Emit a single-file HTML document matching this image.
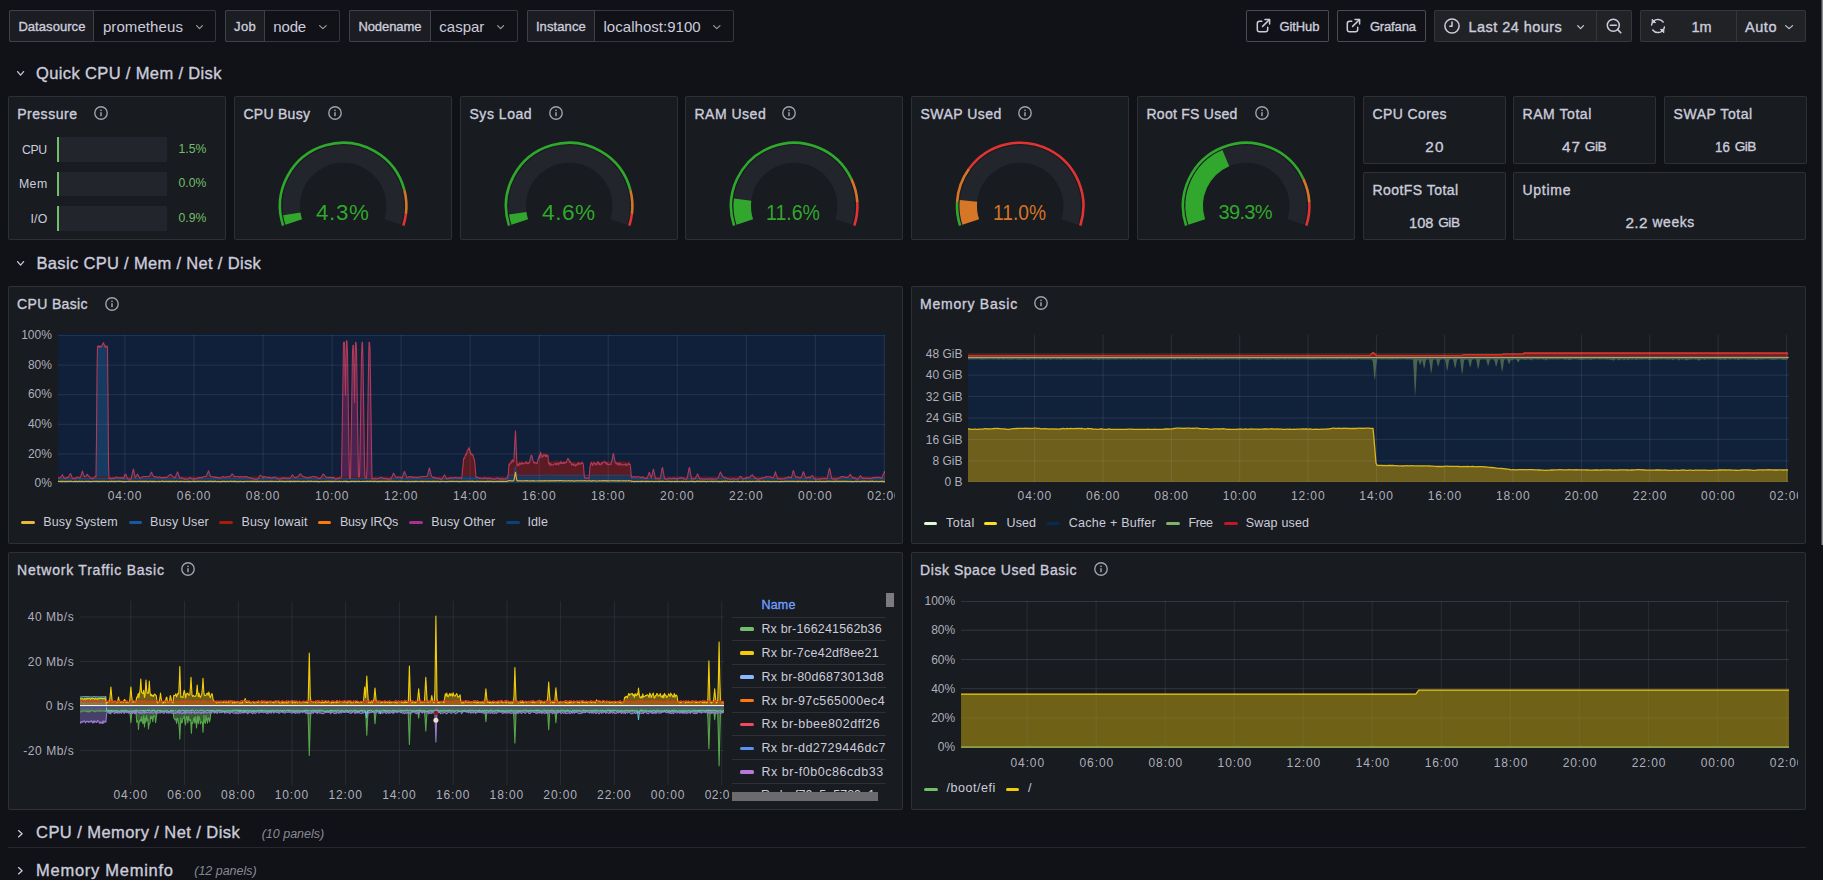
<!DOCTYPE html>
<html><head><meta charset="utf-8"><title>Node Exporter Full - Grafana</title>
<style>
html,body{margin:0;padding:0;}
body{width:1823px;height:880px;overflow:hidden;background:#111217;position:relative;font-family:"Liberation Sans",sans-serif;}
.t{position:absolute;white-space:pre;font-family:"Liberation Sans",sans-serif;}
.b{position:absolute;box-sizing:content-box;}
.s{position:absolute;overflow:hidden;}
</style></head><body>
<div class="b" style="left:9.00px;top:10.00px;width:205.00px;height:30.00px;background:#111217;border:1px solid rgba(204,204,220,0.2);border-radius:2px"></div>
<div class="b" style="left:9.00px;top:10.00px;width:83.00px;height:30.00px;background:#1b1d22;border:1px solid rgba(204,204,220,0.2);border-radius:2px;border-top-right-radius:0;border-bottom-right-radius:0"></div>
<span class="t" style="left:18.40px;top:19.95px;font-size:13.00px;line-height:13.00px;color:#ccccdc;letter-spacing:0.058px;-webkit-text-stroke:0.35px #ccccdc">Datasource</span>
<span class="t" style="left:102.90px;top:18.95px;font-size:15.00px;line-height:15.00px;color:#ccccdc;letter-spacing:0.087px">prometheus</span>
<svg class="s" style="left:193.60px;top:23.00px;" width="11.00" height="8.00" viewBox="0 0 11.00 8.00"><path d="M2.6 2.6 L5.50 5.60 L8.40 2.6" fill="none" stroke="#9a9ba3" stroke-width="1.2" stroke-linecap="round" stroke-linejoin="round"/></svg>
<div class="b" style="left:225.00px;top:10.00px;width:113.00px;height:30.00px;background:#111217;border:1px solid rgba(204,204,220,0.2);border-radius:2px"></div>
<div class="b" style="left:225.00px;top:10.00px;width:38.00px;height:30.00px;background:#1b1d22;border:1px solid rgba(204,204,220,0.2);border-radius:2px;border-top-right-radius:0;border-bottom-right-radius:0"></div>
<span class="t" style="left:234.10px;top:19.95px;font-size:13.00px;line-height:13.00px;color:#ccccdc;letter-spacing:0.372px;-webkit-text-stroke:0.35px #ccccdc">Job</span>
<span class="t" style="left:273.30px;top:18.95px;font-size:15.00px;line-height:15.00px;color:#ccccdc;letter-spacing:-0.158px">node</span>
<svg class="s" style="left:317.20px;top:23.00px;" width="11.80" height="8.00" viewBox="0 0 11.80 8.00"><path d="M2.6 2.6 L5.90 5.60 L9.20 2.6" fill="none" stroke="#9a9ba3" stroke-width="1.2" stroke-linecap="round" stroke-linejoin="round"/></svg>
<div class="b" style="left:349.00px;top:10.00px;width:167.00px;height:30.00px;background:#111217;border:1px solid rgba(204,204,220,0.2);border-radius:2px"></div>
<div class="b" style="left:349.00px;top:10.00px;width:80.00px;height:30.00px;background:#1b1d22;border:1px solid rgba(204,204,220,0.2);border-radius:2px;border-top-right-radius:0;border-bottom-right-radius:0"></div>
<span class="t" style="left:358.40px;top:19.95px;font-size:13.00px;line-height:13.00px;color:#ccccdc;letter-spacing:-0.085px;-webkit-text-stroke:0.35px #ccccdc">Nodename</span>
<span class="t" style="left:439.30px;top:18.95px;font-size:15.00px;line-height:15.00px;color:#ccccdc;letter-spacing:-0.003px">caspar</span>
<svg class="s" style="left:495.40px;top:23.00px;" width="11.20" height="8.00" viewBox="0 0 11.20 8.00"><path d="M2.6 2.6 L5.60 5.60 L8.60 2.6" fill="none" stroke="#9a9ba3" stroke-width="1.2" stroke-linecap="round" stroke-linejoin="round"/></svg>
<div class="b" style="left:527.00px;top:10.00px;width:205.00px;height:30.00px;background:#111217;border:1px solid rgba(204,204,220,0.2);border-radius:2px"></div>
<div class="b" style="left:527.00px;top:10.00px;width:66.00px;height:30.00px;background:#1b1d22;border:1px solid rgba(204,204,220,0.2);border-radius:2px;border-top-right-radius:0;border-bottom-right-radius:0"></div>
<span class="t" style="left:535.90px;top:19.95px;font-size:13.00px;line-height:13.00px;color:#ccccdc;letter-spacing:0.109px;-webkit-text-stroke:0.35px #ccccdc">Instance</span>
<span class="t" style="left:603.50px;top:18.95px;font-size:15.00px;line-height:15.00px;color:#ccccdc;letter-spacing:0.036px">localhost:9100</span>
<svg class="s" style="left:711.00px;top:23.00px;" width="11.60" height="8.00" viewBox="0 0 11.60 8.00"><path d="M2.6 2.6 L5.80 5.60 L9.00 2.6" fill="none" stroke="#9a9ba3" stroke-width="1.2" stroke-linecap="round" stroke-linejoin="round"/></svg>
<div class="b" style="left:1246.00px;top:10.00px;width:81.00px;height:30.00px;background:#111217;border:1px solid rgba(204,204,220,0.3);border-radius:2px"></div>
<svg class="s" style="left:1254.50px;top:16.80px;" width="17.00" height="17.00" viewBox="0 0 17.00 17.00"><path d="M6.8 4.3 H4.6 Q2.3 4.3 2.3 6.6 V12.4 Q2.3 14.7 4.6 14.7 H10.4 Q12.7 14.7 12.7 12.4 V10.2" fill="none" stroke="#ccccdc" stroke-width="1.5" stroke-linecap="round"/><path d="M7.6 9.4 L14.3 2.7" fill="none" stroke="#ccccdc" stroke-width="1.5" stroke-linecap="round"/><path d="M10.0 2.4 H14.6 V7.0" fill="none" stroke="#ccccdc" stroke-width="1.5" stroke-linecap="round" stroke-linejoin="round"/></svg>
<span class="t" style="left:1279.40px;top:19.95px;font-size:13.00px;line-height:13.00px;color:#ccccdc;letter-spacing:-0.071px;-webkit-text-stroke:0.35px #ccccdc">GitHub</span>
<div class="b" style="left:1337.00px;top:10.00px;width:87.00px;height:30.00px;background:#111217;border:1px solid rgba(204,204,220,0.3);border-radius:2px"></div>
<svg class="s" style="left:1345.00px;top:16.80px;" width="17.00" height="17.00" viewBox="0 0 17.00 17.00"><path d="M6.8 4.3 H4.6 Q2.3 4.3 2.3 6.6 V12.4 Q2.3 14.7 4.6 14.7 H10.4 Q12.7 14.7 12.7 12.4 V10.2" fill="none" stroke="#ccccdc" stroke-width="1.5" stroke-linecap="round"/><path d="M7.6 9.4 L14.3 2.7" fill="none" stroke="#ccccdc" stroke-width="1.5" stroke-linecap="round"/><path d="M10.0 2.4 H14.6 V7.0" fill="none" stroke="#ccccdc" stroke-width="1.5" stroke-linecap="round" stroke-linejoin="round"/></svg>
<span class="t" style="left:1369.90px;top:19.95px;font-size:13.00px;line-height:13.00px;color:#ccccdc;letter-spacing:-0.147px;-webkit-text-stroke:0.35px #ccccdc">Grafana</span>
<div class="b" style="left:1434.00px;top:10.00px;width:196.00px;height:30.00px;background:#202226;border:1px solid rgba(204,204,220,0.12);border-radius:2px"></div>
<div class="b" style="left:1596.00px;top:11.00px;width:1.00px;height:30.00px;background:rgba(204,204,220,0.12)"></div>
<svg class="s" style="left:1443.00px;top:17.00px;" width="18.00" height="18.00" viewBox="0 0 18.00 18.00"><circle cx="9" cy="9" r="7.1" fill="none" stroke="#ccccdc" stroke-width="1.5"/><path d="M9 5.0 V9.2 H6.8" fill="none" stroke="#ccccdc" stroke-width="1.5" stroke-linecap="round" stroke-linejoin="round"/></svg>
<span class="t" style="left:1468.50px;top:19.68px;font-size:14.50px;line-height:14.50px;color:#ccccdc;letter-spacing:0.452px;-webkit-text-stroke:0.35px #ccccdc">Last 24 hours</span>
<svg class="s" style="left:1574.50px;top:22.50px;" width="11.10" height="8.00" viewBox="0 0 11.10 8.00"><path d="M2.6 2.6 L5.55 5.60 L8.50 2.6" fill="none" stroke="#ccccdc" stroke-width="1.2" stroke-linecap="round" stroke-linejoin="round"/></svg>
<svg class="s" style="left:1604.00px;top:16.00px;" width="22.00" height="22.00" viewBox="0 0 22.00 22.00"><circle cx="9.3" cy="9.2" r="6.0" fill="none" stroke="#ccccdc" stroke-width="1.5"/><path d="M6.3 9.2 H12.3" stroke="#ccccdc" stroke-width="1.5" stroke-linecap="round"/><path d="M13.7 13.6 L16.8 16.8" stroke="#ccccdc" stroke-width="1.6" stroke-linecap="round"/></svg>
<div class="b" style="left:1640.00px;top:10.00px;width:164.00px;height:30.00px;background:#202226;border:1px solid rgba(204,204,220,0.12);border-radius:2px"></div>
<div class="b" style="left:1736.00px;top:11.00px;width:1.00px;height:30.00px;background:rgba(204,204,220,0.12)"></div>
<svg class="s" style="left:1648.00px;top:16.00px;" width="20.00" height="20.00" viewBox="0 0 20.00 20.00"><path d="M3.6 9.0 A6.5 6.5 0 0 1 15.2 6.0" fill="none" stroke="#ccccdc" stroke-width="1.5" stroke-linecap="round"/><path d="M16.4 11.0 A6.5 6.5 0 0 1 4.8 14.0" fill="none" stroke="#ccccdc" stroke-width="1.5" stroke-linecap="round"/><path d="M4.2 3.2 V6.6 H7.6 Z" fill="#ccccdc" stroke="#ccccdc" stroke-width="1" stroke-linejoin="round"/><path d="M15.8 16.8 V13.4 H12.4 Z" fill="#ccccdc" stroke="#ccccdc" stroke-width="1" stroke-linejoin="round"/></svg>
<span class="t" style="left:1691.43px;top:19.68px;font-size:14.50px;line-height:14.50px;color:#ccccdc;-webkit-text-stroke:0.35px #ccccdc">1m</span>
<span class="t" style="left:1745.00px;top:19.68px;font-size:14.50px;line-height:14.50px;color:#ccccdc;letter-spacing:0.558px;-webkit-text-stroke:0.35px #ccccdc">Auto</span>
<svg class="s" style="left:1782.60px;top:22.50px;" width="12.20" height="8.00" viewBox="0 0 12.20 8.00"><path d="M2.6 2.6 L6.10 5.60 L9.60 2.6" fill="none" stroke="#ccccdc" stroke-width="1.2" stroke-linecap="round" stroke-linejoin="round"/></svg>
<div class="b" style="left:1821.00px;top:0.00px;width:1.00px;height:545.00px;background:#4a4b50"></div>
<div class="b" style="left:1822.00px;top:0.00px;width:1.00px;height:545.00px;background:#8a8b90"></div>
<svg class="s" style="left:14.60px;top:68.70px;" width="11.20" height="8.50" viewBox="0 0 11.20 8.50"><path d="M2.6 2.6 L5.60 6.10 L8.60 2.6" fill="none" stroke="#ccccdc" stroke-width="1.3" stroke-linecap="round" stroke-linejoin="round"/></svg>
<span class="t" style="left:36.10px;top:64.97px;font-size:16.50px;line-height:16.50px;color:#ccccdc;letter-spacing:0.358px;-webkit-text-stroke:0.35px #ccccdc">Quick CPU / Mem / Disk</span>
<svg class="s" style="left:14.60px;top:259.30px;" width="11.20" height="8.50" viewBox="0 0 11.20 8.50"><path d="M2.6 2.6 L5.60 6.10 L8.60 2.6" fill="none" stroke="#ccccdc" stroke-width="1.3" stroke-linecap="round" stroke-linejoin="round"/></svg>
<span class="t" style="left:36.50px;top:255.17px;font-size:16.50px;line-height:16.50px;color:#ccccdc;letter-spacing:0.326px;-webkit-text-stroke:0.35px #ccccdc">Basic CPU / Mem / Net / Disk</span>
<svg class="s" style="left:15.70px;top:827.80px;" width="8.50" height="11.50" viewBox="0 0 8.50 11.50"><path d="M2.5 2.6 L6.10 5.75 L2.5 8.90" fill="none" stroke="#ccccdc" stroke-width="1.3" stroke-linecap="round" stroke-linejoin="round"/></svg>
<span class="t" style="left:36.10px;top:824.38px;font-size:16.50px;line-height:16.50px;color:#ccccdc;letter-spacing:0.422px;-webkit-text-stroke:0.35px #ccccdc">CPU / Memory / Net / Disk</span>
<span class="t" style="left:261.70px;top:827.77px;font-size:12.50px;line-height:12.50px;color:rgba(204,204,220,0.65);letter-spacing:-0.004px;font-style:italic">(10 panels)</span>
<div class="b" style="left:8.00px;top:847.00px;width:1798.00px;height:1.00px;background:rgba(204,204,220,0.12)"></div>
<svg class="s" style="left:15.70px;top:865.30px;" width="8.50" height="11.50" viewBox="0 0 8.50 11.50"><path d="M2.5 2.6 L6.10 5.75 L2.5 8.90" fill="none" stroke="#ccccdc" stroke-width="1.3" stroke-linecap="round" stroke-linejoin="round"/></svg>
<span class="t" style="left:36.10px;top:861.68px;font-size:16.50px;line-height:16.50px;color:#ccccdc;letter-spacing:0.720px;-webkit-text-stroke:0.35px #ccccdc">Memory Meminfo</span>
<span class="t" style="left:194.30px;top:865.08px;font-size:12.50px;line-height:12.50px;color:rgba(204,204,220,0.65);letter-spacing:-0.024px;font-style:italic">(12 panels)</span>
<div class="b" style="left:8.00px;top:96.00px;width:216.00px;height:142.00px;background:#181b1f;border:1px solid rgba(204,204,220,0.12);border-radius:2px"></div>
<span class="t" style="left:17.20px;top:106.90px;font-size:14.00px;line-height:14.00px;color:#ccccdc;letter-spacing:0.539px;-webkit-text-stroke:0.35px #ccccdc">Pressure</span>
<svg class="s" style="left:92.90px;top:105.00px;" width="16.00" height="16.00" viewBox="0 0 16.00 16.00"><circle cx="8" cy="8" r="6.20" fill="none" stroke="#a0a1aa" stroke-width="1.4"/><rect x="7.25" y="7.2" width="1.5" height="4" fill="#a0a1aa"/><circle cx="8" cy="5.3" r="0.85" fill="#a0a1aa"/></svg>
<span class="t" style="left:21.90px;top:143.64px;font-size:12.30px;line-height:12.30px;color:#ccccdc;letter-spacing:-0.333px">CPU</span>
<div class="b" style="left:57.00px;top:137.20px;width:109.70px;height:24.60px;background:#22252b"></div>
<div class="b" style="left:57.00px;top:137.20px;width:2.00px;height:24.60px;background:#73bf69"></div>
<span class="t" style="left:178.60px;top:143.23px;font-size:12.20px;line-height:12.20px;color:#73bf69">1.5%</span>
<span class="t" style="left:18.90px;top:177.54px;font-size:12.30px;line-height:12.30px;color:#ccccdc;letter-spacing:0.485px">Mem</span>
<div class="b" style="left:57.00px;top:172.10px;width:109.70px;height:23.70px;background:#22252b"></div>
<div class="b" style="left:57.00px;top:172.10px;width:2.00px;height:23.70px;background:#73bf69"></div>
<span class="t" style="left:178.60px;top:177.13px;font-size:12.20px;line-height:12.20px;color:#73bf69">0.0%</span>
<span class="t" style="left:30.50px;top:212.74px;font-size:12.30px;line-height:12.30px;color:#ccccdc;letter-spacing:0.152px">I/O</span>
<div class="b" style="left:57.00px;top:205.80px;width:109.70px;height:24.80px;background:#22252b"></div>
<div class="b" style="left:57.00px;top:205.80px;width:2.00px;height:24.80px;background:#73bf69"></div>
<span class="t" style="left:178.60px;top:212.33px;font-size:12.20px;line-height:12.20px;color:#73bf69">0.9%</span>
<div class="b" style="left:234.00px;top:96.00px;width:216.00px;height:142.00px;background:#181b1f;border:1px solid rgba(204,204,220,0.12);border-radius:2px"></div>
<span class="t" style="left:243.50px;top:106.90px;font-size:14.00px;line-height:14.00px;color:#ccccdc;letter-spacing:0.262px;-webkit-text-stroke:0.35px #ccccdc">CPU Busy</span>
<svg class="s" style="left:326.80px;top:105.00px;" width="16.00" height="16.00" viewBox="0 0 16.00 16.00"><circle cx="8" cy="8" r="6.20" fill="none" stroke="#a0a1aa" stroke-width="1.4"/><rect x="7.25" y="7.2" width="1.5" height="4" fill="#a0a1aa"/><circle cx="8" cy="5.3" r="0.85" fill="#a0a1aa"/></svg>
<svg class="s" style="left:234.00px;top:96.00px;overflow:visible" width="218.00" height="144.00" viewBox="0 0 218.00 144.00"><path d="M59.75 126.07 A52.00 52.00 0 1 1 158.65 126.07" fill="none" stroke="#22252b" stroke-width="17.5"/><path d="M59.75 126.07 A52.00 52.00 0 0 1 57.80 117.88" fill="none" stroke="rgba(50,172,45,0.97)" stroke-width="17.5"/><path d="M49.09 129.53 A63.20 63.20 0 1 1 170.41 94.28" fill="none" stroke="rgba(50,172,45,0.97)" stroke-width="2.6"/><path d="M170.41 94.28 A63.20 63.20 0 0 1 171.90 117.92" fill="none" stroke="rgba(237,129,40,0.89)" stroke-width="2.6"/><path d="M171.90 117.92 A63.20 63.20 0 0 1 169.31 129.53" fill="none" stroke="rgba(245,54,54,0.9)" stroke-width="2.6"/></svg>
<span class="t" style="left:316.00px;top:202.01px;font-size:22.35px;line-height:22.35px;color:rgba(50,172,45,0.97);letter-spacing:0.658px">4.3%</span>
<div class="b" style="left:460.00px;top:96.00px;width:216.00px;height:142.00px;background:#181b1f;border:1px solid rgba(204,204,220,0.12);border-radius:2px"></div>
<span class="t" style="left:469.50px;top:106.90px;font-size:14.00px;line-height:14.00px;color:#ccccdc;letter-spacing:0.533px;-webkit-text-stroke:0.35px #ccccdc">Sys Load</span>
<svg class="s" style="left:548.00px;top:105.00px;" width="16.00" height="16.00" viewBox="0 0 16.00 16.00"><circle cx="8" cy="8" r="6.20" fill="none" stroke="#a0a1aa" stroke-width="1.4"/><rect x="7.25" y="7.2" width="1.5" height="4" fill="#a0a1aa"/><circle cx="8" cy="5.3" r="0.85" fill="#a0a1aa"/></svg>
<svg class="s" style="left:460.00px;top:96.00px;overflow:visible" width="218.00" height="144.00" viewBox="0 0 218.00 144.00"><path d="M59.75 126.07 A52.00 52.00 0 1 1 158.65 126.07" fill="none" stroke="#22252b" stroke-width="17.5"/><path d="M59.75 126.07 A52.00 52.00 0 0 1 57.71 117.29" fill="none" stroke="rgba(50,172,45,0.97)" stroke-width="17.5"/><path d="M49.09 129.53 A63.20 63.20 0 1 1 170.41 94.28" fill="none" stroke="rgba(50,172,45,0.97)" stroke-width="2.6"/><path d="M170.41 94.28 A63.20 63.20 0 0 1 171.90 117.92" fill="none" stroke="rgba(237,129,40,0.89)" stroke-width="2.6"/><path d="M171.90 117.92 A63.20 63.20 0 0 1 169.31 129.53" fill="none" stroke="rgba(245,54,54,0.9)" stroke-width="2.6"/></svg>
<span class="t" style="left:542.10px;top:201.77px;font-size:22.63px;line-height:22.63px;color:rgba(50,172,45,0.97);letter-spacing:0.479px">4.6%</span>
<div class="b" style="left:685.00px;top:96.00px;width:216.00px;height:142.00px;background:#181b1f;border:1px solid rgba(204,204,220,0.12);border-radius:2px"></div>
<span class="t" style="left:694.50px;top:106.90px;font-size:14.00px;line-height:14.00px;color:#ccccdc;letter-spacing:0.501px;-webkit-text-stroke:0.35px #ccccdc">RAM Used</span>
<svg class="s" style="left:780.90px;top:105.00px;" width="16.00" height="16.00" viewBox="0 0 16.00 16.00"><circle cx="8" cy="8" r="6.20" fill="none" stroke="#a0a1aa" stroke-width="1.4"/><rect x="7.25" y="7.2" width="1.5" height="4" fill="#a0a1aa"/><circle cx="8" cy="5.3" r="0.85" fill="#a0a1aa"/></svg>
<svg class="s" style="left:685.00px;top:96.00px;overflow:visible" width="218.00" height="144.00" viewBox="0 0 218.00 144.00"><path d="M59.75 126.07 A52.00 52.00 0 1 1 158.65 126.07" fill="none" stroke="#22252b" stroke-width="17.5"/><path d="M59.75 126.07 A52.00 52.00 0 0 1 57.59 103.61" fill="none" stroke="rgba(50,172,45,0.97)" stroke-width="17.5"/><path d="M49.09 129.53 A63.20 63.20 0 0 1 166.39 83.09" fill="none" stroke="rgba(50,172,45,0.97)" stroke-width="2.6"/><path d="M166.39 83.09 A63.20 63.20 0 0 1 172.28 106.03" fill="none" stroke="rgba(237,129,40,0.89)" stroke-width="2.6"/><path d="M172.28 106.03 A63.20 63.20 0 0 1 169.31 129.53" fill="none" stroke="rgba(245,54,54,0.9)" stroke-width="2.6"/></svg>
<span class="t" style="left:766.20px;top:201.86px;font-size:21.93px;line-height:21.93px;color:rgba(50,172,45,0.97);transform:scaleX(0.8920);transform-origin:0 0">11.6%</span>
<div class="b" style="left:911.00px;top:96.00px;width:216.00px;height:142.00px;background:#181b1f;border:1px solid rgba(204,204,220,0.12);border-radius:2px"></div>
<span class="t" style="left:920.50px;top:106.90px;font-size:14.00px;line-height:14.00px;color:#ccccdc;letter-spacing:0.459px;-webkit-text-stroke:0.35px #ccccdc">SWAP Used</span>
<svg class="s" style="left:1016.90px;top:105.00px;" width="16.00" height="16.00" viewBox="0 0 16.00 16.00"><circle cx="8" cy="8" r="6.20" fill="none" stroke="#a0a1aa" stroke-width="1.4"/><rect x="7.25" y="7.2" width="1.5" height="4" fill="#a0a1aa"/><circle cx="8" cy="5.3" r="0.85" fill="#a0a1aa"/></svg>
<svg class="s" style="left:911.00px;top:96.00px;overflow:visible" width="218.00" height="144.00" viewBox="0 0 218.00 144.00"><path d="M59.75 126.07 A52.00 52.00 0 1 1 158.65 126.07" fill="none" stroke="#22252b" stroke-width="17.5"/><path d="M59.75 126.07 A52.00 52.00 0 0 1 57.46 104.78" fill="none" stroke="rgba(237,129,40,0.89)" stroke-width="17.5"/><path d="M49.09 129.53 A63.20 63.20 0 0 1 46.12 106.03" fill="none" stroke="rgba(50,172,45,0.97)" stroke-width="2.6"/><path d="M46.12 106.03 A63.20 63.20 0 0 1 58.07 72.85" fill="none" stroke="rgba(237,129,40,0.89)" stroke-width="2.6"/><path d="M58.07 72.85 A63.20 63.20 0 0 1 169.31 129.53" fill="none" stroke="rgba(245,54,54,0.9)" stroke-width="2.6"/></svg>
<span class="t" style="left:992.90px;top:201.86px;font-size:21.93px;line-height:21.93px;color:rgba(237,129,40,0.89);transform:scaleX(0.8754);transform-origin:0 0">11.0%</span>
<div class="b" style="left:1137.00px;top:96.00px;width:216.00px;height:142.00px;background:#181b1f;border:1px solid rgba(204,204,220,0.12);border-radius:2px"></div>
<span class="t" style="left:1146.50px;top:106.90px;font-size:14.00px;line-height:14.00px;color:#ccccdc;letter-spacing:0.262px;-webkit-text-stroke:0.35px #ccccdc">Root FS Used</span>
<svg class="s" style="left:1254.10px;top:105.00px;" width="16.00" height="16.00" viewBox="0 0 16.00 16.00"><circle cx="8" cy="8" r="6.20" fill="none" stroke="#a0a1aa" stroke-width="1.4"/><rect x="7.25" y="7.2" width="1.5" height="4" fill="#a0a1aa"/><circle cx="8" cy="5.3" r="0.85" fill="#a0a1aa"/></svg>
<svg class="s" style="left:1137.00px;top:96.00px;overflow:visible" width="218.00" height="144.00" viewBox="0 0 218.00 144.00"><path d="M59.75 126.07 A52.00 52.00 0 1 1 158.65 126.07" fill="none" stroke="#22252b" stroke-width="17.5"/><path d="M59.75 126.07 A52.00 52.00 0 0 1 88.79 62.17" fill="none" stroke="rgba(50,172,45,0.97)" stroke-width="17.5"/><path d="M49.09 129.53 A63.20 63.20 0 0 1 166.39 83.09" fill="none" stroke="rgba(50,172,45,0.97)" stroke-width="2.6"/><path d="M166.39 83.09 A63.20 63.20 0 0 1 172.28 106.03" fill="none" stroke="rgba(237,129,40,0.89)" stroke-width="2.6"/><path d="M172.28 106.03 A63.20 63.20 0 0 1 169.31 129.53" fill="none" stroke="rgba(245,54,54,0.9)" stroke-width="2.6"/></svg>
<span class="t" style="left:1218.40px;top:201.61px;font-size:20.11px;line-height:20.11px;color:rgba(50,172,45,0.97);letter-spacing:-0.679px">39.3%</span>
<div class="b" style="left:1363.00px;top:96.00px;width:141.00px;height:66.00px;background:#181b1f;border:1px solid rgba(204,204,220,0.12);border-radius:2px"></div>
<span class="t" style="left:1372.50px;top:107.30px;font-size:14.00px;line-height:14.00px;color:#ccccdc;letter-spacing:0.400px;-webkit-text-stroke:0.35px #ccccdc">CPU Cores</span>
<span class="t" style="left:1425.20px;top:139.00px;font-size:15.30px;line-height:15.30px;color:#ccccdc;letter-spacing:1.186px;-webkit-text-stroke:0.35px #ccccdc">20</span>
<div class="b" style="left:1513.00px;top:96.00px;width:141.00px;height:66.00px;background:#181b1f;border:1px solid rgba(204,204,220,0.12);border-radius:2px"></div>
<span class="t" style="left:1522.50px;top:107.30px;font-size:14.00px;line-height:14.00px;color:#ccccdc;letter-spacing:0.560px;-webkit-text-stroke:0.35px #ccccdc">RAM Total</span>
<span class="t" style="left:1561.90px;top:139.00px;font-size:15.30px;line-height:15.30px;color:#ccccdc;letter-spacing:1.186px;-webkit-text-stroke:0.35px #ccccdc">47</span>
<span class="t" style="left:1584.75px;top:140.35px;font-size:13.70px;line-height:13.70px;color:#ccccdc;letter-spacing:-0.494px;-webkit-text-stroke:0.35px #ccccdc">GiB</span>
<div class="b" style="left:1664.00px;top:96.00px;width:141.00px;height:66.00px;background:#181b1f;border:1px solid rgba(204,204,220,0.12);border-radius:2px"></div>
<span class="t" style="left:1673.50px;top:107.30px;font-size:14.00px;line-height:14.00px;color:#ccccdc;letter-spacing:0.548px;-webkit-text-stroke:0.35px #ccccdc">SWAP Total</span>
<span class="t" style="left:1714.80px;top:139.00px;font-size:15.30px;line-height:15.30px;color:#ccccdc;transform:scaleX(0.8699);transform-origin:0 0;-webkit-text-stroke:0.35px #ccccdc">16</span>
<span class="t" style="left:1734.80px;top:140.35px;font-size:13.70px;line-height:13.70px;color:#ccccdc;letter-spacing:-0.569px;-webkit-text-stroke:0.35px #ccccdc">GiB</span>
<div class="b" style="left:1363.00px;top:172.00px;width:141.00px;height:66.00px;background:#181b1f;border:1px solid rgba(204,204,220,0.12);border-radius:2px"></div>
<span class="t" style="left:1372.50px;top:183.40px;font-size:14.00px;line-height:14.00px;color:#ccccdc;letter-spacing:0.448px;-webkit-text-stroke:0.35px #ccccdc">RootFS Total</span>
<span class="t" style="left:1408.80px;top:215.00px;font-size:15.30px;line-height:15.30px;color:#ccccdc;transform:scaleX(0.9561);transform-origin:0 0;-webkit-text-stroke:0.35px #ccccdc">108</span>
<span class="t" style="left:1438.20px;top:216.35px;font-size:13.70px;line-height:13.70px;color:#ccccdc;letter-spacing:-0.469px;-webkit-text-stroke:0.35px #ccccdc">GiB</span>
<div class="b" style="left:1513.00px;top:172.00px;width:291.00px;height:66.00px;background:#181b1f;border:1px solid rgba(204,204,220,0.12);border-radius:2px"></div>
<span class="t" style="left:1522.50px;top:183.40px;font-size:14.00px;line-height:14.00px;color:#ccccdc;letter-spacing:0.730px;-webkit-text-stroke:0.35px #ccccdc">Uptime</span>
<span class="t" style="left:1625.40px;top:215.00px;font-size:15.30px;line-height:15.30px;color:#ccccdc;letter-spacing:0.466px;-webkit-text-stroke:0.35px #ccccdc">2.2</span>
<span class="t" style="left:1652.53px;top:216.19px;font-size:13.90px;line-height:13.90px;color:#ccccdc;letter-spacing:0.570px;-webkit-text-stroke:0.35px #ccccdc">weeks</span>
<div class="b" style="left:8.00px;top:286.00px;width:893.00px;height:256.00px;background:#181b1f;border:1px solid rgba(204,204,220,0.12);border-radius:2px"></div>
<span class="t" style="left:17.00px;top:297.10px;font-size:14.00px;line-height:14.00px;color:#ccccdc;letter-spacing:0.364px;-webkit-text-stroke:0.35px #ccccdc">CPU Basic</span>
<svg class="s" style="left:103.80px;top:295.50px;" width="16.00" height="16.00" viewBox="0 0 16.00 16.00"><circle cx="8" cy="8" r="6.20" fill="none" stroke="#a0a1aa" stroke-width="1.4"/><rect x="7.25" y="7.2" width="1.5" height="4" fill="#a0a1aa"/><circle cx="8" cy="5.3" r="0.85" fill="#a0a1aa"/></svg>
<svg class="s" style="left:57.60px;top:335.00px;" width="827.80" height="148.00" viewBox="0 0 827.80 148.00"><rect x="0" y="0" width="827.8" height="148.0" fill="#10203a"/><path d="M0 143.3l.5-.1 .5-.5 .5 .1 .5 0 .5-.5 .5-.3 .5-.7 .5-.8 .5-.8 .5 1.2 .5 .9 .5 1.1 .5 .3 .5-.1 .5 .6 .5-.6 .5-.5 .5-.2 .5-.2 .5 .4 .5-.2 .5-1.4 .5-.8 .5-1 .5-.7 .5 1.3 .5 1.4 .5 1.3 .5 1 .5 .2 .5-.1 .5 0 .5-.2 .5 0 .5 .3 .5-.6 .5-.6 .5-.4 .5-.2 .5 .2 .5 .3 .5 .2 .5 .6 .5-.4 .5-.7 .5-1.7 .5-1.2 .5-1.9 .5-1.2 .5 1.9 .5 1.7 .5 .9 .5 1.3 .5-.3 .5-.2 .5-.2 .5-.8 .5-1 .5-.2 .5 1.2 .5 .9 .5 .1 .5 .4 .5 .5 .5 .3 .5 .5 .5 .5 .5-.3 .5 .4 .5-.1 .5-.3 .5-.4 .5-.9 .5-.3 .5-.5 .5 .8 .5-38.3 .5-65.1 .5-27.3 .5-.5 .5 1.1 .5-.9 .5 1.4 .5-1.6 .5 .9 .5 .5 .5-1.1 .5 .1 .5-1.8 .5-1 .5-.7 .5 1.8 .5 .3 .5 2.7 .5-1.5 .5 .3 .5 .8 .5-1 .5 .7 .5 52.1 .5 65.2 .5 14.5 .5 0 .5-.1 .5-.4 .5 .4 .5 .4 .5-.5 .5-.4 .5 .3 .5 .4 .5-.3 .5-.5 .5 .3 .5-.5 .5-.4 .5-.2 .5 .1 .5 .5 .5 .5 .5-.5 .5 .3 .5-.2 .5 .3 .5-.4 .5-.1 .5 .2 .5 .4 .5-.3 .5 .5 .5-.2 .5-1.1 .5-1.5 .5-1.1 .5-.3 .5 .5 .5 1.3 .5 1.6 .5 1.3 .5 .3 .5 0 .5 0 .5 0 .5-.1 .5 .1 .5 0 .5-1.7 .5-2.6 .5-2.2 .5-2.3 .5-1.3 .5 2.5 .5 2.5 .5 2.6 .5 1 .5-.9 .5-1.5 .5-.5 .5-.8 .5 1.1 .5 .7 .5 1.2 .5 .5 .5 .7 .5-.1 .5-.3 .5-.4 .5-.3 .5-.3 .5-.3 .5 0 .5 .2 .5-.2 .5 0 .5 0 .5 .1 .5-.1 .5 0 .5 0 .5 0 .5 .1 .5-.1 .5-.6 .5-.5 .5-1.2 .5-1.3 .5-.7 .5 1.1 .5 1.1 .5 .9 .5 1 .5 .3 .5-.1 .5 .5 .5-.3 .5 .5 .5-.1 .5 0 .5 .4 .5-.3 .5 0 .5-.1 .5-.5 .5 .3 .5 .6 .5 .2 .5-.2 .5 .3 .5 .4 .5-.4 .5-.2 .5 0 .5-.4 .5 .2 .5-.2 .5 .3 .5 .1 .5-.3 .5-.5 .5-.3 .5-.3 .5-.7 .5-.5 .5-.2 .5-.4 .5 .2 .5 .4 .5 .7 .5 .7 .5 .4 .5 .3 .5 .1 .5 .3 .5 .3 .5-.7 .5-1.5 .5-1.3 .5-1.2 .5-1.2 .5 .8 .5 1.4 .5 1.9 .5 1.9 .5-.2 .5 .5 .5-.2 .5-.1 .5 .2 .5-.3 .5 .5 .5 .5 .5 0 .5 .4 .5-.4 .5 .3 .5 .1 .5 0 .5-.2 .5 .1 .5-.2 .5-.2 .5-.3 .5-.6 .5-.2 .5 .4 .5 0 .5 .4 .5 .5 .5 .1 .5-.3 .5 .4 .5 .1 .5 0 .5-.3 .5 0 .5-.1 .5-.3 .5 .1 .5-.4 .5-.4 .5 .4 .5-.5 .5-.2 .5 .4 .5 .1 .5-.2 .5-.5 .5 .2 .5-.1 .5-.5 .5-.3 .5-.1 .5 0 .5 0 .5 .3 .5-.2 .5-.9 .5-1.4 .5-1.3 .5-1 .5-1.2 .5 1.4 .5 1.3 .5 1.4 .5 1.3 .5 .5 .5-.2 .5 0 .5 .2 .5 .5 .5 0 .5 0 .5-.3 .5 0 .5 .5 .5-.3 .5 .5 .5-.4 .5 .4 .5 .2 .5-.3 .5 .4 .5 .4 .5 0 .5-.3 .5-.4 .5-.2 .5-.5 .5 0 .5-.4 .5 .5 .5 .3 .5 0 .5 .2 .5-.2 .5-.2 .5 0 .5-.4 .5-.1 .5 .2 .5 .1 .5-.4 .5 0 .5 .3 .5-.7 .5-.7 .5-.7 .5-.6 .5-.1 .5 .6 .5 .7 .5 .6 .5 1.2 .5-.4 .5 0 .5 .1 .5-.3 .5 0 .5 0 .5 0 .5 .5 .5 0 .5 .1 .5-.6 .5 0 .5 .3 .5 0 .5 .4 .5 .1 .5-.4 .5-.4 .5 0 .5 .2 .5 .4 .5-.1 .5-.5 .5 .4 .5-.3 .5 .6 .5 .3 .5 .3 .5-.2 .5 .2 .5 .2 .5-.1 .5 .4 .5-.2 .5 .4 .5 0 .5 .3 .5 .3 .5 0 .5 .1 .5 0 .5 0 .5-.1 .5 .1 .5 0 .5-.2 .5-.2 .5-.4 .5-1.1 .5-.8 .5-1.1 .5-.1 .5 .4 .5 .3 .5 .2 .5 .9 .5 .4 .5-.5 .5 .3 .5-.6 .5-.2 .5 .4 .5 .3 .5-.2 .5 .2 .5 .5 .5-.4 .5 .1 .5-.3 .5 .4 .5 .1 .5-.2 .5 .6 .5 .3 .5-.2 .5-.5 .5-.5 .5 .4 .5 0 .5-.3 .5 0 .5-.2 .5 .4 .5 .5 .5 .4 .5 .6 .5-.1 .5 0 .5-.1 .5 .5 .5 0 .5 0 .5-.5 .5-.5 .5-.5 .5 .4 .5 .6 .5-.6 .5 .1 .5-.3 .5 .2 .5 0 .5 0 .5 .1 .5-.2 .5 .6 .5-.2 .5-.4 .5 .4 .5 0 .5-.3 .5-.5 .5-.6 .5-.6 .5-1.1 .5-.4 .5 .6 .5 .6 .5 .8 .5 .6 .5 0 .5 .1 .5-.1 .5 0 .5-.6 .5-.3 .5 .3 .5-.8 .5-.7 .5-.7 .5-.6 .5-.3 .5 .5 .5 .7 .5 .7 .5 .7 .5 .1 .5 .1 .5-.1 .5 .5 .5 .2 .5 0 .5 .6 .5 .2 .5-.2 .5-.1 .5 .3 .5-.5 .5-.2 .5 .1 .5-.1 .5-.1 .5-.1 .5 .2 .5-.6 .5-.2 .5 0 .5 0 .5 0 .5 .6 .5-.2 .5-.3 .5 .3 .5 .1 .5 .6 .5 .3 .5 .2 .5 .5 .5 .2 .5-.4 .5-.1 .5 0 .5-.6 .5-.4 .5-1.3 .5-.8 .5-1.1 .5 .1 .5 .6 .5 .3 .5 1.3 .5 .1 .5 .6 .5 0 .5 .4 .5 0 .5-.1 .5 .5 .5-.5 .5 0 .5 0 .5-.1 .5 .2 .5 .2 .5-.2 .5 0 .5 .2 .5-.2 .5 .2 .5 .6 .5 .3 .5 .5 .5 .1 .5-.3 .5 .1 .5-.5 .5-.3 .5 .5 .5-.5 .5-.6 .5 .5 .5-.4 .5 .1 .5-1.5 .5-33.5 .5-33.4 .5-33.5 .5-33.5 .5 0 .5 0 .5 33.5 .5 19.1 .5-33.8 .5-20.3 .5 0 .5 13.6 .5 33.8 .5 33.8 .5 33.8 .5 22.2 .5 .1 .5-.2 .5-27.8 .5-32.7 .5-32.8 .5-32.8 .5-6.5 .5 0 .5 26.2 .5 31.1 .5-33.5 .5-26.8 .5 0 .5 6.7 .5 33.5 .5 33.4 .5 33.5 .5 27.4 .5-.2 .5-.1 .5-20.4 .5-33.5 .5-33.4 .5-33.5 .5-13.4 .5 0 .5 20.1 .5 33.5 .5 33.4 .5 33.5 .5 14.9 .5 .1 .5-.1 .5 .4 .5-8.6 .5-33.5 .5-33.4 .5-33.5 .5-26.8 .5 0 .5 6.7 .5 33.5 .5 33.4 .5 33.5 .5 29.4 .5-.4 .5 .5 .5 .2 .5-.4 .5-.2 .5-.3 .5 .4 .5 .1 .5 .2 .5-.3 .5 .1 .5-.2 .5-.5 .5 .2 .5-.1 .5-.3 .5-.5 .5 .1 .5 .2 .5 .4 .5-.4 .5 .5 .5 .5 .5-.1 .5 0 .5-.2 .5 .3 .5-.4 .5 .5 .5 .4 .5-.2 .5 .2 .5 0 .5-.3 .5-.2 .5 .2 .5 .3 .5 0 .5-1.1 .5-1.2 .5-1.2 .5-1.6 .5-.9 .5 .8 .5 .8 .5 .9 .5 1.4 .5-.1 .5 .3 .5 .2 .5 .1 .5-.5 .5-.5 .5 .3 .5 .2 .5 .1 .5 .2 .5 .1 .5 .2 .5 .3 .5-.9 .5-1.7 .5-1.4 .5-1.7 .5-.9 .5 1.7 .5 1.1 .5 .9 .5 1.6 .5 .8 .5 0 .5-.1 .5 0 .5-.6 .5-.2 .5-.1 .5 .5 .5-.1 .5-.3 .5 .5 .5 .5 .5-.3 .5-.5 .5 .5 .5-.1 .5 .4 .5-.3 .5-.2 .5 .3 .5 .4 .5-.4 .5 0 .5-.3 .5 .1 .5 .2 .5-.5 .5-.2 .5 0 .5-.1 .5-.1 .5 0 .5 0 .5 .1 .5-.1 .5 0 .5 0 .5 0 .5 0 .5 0 .5 0 .5-1.2 .5-2 .5-2.1 .5-2 .5-1.1 .5 2.1 .5 2.5 .5 1.7 .5 1.7 .5 .5 .5 .4 .5 .4 .5 .1 .5 .2 .5-.5 .5 .5 .5 .2 .5 .5 .5-.2 .5-.3 .5 .3 .5 .6 .5 0 .5-.1 .5-.5 .5 .6 .5 .4 .5 0 .5 0 .5 0 .5-.9 .5-1.1 .5-.7 .5-1 .5-.6 .5 1 .5 .7 .5 1.3 .5 .9 .5-.2 .5 .1 .5 .2 .5-.4 .5-.5 .5 .2 .5-.1 .5-.5 .5 0 .5 .3 .5 .6 .5-.6 .5-.3 .5 .1 .5 0 .5 0 .5 .2 .5-.5 .5-.2 .5 .3 .5 .6 .5 0 .5 .1 .5-.3 .5-.3 .5-.1 .5 .4 .5 .4 .5 .2 .5 .3 .5-2.7 .5-6.2 .5-4.2 .5-6.2 .5-1.5 .5 .3 .5-1.7 .5-1.8 .5 .3 .5-.9 .5-2.6 .5-1.5 .5-.3 .5-.2 .5-1.7 .5 1.7 .5 2.5 .5 .5 .5 1.1 .5 1 .5-.1 .5 0 .5 .8 .5 2.6 .5 .4 .5 2.1 .5 4.8 .5 6.3 .5 5.6 .5 0 .5 .4 .5-.4 .5 .2 .5 .3 .5 .5 .5 .2 .5 0 .5-.2 .5 .1 .5-.2 .5 .5 .5 .1 .5 .1 .5-.6 .5-.4 .5-.2 .5 .6 .5 .2 .5-.3 .5 .3 .5-.1 .5 .1 .5 .6 .5-.6 .5-.4 .5 .4 .5-.2 .5 .3 .5 .1 .5 0 .5 .2 .5 .2 .5 .2 .5-.2 .5 .2 .5 0 .5-.3 .5 .2 .5-.5 .5-.1 .5-.3 .5 .2 .5-.4 .5 .5 .5 .4 .5 .3 .5-.3 .5-.2 .5 .4 .5 .1 .5-.4 .5-.2 .5 .5 .5 .1 .5 0 .5 0 .5 0 .5 0 .5-.5 .5 0 .5 0 .5-.1 .5-1.6 .5-5.5 .5-7.5 .5 1.1 .5-1.1 .5-.7 .5-.4 .5 .1 .5-2.8 .5-.3 .5 1.9 .5 0 .5-2.8 .5-10.7 .5-9.8 .5-7.7 .5 11.3 .5 12.6 .5 11.3 .5-1.9 .5 .2 .5 .8 .5 .5 .5-2.6 .5 .4 .5 .7 .5 .6 .5-2.2 .5 1.3 .5-.4 .5 .4 .5 .1 .5-.5 .5 .3 .5-.9 .5 0 .5-1.1 .5 1.5 .5 .3 .5 .2 .5-1.2 .5 1.3 .5-.7 .5-.5 .5-2.8 .5-1.2 .5-3.1 .5-.2 .5 .9 .5 2 .5 2.6 .5 .7 .5 1.8 .5-.7 .5-.1 .5 .2 .5 1 .5-.9 .5 .8 .5-1.8 .5-2.8 .5-.2 .5-2.5 .5-1 .5 2.6 .5-5.8 .5 2.4 .5 .1 .5 2.6 .5-.1 .5-.3 .5-1.8 .5-.3 .5 .9 .5-.1 .5 1 .5-2 .5 2 .5-1 .5 .6 .5-.6 .5 7.6 .5 1.3 .5-1.4 .5-.2 .5 2.9 .5-1.7 .5 .7 .5 .2 .5 0 .5 .2 .5-.4 .5 0 .5-.7 .5-.6 .5-.1 .5 1.6 .5-1.1 .5 .4 .5-.4 .5-1.1 .5 2.2 .5-1 .5-.5 .5-1 .5 .9 .5-1.9 .5 2.1 .5-.5 .5 .5 .5-.6 .5-1 .5 1.9 .5-.3 .5-1.1 .5 .6 .5-.6 .5 .2 .5-2.5 .5-.8 .5-1.1 .5 1.4 .5 0 .5 2.7 .5-.8 .5 .8 .5 .4 .5 2.4 .5-.3 .5-.8 .5 0 .5 1.4 .5-1.5 .5 1.4 .5-.2 .5 1.1 .5-1.6 .5 .6 .5-.1 .5-1.6 .5 .7 .5-1.6 .5 1.7 .5-.7 .5 .8 .5-.9 .5-.1 .5-.6 .5 .7 .5-1.1 .5 1.4 .5 2.3 .5 7.2 .5 4.5 .5 .2 .5 .5 .5-.4 .5-.4 .5 .1 .5 .2 .5-.1 .5 .5 .5 .6 .5-6.3 .5-5.3 .5-2.9 .5-1.1 .5-.9 .5 1.5 .5 1.4 .5-.1 .5-2.3 .5-.2 .5 .4 .5 1.1 .5-.8 .5 1.3 .5 .2 .5-1 .5-2.3 .5 1.2 .5-.7 .5 2.5 .5-1.4 .5 1.4 .5 0 .5 .1 .5-1.9 .5 1.1 .5-.9 .5-.7 .5-.2 .5-.4 .5 .6 .5 .2 .5-.5 .5 1.6 .5 .5 .5-1.4 .5 1.6 .5 .1 .5 .2 .5-.3 .5-.1 .5 0 .5-.3 .5 .7 .5-3.7 .5 .1 .5-3.4 .5-2.9 .5-1.2 .5 3.1 .5 2.5 .5 2.1 .5 1.9 .5 .1 .5 .7 .5-1.4 .5 1.2 .5 1.1 .5-.8 .5-1.2 .5 2.2 .5-1 .5-.8 .5 1.3 .5-.3 .5 .9 .5 .1 .5-.4 .5-.5 .5 .2 .5 .1 .5 0 .5-1 .5 2 .5-.6 .5-.4 .5 .3 .5-1.4 .5 .8 .5-1 .5 1 .5 0 .5 2.5 .5 6.5 .5 3.9 .5-.2 .5 0 .5-.6 .5 .4 .5-.3 .5 .4 .5-.2 .5 .4 .5 0 .5-.3 .5-.3 .5-.1 .5 .3 .5 0 .5 .3 .5-.1 .5 0 .5 .6 .5-.1 .5-.3 .5-.1 .5-.4 .5 .4 .5 .4 .5 .6 .5 0 .5 0 .5 .1 .5 .3 .5-.4 .5 .6 .5-1.3 .5-1.5 .5-1.4 .5-1.7 .5-.5 .5 1.8 .5 1.6 .5 1.8 .5 0 .5-2.3 .5-2.3 .5-2.2 .5-1.5 .5 2.4 .5 2 .5 2.7 .5 2.4 .5 .5 .5-.3 .5-.4 .5-.3 .5 .5 .5 .1 .5 .2 .5 .2 .5-.6 .5-1.1 .5-2.7 .5-3 .5-3.2 .5-1.2 .5 2.7 .5 2.4 .5 3.3 .5 2.8 .5 .1 .5 .4 .5 .1 .5 0 .5 0 .5 0 .5 0 .5-.6 .5-.3 .5-.3 .5 .3 .5 .3 .5-.1 .5 .3 .5 .1 .5-.5 .5 .1 .5 .2 .5-.6 .5-.1 .5 .6 .5 .1 .5-.2 .5 .5 .5 .2 .5-.3 .5-.4 .5-.1 .5-.5 .5 .1 .5 .1 .5-.4 .5 .1 .5-.3 .5 .3 .5 .2 .5 .4 .5-.1 .5 .4 .5 .4 .5 .1 .5 0 .5 0 .5 0 .5-.6 .5-1.9 .5-3.1 .5-2.3 .5-2.6 .5-1.1 .5 2.5 .5 2.8 .5 3 .5 2.7 .5 .6 .5 0 .5 0 .5-.5 .5-.3 .5 .3 .5 .1 .5-.3 .5-1.5 .5-.8 .5-1.3 .5-.9 .5 .5 .5 1.6 .5 1.2 .5 1.2 .5 .6 .5-.4 .5 .2 .5-.3 .5 0 .5 .5 .5 .1 .5 0 .5 0 .5 0 .5-.2 .5 .2 .5 0 .5 0 .5-.1 .5 .1 .5-.3 .5 .3 .5-.3 .5-.2 .5 .4 .5 .1 .5 0 .5-.3 .5 .1 .5 .1 .5-.4 .5 .3 .5 .2 .5 0 .5 0 .5 0 .5 0 .5-.2 .5-.1 .5-.3 .5-.6 .5-.6 .5-1.5 .5-1.9 .5-1 .5-1 .5 1.1 .5 .8 .5 1 .5 1.6 .5 .1 .5 .5 .5 .1 .5 .1 .5 .6 .5 .1 .5 .2 .5 0 .5 .3 .5 .4 .5 .1 .5 0 .5 .2 .5-.2 .5 .2 .5 0 .5 0 .5 0 .5 0 .5-.1 .5-.3 .5 0 .5-.3 .5 .6 .5 .1 .5 0 .5 0 .5 0 .5 0 .5 0 .5-.1 .5-.4 .5-.6 .5-.7 .5-.7 .5-.4 .5 .2 .5 .6 .5 1 .5 .5 .5 .5 .5 0 .5-.1 .5-.6 .5 .2 .5-.1 .5-.5 .5-.3 .5-.2 .5-.1 .5 .1 .5 .1 .5 .2 .5-.4 .5-.4 .5-.3 .5-1.1 .5-.2 .5-.2 .5-.4 .5 .9 .5 .8 .5 .1 .5 1.1 .5 .5 .5 .3 .5-.2 .5 .3 .5 .6 .5-.1 .5 .1 .5 0 .5 0 .5-.2 .5-.1 .5-.1 .5-.1 .5-.4 .5-.5 .5 .1 .5 .2 .5-.4 .5 .2 .5-.3 .5-.2 .5-.2 .5-.6 .5-.1 .5 .4 .5-.2 .5 .1 .5-.1 .5 .1 .5 .3 .5-.3 .5 0 .5 .3 .5 .3 .5 .2 .5 .4 .5-.1 .5-.5 .5-1.2 .5-1.4 .5-1.7 .5-1.3 .5 2 .5 1.7 .5 1.3 .5 1.7 .5 .7 .5-.5 .5-.4 .5 .5 .5 .3 .5 0 .5-.4 .5 .2 .5-.3 .5 .3 .5-.2 .5 .2 .5 .2 .5-.4 .5-.4 .5-.3 .5-.1 .5 .1 .5-.3 .5-.1 .5-.4 .5-.4 .5 .5 .5 .1 .5-.2 .5 .3 .5 .4 .5-.4 .5-1.8 .5-2.2 .5-2.3 .5-.5 .5 1.4 .5 1.8 .5 1.5 .5 1.8 .5-.1 .5-.6 .5 .5 .5-.2 .5 .4 .5 .6 .5 .2 .5-.3 .5-.5 .5 .4 .5 .2 .5-.4 .5-1.8 .5-1.6 .5-1.6 .5-.7 .5 1.3 .5 1.3 .5 1.9 .5 1.8 .5 .2 .5-.3 .5-.6 .5 .2 .5-.3 .5 0 .5-.4 .5 .4 .5 .4 .5 .1 .5-1.2 .5-.4 .5-.6 .5 0 .5 .9 .5 1.2 .5 .6 .5 .8 .5 0 .5 .2 .5 0 .5 0 .5 0 .5 0 .5 0 .5 0 .5-.5 .5 .2 .5 .3 .5 0 .5 0 .5-.6 .5 .3 .5-.4 .5 0 .5 .1 .5-.4 .5 .2 .5 .5 .5-.1 .5-.2 .5-.1 .5 .3 .5-1.8 .5-2.4 .5-2.6 .5-2 .5-1.6 .5 1.8 .5 2.4 .5 2.5 .5 2.5 .5 .8 .5 .5 .5 .2 .5-.3 .5 .2 .5 0 .5 .2 .5 0 .5-.6 .5 .6 .5-.1 .5-.3 .5-.4 .5-.3 .5 .1 .5-.3 .5-.4 .5-.3 .5-.6 .5 .5 .5-.6 .5 .2 .5-.2 .5 .3 .5-.3 .5 .6 .5-.1 .5 .3 .5 .1 .5 .2 .5-.2 .5-.4 .5 .2 .5-.6 .5-.5 .5-.4 .5-1.2 .5-.1 .5 1.1 .5 .9 .5 .4 .5 1 .5-.2 .5 0 .5-.2 .5 .3 .5 .5 .5 .4 .5 .2 .5 .1 .5 .3 .5-.1 .5 .1 .5-.5 .5-.7 .5-1.2 .5-.3 .5-.9 .5 .9 .5 .4 .5 1.1 .5 .1 .5 .3 .5-.6 .5 .3 .5 .1 .5-.2 .5 .4 .5 .3 .5-.3 .5-.5 .5 .2 .5 .4 .5 .2 .5-.6 .5 .4 .5-.2 .5 .2 .5-.2 .5 .4 .5-.2 .5-.4 .5-.5 .5-.1 .5 0 .5-.1 .5 .5 .5-.4 .5-.3 .5 .1 .5-.2 .5 .1 .5 .1 .5 .3 .5-.1 .5-.1 .5 0 .5 .6 .5-.2 .5 .1 .5-.1 .5-.9 .5-1.9 .5-.9 .5-1.3 .5-1.4 .5 1 .5 1.6V148 H0 Z" fill="#163a60"/><path d="M280.5 143.6l.5 0 .5 0 .5 0 .5 0 .5 0 .5-2.3 .5-33.5 .5-33.4 .5-33.5 .5-33.5 .5 0 .5 0 .5 33.5 .5 19.1 .5-33.8 .5-20.3 .5 0 .5 13.6 .5 33.8 .5 33.8 .5 33.8 .5 22.7 .5 0 .5 0 .5-28.4 .5-32.7 .5-32.8 .5-32.8 .5-6.5 .5 0 .5 26.2 .5 31.1 .5-33.5 .5-26.8 .5 0 .5 6.7 .5 33.5 .5 33.4 .5 33.5 .5 29.1 .5 0 .5 0 .5-22.4 .5-33.5 .5-33.4 .5-33.5 .5-13.4 .5 0 .5 20.1 .5 33.5 .5 33.4 .5 33.5 .5 15.7 .5 0 .5 0 .5 0 .5-9 .5-33.5 .5-33.4 .5-33.5 .5-26.8 .5 0 .5 6.7 .5 33.5 .5 33.4 .5 33.5 .5 29.1 .5 0 .5 0 .5 0 .5 0 .5 0 .5 0V144 H280.5 Z" fill="#4b2350"/><path d="M0 143.3l.5 0 .5 .3 .5 0 .5-.3 .5 .1 .5 0 .5 .3 .5-.3 .5 .3 .5-.3 .5 .1 .5-.2 .5 .1 .5 .3 .5-.4 .5 .1 .5 .1 .5 .2 .5-.3 .5 .1 .5-.1 .5-.1 .5 0 .5 .4 .5-.3 .5 .1 .5-.1 .5 .1 .5 0 .5 0 .5 .2 .5-.1 .5-.2 .5 .3 .5 0 .5-.4 .5 .1 .5 .1 .5 .2 .5 0 .5-.1 .5-.3 .5 .2 .5-.2 .5 .3 .5-.1 .5 0 .5-.2 .5 .4 .5-.4 .5 .2 .5 .2 .5-.2 .5 0 .5-.1 .5-.1 .5 .2 .5-.1 .5 .1 .5-.1 .5 .3 .5-.3 .5 .2 .5-.2 .5 .2 .5 0 .5 0 .5 0 .5-.2 .5 .1 .5 0 .5 0 .5-.2 .5 .2 .5-.1 .5 .1 .5-.2 .5 .3 .5-.2 .5 .2 .5 0 .5-.2 .5 .1 .5 .1 .5 .1 .5-.4 .5 .2 .5-.1 .5 .1 .5-.1 .5 .1 .5-.2 .5 0 .5 .2 .5 0 .5 .1 .5-.2 .5 .3 .5-.1 .5-.3 .5 .4 .5-.3 .5 .1 .5 0 .5 .1 .5 0 .5-.3 .5 .1 .5 0 .5 .3 .5-.3 .5 .2 .5 0 .5-.1 .5-.1 .5 .3 .5-.3 .5 0 .5-.1 .5 0 .5 .1 .5 .1 .5-.2 .5 .1 .5 .2 .5-.3 .5 .1 .5 .2 .5 0 .5 .1 .5-.2 .5 .1 .5 0 .5 0 .5 0 .5-.1 .5 .1 .5 0 .5 0 .5-.1 .5-.2 .5 .3 .5-.3 .5 0 .5 .1 .5 .1 .5-.1 .5 .1 .5-.1 .5-.1 .5 .1 .5 .2 .5 .1 .5-.4 .5 .2 .5-.1 .5 .2 .5-.1 .5 0 .5-.1 .5-.1 .5 .2 .5 0 .5 .1 .5 0 .5-.3 .5 .4 .5-.4 .5 .1 .5 .3 .5-.4 .5 .4 .5-.2 .5 .2 .5-.4 .5 .3 .5-.3 .5 .4 .5-.3 .5 .3 .5 0 .5-.2 .5-.2 .5 .1 .5-.1 .5 .1 .5 .1 .5 .2 .5-.2 .5 .1 .5-.1 .5 .1 .5-.1 .5 .1 .5-.2 .5 .1 .5 0 .5 .2 .5-.2 .5 0 .5-.2 .5 .2 .5 .1 .5 0 .5 0 .5-.2 .5-.1 .5 0 .5 0 .5 0 .5 0 .5 0 .5 .4 .5-.2 .5-.1 .5 0 .5 0 .5 0 .5-.1 .5 .4 .5-.2 .5-.2 .5 .4 .5 0 .5-.4 .5 0 .5 .4 .5 0 .5-.4 .5 .1 .5 .1 .5 0 .5-.1 .5-.1 .5 .4 .5 0 .5-.3 .5-.1 .5 0 .5 .2 .5 .1 .5 0 .5 .1 .5-.3 .5 .2 .5-.2 .5 .1 .5 .1 .5-.2 .5 .1 .5 .1 .5-.3 .5 .3 .5 0 .5 0 .5-.1 .5-.1 .5 .2 .5 0 .5-.2 .5 .2 .5-.1 .5 .1 .5-.3 .5 .3 .5 0 .5 0 .5 0 .5-.2 .5 0 .5 0 .5 .1 .5 .2 .5-.3 .5 .2 .5 0 .5-.1 .5-.2 .5 .2 .5 0 .5-.2 .5 0 .5 .2 .5 .1 .5-.2 .5 0 .5 .2 .5-.2 .5 .1 .5 .1 .5-.2 .5 0 .5 .1 .5-.2 .5 .4 .5-.2 .5 0 .5 .2 .5-.4 .5 .3 .5 0 .5-.3 .5 0 .5 0 .5 .3 .5-.3 .5 .3 .5-.2 .5-.1 .5 .3 .5 0 .5-.2 .5-.1 .5 .1 .5-.1 .5 .2 .5 0 .5 .2 .5-.1 .5-.3 .5 .4 .5-.1 .5 0 .5 .1 .5-.1 .5 0 .5 .1 .5-.2 .5 0 .5 0 .5-.1 .5 .1 .5-.2 .5 .4 .5-.1 .5 .1 .5-.1 .5-.2 .5-.1 .5 .2 .5 .1 .5 0 .5-.1 .5 .1 .5-.2 .5-.1 .5 .2 .5-.1 .5-.1 .5 .2 .5 .1 .5-.3 .5 0 .5 .4 .5-.3 .5 .1 .5 .2 .5-.1 .5 0 .5-.2 .5 .2 .5 .1 .5-.1 .5-.2 .5 .1 .5-.1 .5 .1 .5 .1 .5 .1 .5-.1 .5 .1 .5-.1 .5-.2 .5 .1 .5 0 .5-.1 .5 .2 .5-.1 .5-.2 .5 .2 .5 0 .5 0 .5 0 .5 .1 .5-.3 .5 .3 .5-.3 .5 0 .5 0 .5 .3 .5-.1 .5-.2 .5 .3 .5 0 .5-.2 .5 .2 .5-.2 .5 .2 .5-.3 .5 .3 .5 .1 .5-.3 .5 .2 .5-.1 .5 0 .5-.2 .5 .2 .5 0 .5 .2 .5-.2 .5 .1 .5-.1 .5-.1 .5 .1 .5 .2 .5-.2 .5 0 .5-.1 .5-.1 .5 .3 .5-.1 .5 .2 .5-.3 .5 .2 .5-.3 .5 .1 .5 .2 .5-.3 .5 .2 .5 0 .5 0 .5-.2 .5 .2 .5 0 .5 .1 .5-.3 .5 .2 .5 .1 .5 0 .5 0 .5-.3 .5 .1 .5-.1 .5 0 .5 .1 .5 0 .5 0 .5-.1 .5 .1 .5 .2 .5-.3 .5 .3 .5 0 .5-.3 .5 .4 .5-.2 .5 .1 .5-.2 .5 0 .5-.1 .5 0 .5 .1 .5 .3 .5-.3 .5 .3 .5-.4 .5 0 .5 .3 .5 0 .5-.2 .5 0 .5-.1 .5 .1 .5 .3 .5-.3 .5 .3 .5-.4 .5 .1 .5 0 .5-.1 .5 .2 .5-.2 .5 .1 .5 .1 .5 0 .5 .1 .5 .1 .5-.1 .5-.2 .5 .2 .5-.2 .5 0 .5 0 .5 .1 .5 .1 .5 0 .5 0 .5-.2 .5 0 .5-.1 .5 .3 .5-.3 .5 0 .5 .3 .5-.3 .5 .1 .5-.1 .5 .1 .5 .2 .5 0 .5-.1 .5 0 .5 .2 .5-.4 .5 .2 .5 0 .5-.1 .5 .2 .5 0 .5-.1 .5 .1 .5 0 .5 .1 .5 0 .5-.1 .5-.1 .5-.2 .5 .1 .5 .1 .5 0 .5 .1 .5-.1 .5-.2 .5 .4 .5-.2 .5-.1 .5 0 .5 .1 .5-.1 .5-.1 .5 0 .5 .3 .5-.1 .5-.2 .5 .2 .5 .1 .5-.2 .5 .3 .5-.1 .5-.1 .5 .1 .5-.2 .5 0 .5 .2 .5-.2 .5 0 .5 0 .5 .1 .5 0 .5 .2 .5-.2 .5-.2 .5 0 .5 .4 .5 0 .5-.1 .5-.2 .5 .1 .5 .2 .5-.2 .5 0 .5-.1 .5 .1 .5-.1 .5 0 .5 0 .5 .3 .5-.3 .5 .3 .5 0 .5-.2 .5 .2 .5 0 .5-.2 .5 0 .5 .2 .5-.4 .5 0 .5 .2 .5-.1 .5 .2 .5-.3 .5 .4 .5-.1 .5 0 .5-.3 .5 .2 .5 0 .5 0 .5-.2 .5 .3 .5-.2 .5 0 .5 .1 .5 0 .5 0 .5 0 .5 .1 .5-.2 .5 .1 .5 .1 .5-.2 .5 .1 .5 0 .5-.2 .5 .2 .5 0 .5-.2 .5 0 .5 .1 .5 .1 .5-.1 .5 0 .5 .2 .5-.2 .5-.1 .5 .1 .5 0 .5 .1 .5-.1 .5 .2 .5-.2 .5 .1 .5-.2 .5 .3 .5-.2 .5 .3 .5-.2 .5-.1 .5 .2 .5-.2 .5 .2 .5-.1 .5-.2 .5 .3 .5-.3 .5 .4 .5-.3 .5-.1 .5 0 .5 .2 .5-.1 .5 0 .5 0 .5 0 .5 .1 .5 .1 .5-.2 .5 .1 .5 0 .5-.2 .5 .3 .5-.2 .5 .2 .5-.2 .5-.1 .5 .3 .5-.1 .5 0 .5 0 .5 .1 .5-.2 .5-.1 .5 .1 .5 .2 .5-.2 .5 .1 .5 .1 .5-.2 .5 .1 .5 0 .5-.2 .5 .2 .5-.2 .5 .3 .5-.2 .5 .3 .5-.1 .5-.2 .5 0 .5-.1 .5 .2 .5 .1 .5-.1 .5 0 .5 .2 .5-.2 .5-.1 .5 .2 .5 0 .5-.3 .5 0 .5 .3 .5 0 .5 .1 .5 0 .5-.3 .5 0 .5 .2 .5-.1 .5-.1 .5 .3 .5-.4 .5 0 .5 .3 .5-.2 .5 0 .5 .2 .5-.3 .5 .3 .5-.1 .5 .1 .5-.1 .5-.2 .5 .2 .5-.1 .5-.1 .5 .3 .5 0 .5-.2 .5 .2 .5-.3 .5 .3 .5-.1 .5 0 .5-.2 .5 0 .5 .1 .5 .2 .5 0 .5-.2 .5 .2 .5-.3 .5 0 .5 .3 .5-.1 .5 .1 .5-.2 .5 .3 .5-.3 .5 .3 .5-.4 .5 .2 .5-.1 .5 .3 .5 0 .5-.1 .5-.3 .5 .1 .5-.1 .5 .4 .5 0 .5 0 .5-.3 .5 .2 .5 0 .5-.2 .5 0 .5 .2 .5-.1 .5 .1 .5-.1 .5 0 .5 0 .5 .1 .5 0 .5 0 .5 .1 .5-.1 .5-.2 .5 .2 .5 .1 .5-.4 .5 .2 .5 0 .5 .1 .5-.3 .5 .1 .5 0 .5 0 .5 0 .5 .1 .5 0 .5 0 .5 0 .5 0 .5 0 .5 0 .5-.1 .5-.1 .5 .3 .5 .1 .5-.1 .5 .1 .5-.3 .5 0 .5 .2 .5-4.9 .5-6.5 .5-4 .5-5.5 .5-1.8 .5 .2 .5-1.9 .5-1.5 .5-.4 .5-.6 .5-2.2 .5-1.1 .5-.8 .5-.1 .5-1.5 .5 .9 .5 2.6 .5 .5 .5 1.7 .5 .9 .5 .4 .5-.3 .5 1.4 .5 2.2 .5 1.3 .5 1.6 .5 5 .5 5.8 .5 8.7 .5-.2 .5-.2 .5 .2 .5-.1 .5 0 .5 0 .5 .2 .5-.1 .5-.2 .5 .1 .5 .2 .5-.1 .5 0 .5 .1 .5-.1 .5-.1 .5 .3 .5-.1 .5-.2 .5 .2 .5 .1 .5-.3 .5 .2 .5-.3 .5 .2 .5 .2 .5-.3 .5 .2 .5-.3 .5 .1 .5 0 .5 .3 .5 0 .5-.3 .5 .2 .5 0 .5 .1 .5-.1 .5-.1 .5-.2 .5 .3 .5 0 .5-.3 .5 .3 .5-.2 .5 0 .5-.1 .5 .4 .5-.2 .5 0 .5-.2 .5 .3 .5-.2 .5 .2 .5-.1 .5-.2 .5 .3 .5 0 .5-.3 .5 .1 .5 .3 .5-.1 .5-3.3 .5-1.2 .5-5.4 .5-7.5 .5 .7 .5-1 .5-.6 .5 .5 .5 1.2 .5-1.1 .5 .8 .5 .9 .5-.8 .5-.6 .5-3.6 .5-2 .5-3.1 .5 3 .5 4.4 .5 2.6 .5-1.7 .5 .4 .5 1.2 .5-.1 .5-2.2 .5 .8 .5 .8 .5 .5 .5-2.1 .5 .6 .5 .2 .5 .6 .5 .5 .5-.3 .5 .6 .5-1.5 .5 .7 .5-1.1 .5 1 .5-.1 .5 .2 .5-1.5 .5 1.9 .5-1 .5 1.3 .5-.9 .5 .4 .5-1.3 .5 1.7 .5-1.5 .5 .1 .5 .7 .5-1.4 .5 1.8 .5-1 .5 .3 .5 .5 .5 1.1 .5-1 .5 .1 .5-.2 .5-1.3 .5 1.6 .5-1 .5 .1 .5 1 .5-7.8 .5 .7 .5-2 .5 1.9 .5-.7 .5 .4 .5-1.4 .5 .1 .5 .3 .5 .3 .5 1.2 .5-2.2 .5 2 .5-.4 .5-.1 .5-1.1 .5 7.7 .5 .7 .5-1.5 .5 .2 .5 2.4 .5-1.6 .5 .2 .5 .3 .5-.3 .5 .3 .5-.6 .5 .1 .5-1.2 .5 0 .5 .3 .5 1.2 .5-1.1 .5 .5 .5 0 .5-.9 .5 2.4 .5-1.1 .5 .3 .5-.8 .5 1.1 .5-1.9 .5 2.1 .5-.5 .5 .9 .5-.8 .5-1 .5 2 .5-.5 .5-1 .5-.2 .5-.1 .5 1.3 .5-1.7 .5 .4 .5-.2 .5 1.6 .5-1 .5 1.5 .5-2.3 .5-.4 .5 .4 .5 2 .5-.6 .5-.6 .5 .1 .5 1.3 .5-1.8 .5 1.3 .5-.7 .5 1 .5-1.5 .5 1.3 .5 .4 .5-1.4 .5 .8 .5-1.4 .5 1.3 .5-.5 .5 .9 .5-.2 .5-.6 .5-.3 .5 .3 .5-1.2 .5 2.1 .5 1.6 .5 7.1 .5 4 .5-.1 .5 .4 .5-.2 .5 .2 .5 0 .5-.1 .5 .1 .5-.3 .5 .1 .5-5.9 .5-5.7 .5-2.4 .5-.7 .5-.2 .5 1.3 .5 .9 .5-.3 .5-1.8 .5 .1 .5 .3 .5 1.6 .5-1.2 .5 1.6 .5-.3 .5-.4 .5-1.9 .5 .9 .5-.7 .5 2.3 .5-1.2 .5 .8 .5-.3 .5 .5 .5-2.4 .5 1.6 .5-.5 .5-.3 .5-.6 .5-.3 .5 1.1 .5 0 .5-.8 .5 1.2 .5 .3 .5-1.1 .5 1.5 .5-.5 .5-.1 .5-.3 .5 .4 .5-.2 .5 .1 .5 1.1 .5-2.3 .5 2 .5-1.4 .5 .1 .5 .6 .5 .4 .5 .3 .5-.9 .5 .4 .5-.7 .5 .8 .5-1.3 .5 .7 .5 1.3 .5-1.4 .5-1 .5 2.4 .5-1.4 .5-1.3 .5 1.8 .5-.6 .5 .5 .5 .1 .5-.9 .5 .2 .5 .8 .5-.5 .5-.3 .5-.3 .5 1.9 .5-.5 .5-.2 .5 .1 .5-1.4 .5 .6 .5-1.1 .5 1.6 .5 0 .5 2.8 .5 6.4 .5 7.4 .5 .3 .5-.4 .5 .3 .5 0 .5-.2 .5 .3 .5 0 .5-.3 .5 .1 .5-.2 .5 .1 .5 .2 .5 .1 .5-.3 .5 .1 .5 .1 .5-.3 .5 .3 .5-.2 .5 .3 .5-.4 .5 0 .5 .1 .5 .2 .5-.2 .5-.1 .5 .1 .5 .3 .5-.2 .5 .1 .5-.1 .5-.2 .5 0 .5 .3 .5-.1 .5 .1 .5 0 .5-.2 .5 0 .5 .2 .5-.1 .5-.1 .5 0 .5 .1 .5 .2 .5 0 .5-.1 .5-.3 .5 .2 .5-.1 .5 .1 .5 0 .5 .1 .5-.3 .5 .1 .5 .3 .5-.3 .5 0 .5 0 .5 0 .5 0 .5-.1 .5 0 .5 .2 .5-.1 .5 .1 .5 0 .5 0 .5-.1 .5 .2 .5 0 .5-.3 .5 .1 .5 0 .5-.1 .5 .2 .5-.1 .5 .2 .5 0 .5 .1 .5-.3 .5-.1 .5 .3 .5-.1 .5 .2 .5-.1 .5-.2 .5-.1 .5 .4 .5-.1 .5-.2 .5 .2 .5-.3 .5 .3 .5-.1 .5 .1 .5 0 .5-.1 .5 .1 .5-.2 .5 .3 .5-.3 .5 0 .5 .2 .5 0 .5 .1 .5 0 .5-.3 .5 0 .5 .3 .5-.2 .5-.1 .5 .2 .5 .1 .5-.2 .5 .1 .5-.3 .5 .2 .5-.2 .5 0 .5 .2 .5 .2 .5-.4 .5 .4 .5-.2 .5 .2 .5 0 .5-.2 .5 .1 .5-.3 .5 .2 .5-.2 .5 0 .5 .1 .5 0 .5 .1 .5-.1 .5 0 .5 .2 .5-.1 .5 0 .5 0 .5-.1 .5 0 .5 .1 .5-.1 .5-.1 .5 .4 .5-.1 .5 .1 .5-.1 .5-.3 .5 .3 .5-.1 .5 0 .5 0 .5 .1 .5-.2 .5 .2 .5-.3 .5 .1 .5 .3 .5-.2 .5 .2 .5-.4 .5 .4 .5-.1 .5-.2 .5 0 .5 0 .5 .1 .5 0 .5 .1 .5-.1 .5 .1 .5-.2 .5 .3 .5-.1 .5 0 .5-.1 .5-.1 .5 .3 .5-.4 .5 0 .5 .2 .5 .1 .5-.3 .5 0 .5 .3 .5-.2 .5-.1 .5 0 .5 .3 .5 .1 .5-.1 .5 0 .5-.3 .5 0 .5 .2 .5 .2 .5-.1 .5 0 .5-.2 .5 0 .5 0 .5 .1 .5 0 .5 0 .5 0 .5 0 .5-.1 .5 0 .5 .2 .5-.1 .5 .1 .5 .1 .5-.2 .5 0 .5 .2 .5 0 .5-.2 .5-.2 .5 0 .5 .4 .5-.1 .5-.1 .5 .1 .5 0 .5-.2 .5-.1 .5 .2 .5 .1 .5 .1 .5 0 .5-.3 .5 .2 .5-.2 .5 0 .5 .3 .5-.1 .5 0 .5-.2 .5 0 .5 .2 .5-.1 .5 .1 .5-.1 .5-.1 .5 .2 .5-.3 .5 0 .5 .1 .5-.1 .5 0 .5 .3 .5-.3 .5 .3 .5-.2 .5 .3 .5-.1 .5-.1 .5-.2 .5 .1 .5 .2 .5-.3 .5 0 .5 .2 .5 .2 .5-.1 .5 0 .5-.1 .5-.2 .5 .1 .5-.1 .5 .4 .5-.1 .5-.2 .5 .2 .5 0 .5 .1 .5 0 .5-.2 .5 0 .5 0 .5 0 .5 .1 .5 .1 .5-.3 .5 .2 .5-.1 .5 0 .5 .1 .5 .1 .5-.1 .5 0 .5 .1 .5 0 .5-.2 .5 .2 .5-.4 .5 .2 .5 0 .5 0 .5 .2 .5 0 .5-.3 .5 .1 .5 0 .5 .1 .5-.2 .5 .1 .5-.1 .5-.1 .5 0 .5 .1 .5 0 .5 .1 .5 0 .5 0 .5 0 .5-.2 .5 0 .5 .4 .5-.3 .5 0 .5 0 .5-.1 .5 .4 .5-.2 .5 0 .5-.2 .5 .3 .5-.1 .5 .1 .5-.2 .5 .1 .5-.1 .5 .2 .5-.3 .5 .4 .5-.1 .5-.2 .5-.1 .5 .1 .5 .2 .5 .1 .5-.3 .5 0 .5 .3 .5-.4 .5 .2 .5 .2 .5-.2 .5 .1 .5 .1 .5-.4 .5 0 .5 .4 .5-.2 .5 .1 .5-.2 .5 .3 .5-.1 .5-.1 .5 0 .5 0 .5-.1 .5-.1 .5 0 .5 0 .5 0 .5 .3 .5 0 .5-.1 .5-.1 .5 0 .5 .2 .5-.3 .5 .3 .5 .1 .5 0 .5-.1 .5-.2 .5-.1 .5 .4 .5-.1 .5 0 .5-.2 .5-.1 .5 .3 .5 .1 .5-.4 .5 0 .5 .1 .5 .1 .5-.1 .5 0 .5 .1 .5 .1 .5-.1 .5-.1 .5 .2 .5-.2 .5 .2 .5-.3 .5 .3 .5 0 .5-.3 .5 0 .5 0 .5 0 .5 0 .5 0 .5 .2 .5 .2 .5-.3 .5-.1 .5 0 .5 .4 .5 0 .5-.3 .5 .1 .5-.2 .5 0 .5 .2 .5-.1 .5 0 .5 0 .5 .1 .5-.1 .5 .3 .5-.4 .5 .1 .5 0 .5 .1 .5 .1 .5-.1 .5-.1 .5 .1 .5 .2 .5 0 .5-.2 .5 .1 .5 0 .5 0 .5-.1 .5-.1 .5-.1 .5 .1 .5 .3 .5-.4 .5 .1 .5 0 .5 0 .5 .2 .5 0 .5 .1 .5-.3 .5 .3 .5-.3 .5-.1 .5 .1 .5 0 .5-.1 .5 0 .5 0 .5 0 .5 .2 .5 .2 .5-.3 .5 0 .5-.1 .5 .1 .5 .1 .5 .2 .5-.4 .5 .1 .5-.1 .5 .1 .5-.1 .5 .1 .5-.1 .5 .2 .5-.2 .5 .2 .5 .2 .5-.1 .5 0 .5-.3 .5 .2 .5 .1 .5-.2 .5 .3 .5-.1 .5-.1 .5 .2 .5-.3 .5 .1 .5-.1 .5 .2 .5-.3 .5 .3 .5-.1 .5 .1 .5 .1 .5-.1 .5-.3 .5 .3V141.5 H0 Z" fill="#5a1b22"/><path d="M0 143.3l.5 0 .5 .3 .5 0 .5-.3 .5 .1 .5 0 .5 .3 .5-.3 .5 .3 .5-.3 .5 .1 .5-.2 .5 .1 .5 .3 .5-.4 .5 .1 .5 .1 .5 .2 .5-.3 .5 .1 .5-.1 .5-.1 .5 0 .5 .4 .5-.3 .5 .1 .5-.1 .5 .1 .5 0 .5 0 .5 .2 .5-.1 .5-.2 .5 .3 .5 0 .5-.4 .5 .1 .5 .1 .5 .2 .5 0 .5-.1 .5-.3 .5 .2 .5-.2 .5 .3 .5-.1 .5 0 .5-.2 .5 .4 .5-.4 .5 .2 .5 .2 .5-.2 .5 0 .5-.1 .5-.1 .5 .2 .5-.1 .5 .1 .5-.1 .5 .3 .5-.3 .5 .2 .5-.2 .5 .2 .5 0 .5 0 .5 0 .5-.2 .5 .1 .5 0 .5 0 .5-.2 .5 .2 .5-.1 .5 .1 .5-.2 .5 .3 .5-.2 .5 .2 .5 0 .5-.2 .5 .1 .5 .1 .5 .1 .5-.4 .5 .2 .5-.1 .5 .1 .5-.1 .5 .1 .5-.2 .5 0 .5 .2 .5 0 .5 .1 .5-.2 .5 .3 .5-.1 .5-.3 .5 .4 .5-.3 .5 .1 .5 0 .5 .1 .5 0 .5-.3 .5 .1 .5 0 .5 .3 .5-.3 .5 .2 .5 0 .5-.1 .5-.1 .5 .3 .5-.3 .5 0 .5-.1 .5 0 .5 .1 .5 .1 .5-.2 .5 .1 .5 .2 .5-.3 .5 .1 .5 .2 .5 0 .5 .1 .5-.2 .5 .1 .5 0 .5 0 .5 0 .5-.1 .5 .1 .5 0 .5 0 .5-.1 .5-.2 .5 .3 .5-.3 .5 0 .5 .1 .5 .1 .5-.1 .5 .1 .5-.1 .5-.1 .5 .1 .5 .2 .5 .1 .5-.4 .5 .2 .5-.1 .5 .2 .5-.1 .5 0 .5-.1 .5-.1 .5 .2 .5 0 .5 .1 .5 0 .5-.3 .5 .4 .5-.4 .5 .1 .5 .3 .5-.4 .5 .4 .5-.2 .5 .2 .5-.4 .5 .3 .5-.3 .5 .4 .5-.3 .5 .3 .5 0 .5-.2 .5-.2 .5 .1 .5-.1 .5 .1 .5 .1 .5 .2 .5-.2 .5 .1 .5-.1 .5 .1 .5-.1 .5 .1 .5-.2 .5 .1 .5 0 .5 .2 .5-.2 .5 0 .5-.2 .5 .2 .5 .1 .5 0 .5 0 .5-.2 .5-.1 .5 0 .5 0 .5 0 .5 0 .5 0 .5 .4 .5-.2 .5-.1 .5 0 .5 0 .5 0 .5-.1 .5 .4 .5-.2 .5-.2 .5 .4 .5 0 .5-.4 .5 0 .5 .4 .5 0 .5-.4 .5 .1 .5 .1 .5 0 .5-.1 .5-.1 .5 .4 .5 0 .5-.3 .5-.1 .5 0 .5 .2 .5 .1 .5 0 .5 .1 .5-.3 .5 .2 .5-.2 .5 .1 .5 .1 .5-.2 .5 .1 .5 .1 .5-.3 .5 .3 .5 0 .5 0 .5-.1 .5-.1 .5 .2 .5 0 .5-.2 .5 .2 .5-.1 .5 .1 .5-.3 .5 .3 .5 0 .5 0 .5 0 .5-.2 .5 0 .5 0 .5 .1 .5 .2 .5-.3 .5 .2 .5 0 .5-.1 .5-.2 .5 .2 .5 0 .5-.2 .5 0 .5 .2 .5 .1 .5-.2 .5 0 .5 .2 .5-.2 .5 .1 .5 .1 .5-.2 .5 0 .5 .1 .5-.2 .5 .4 .5-.2 .5 0 .5 .2 .5-.4 .5 .3 .5 0 .5-.3 .5 0 .5 0 .5 .3 .5-.3 .5 .3 .5-.2 .5-.1 .5 .3 .5 0 .5-.2 .5-.1 .5 .1 .5-.1 .5 .2 .5 0 .5 .2 .5-.1 .5-.3 .5 .4 .5-.1 .5 0 .5 .1 .5-.1 .5 0 .5 .1 .5-.2 .5 0 .5 0 .5-.1 .5 .1 .5-.2 .5 .4 .5-.1 .5 .1 .5-.1 .5-.2 .5-.1 .5 .2 .5 .1 .5 0 .5-.1 .5 .1 .5-.2 .5-.1 .5 .2 .5-.1 .5-.1 .5 .2 .5 .1 .5-.3 .5 0 .5 .4 .5-.3 .5 .1 .5 .2 .5-.1 .5 0 .5-.2 .5 .2 .5 .1 .5-.1 .5-.2 .5 .1 .5-.1 .5 .1 .5 .1 .5 .1 .5-.1 .5 .1 .5-.1 .5-.2 .5 .1 .5 0 .5-.1 .5 .2 .5-.1 .5-.2 .5 .2 .5 0 .5 0 .5 0 .5 .1 .5-.3 .5 .3 .5-.3 .5 0 .5 0 .5 .3 .5-.1 .5-.2 .5 .3 .5 0 .5-.2 .5 .2 .5-.2 .5 .2 .5-.3 .5 .3 .5 .1 .5-.3 .5 .2 .5-.1 .5 0 .5-.2 .5 .2 .5 0 .5 .2 .5-.2 .5 .1 .5-.1 .5-.1 .5 .1 .5 .2 .5-.2 .5 0 .5-.1 .5-.1 .5 .3 .5-.1 .5 .2 .5-.3 .5 .2 .5-.3 .5 .1 .5 .2 .5-.3 .5 .2 .5 0 .5 0 .5-.2 .5 .2 .5 0 .5 .1 .5-.3 .5 .2 .5 .1 .5 0 .5 0 .5-.3 .5 .1 .5-.1 .5 0 .5 .1 .5 0 .5 0 .5-.1 .5 .1 .5 .2 .5-.3 .5 .3 .5 0 .5-.3 .5 .4 .5-.2 .5 .1 .5-.2 .5 0 .5-.1 .5 0 .5 .1 .5 .3 .5-.3 .5 .3 .5-.4 .5 0 .5 .3 .5 0 .5-.2 .5 0 .5-.1 .5 .1 .5 .3 .5-.3 .5 .3 .5-.4 .5 .1 .5 0 .5-.1 .5 .2 .5-.2 .5 .1 .5 .1 .5 0 .5 .1 .5 .1 .5-.1 .5-.2 .5 .2 .5-.2 .5 0 .5 0 .5 .1 .5 .1 .5 0 .5 0 .5-.2 .5 0 .5-.1 .5 .3 .5-.3 .5 0 .5 .3 .5-.3 .5 .1 .5-.1 .5 .1 .5 .2 .5 0 .5-.1 .5 0 .5 .2 .5-.4 .5 .2 .5 0 .5-.1 .5 .2 .5 0 .5-.1 .5 .1 .5 0 .5 .1 .5 0 .5-.1 .5-.1 .5-.2 .5 .1 .5 .1 .5 0 .5 .1 .5-.1 .5-.2 .5 .4 .5-.2 .5-.1 .5 0 .5 .1 .5-.1 .5-.1 .5 0 .5 .3 .5-.1 .5-.2 .5 .2 .5 .1 .5-.2 .5 .3 .5-.1 .5-.1 .5 .1 .5-.2 .5 0 .5 .2 .5-.2 .5 0 .5 0 .5 .1 .5 0 .5 .2 .5-.2 .5-.2 .5 0 .5 .4 .5 0 .5-.1 .5-.2 .5 .1 .5 .2 .5-.2 .5 0 .5-.1 .5 .1 .5-.1 .5 0 .5 0 .5 .3 .5-.3 .5 .3 .5 0 .5-.2 .5 .2 .5 0 .5-.2 .5 0 .5 .2 .5-.4 .5 0 .5 .2 .5-.1 .5 .2 .5-.3 .5 .4 .5-.1 .5 0 .5-.3 .5 .2 .5 0 .5 0 .5-.2 .5 .3 .5-.2 .5 0 .5 .1 .5 0 .5 0 .5 0 .5 .1 .5-.2 .5 .1 .5 .1 .5-.2 .5 .1 .5 0 .5-.2 .5 .2 .5 0 .5-.2 .5 0 .5 .1 .5 .1 .5-.1 .5 0 .5 .2 .5-.2 .5-.1 .5 .1 .5 0 .5 .1 .5-.1 .5 .2 .5-.2 .5 .1 .5-.2 .5 .3 .5-.2 .5 .3 .5-.2 .5-.1 .5 .2 .5-.2 .5 .2 .5-.1 .5-.2 .5 .3 .5-.3 .5 .4 .5-.3 .5-.1 .5 0 .5 .2 .5-.1 .5 0 .5 0 .5 0 .5 .1 .5 .1 .5-.2 .5 .1 .5 0 .5-.2 .5 .3 .5-.2 .5 .2 .5-.2 .5-.1 .5 .3 .5-.1 .5 0 .5 0 .5 .1 .5-.2 .5-.1 .5 .1 .5 .2 .5-.2 .5 .1 .5 .1 .5-.2 .5 .1 .5 0 .5-.2 .5 .2 .5-.2 .5 .3 .5-.2 .5 .3 .5-.1 .5-.2 .5 0 .5-.1 .5 .2 .5 .1 .5-.1 .5 0 .5 .2 .5-.2 .5-.1 .5 .2 .5 0 .5-.3 .5 0 .5 .3 .5 0 .5 .1 .5 0 .5-.3 .5 0 .5 .2 .5-.1 .5-.1 .5 .3 .5-.4 .5 0 .5 .3 .5-.2 .5 0 .5 .2 .5-.3 .5 .3 .5-.1 .5 .1 .5-.1 .5-.2 .5 .2 .5-.1 .5-.1 .5 .3 .5 0 .5-.2 .5 .2 .5-.3 .5 .3 .5-.1 .5 0 .5-.2 .5 0 .5 .1 .5 .2 .5 0 .5-.2 .5 .2 .5-.3 .5 0 .5 .3 .5-.1 .5 .1 .5-.2 .5 .3 .5-.3 .5 .3 .5-.4 .5 .2 .5-.1 .5 .3 .5 0 .5-.1 .5-.3 .5 .1 .5-.1 .5 .4 .5 0 .5 0 .5-.3 .5 .2 .5 0 .5-.2 .5 0 .5 .2 .5-.1 .5 .1 .5-.1 .5 0 .5 0 .5 .1 .5 0 .5 0 .5 .1 .5-.1 .5-.2 .5 .2 .5 .1 .5-.4 .5 .2 .5 0 .5 .1 .5-.3 .5 .1 .5 0 .5 0 .5 0 .5 .1 .5 0 .5 0 .5 0 .5 0 .5 0 .5 0 .5-.1 .5-.1 .5 .3 .5 .1 .5-.1 .5 .1 .5-.3 .5 0 .5 .2 .5 0 .5-.3 .5 0 .5 .1 .5 0 .5 0 .5 .1 .5 0 .5 0 .5-.2 .5 0 .5 0 .5 0 .5 .4 .5-.1 .5-.3 .5 .2 .5 0 .5 .1 .5-.3 .5 .2 .5-.2 .5 .4 .5-.4 .5 .4 .5-.1 .5-.1 .5-.1 .5 .3 .5-.2 .5-.2 .5 .2 .5-.1 .5 0 .5 0 .5 .2 .5-.1 .5-.2 .5 .1 .5 .2 .5-.1 .5 0 .5 .1 .5-.1 .5-.1 .5 .3 .5-.1 .5-.2 .5 .2 .5 .1 .5-.3 .5 .2 .5-.3 .5 .2 .5 .2 .5-.3 .5 .2 .5-.3 .5 .1 .5 0 .5 .3 .5 0 .5-.3 .5 .2 .5 0 .5 .1 .5-.1 .5-.1 .5-.2 .5 .3 .5 0 .5-.3 .5 .3 .5-.2 .5 0 .5-.1 .5 .4 .5-.2 .5 0 .5-.2 .5 .3 .5-.2 .5 .2 .5-.1 .5-.2 .5 .3 .5 0 .5-.3 .5 .1 .5 .3 .5-.1 .5-3.3 .5 0 .5-.2 .5 0 .5-.1 .5 .2 .5 0 .5 .1 .5-.2 .5 .1 .5 .2 .5-.2 .5 .1 .5-.7 .5-2.7 .5-3 .5-2.2 .5 3.3 .5 2.9 .5 2.5 .5-.2 .5-.2 .5 .4 .5-.2 .5 0 .5-.1 .5 .1 .5 .1 .5 .1 .5-.3 .5 .3 .5-.3 .5 .3 .5 0 .5-.2 .5-.1 .5 .1 .5-.1 .5 0 .5 0 .5 .3 .5-.3 .5 .3 .5 0 .5 0 .5 0 .5-.3 .5 .2 .5 .1 .5 0 .5-.3 .5 .1 .5-.2 .5 .4 .5 0 .5-.1 .5 .1 .5 0 .5 0 .5-.2 .5 .2 .5 0 .5-.2 .5 .1 .5 .1 .5-.2 .5 0 .5 .1 .5-.1 .5 .2 .5-.2 .5 .2 .5-.1 .5 .1 .5-.3 .5 .1 .5 .1 .5-.1 .5-.2 .5 .4 .5-.1 .5-.2 .5 .2 .5-.2 .5-.1 .5 .4 .5-.1 .5 0 .5-.2 .5 0 .5 0 .5-.1 .5 .4 .5-.1 .5-.2 .5 0 .5 .3 .5-.4 .5 .1 .5 0 .5 .2 .5-.1 .5-.2 .5 .1 .5 .1 .5-.1 .5-.1 .5 .1 .5 .1 .5-.2 .5 .4 .5-.1 .5-.1 .5 .2 .5-.3 .5 .3 .5-.2 .5 .1 .5 0 .5-.1 .5 .2 .5-.1 .5-.2 .5-.1 .5 .3 .5 0 .5-.2 .5 .3 .5-.3 .5 .3 .5-.2 .5 .1 .5 .2 .5 0 .5 0 .5-.2 .5 0 .5-.3 .5 .2 .5 .2 .5-.3 .5 .2 .5-.1 .5-.1 .5 0 .5-.1 .5 .3 .5 0 .5 0 .5 0 .5-.2 .5 .1 .5-.1 .5 .3 .5-.3 .5-.1 .5 .4 .5-.2 .5 .2 .5 0 .5-.1 .5 .1 .5-.3 .5 .1 .5 0 .5-.2 .5 .4 .5 0 .5 0 .5-.2 .5-.1 .5 0 .5 .1 .5-.1 .5 .2 .5 .1 .5-.2 .5 .2 .5 0 .5 0 .5 0 .5 0 .5-.2 .5 .2 .5-.2 .5-.1 .5 .2 .5 .1 .5-.2 .5-.1 .5 0 .5 .1 .5 0 .5-.1 .5 .1 .5-.2 .5 .3 .5-.2 .5 .1 .5 0 .5 .2 .5-.2 .5 .1 .5-.1 .5 0 .5 0 .5 .2 .5 0 .5-.2 .5-.1 .5-.1 .5 .1 .5 .2 .5-.1 .5 0 .5-.1 .5 .2 .5-.3 .5 .2 .5 .1 .5-.1 .5 .1 .5-.3 .5 .4 .5-.1 .5 .1 .5-.2 .5 .2 .5 0 .5-.1 .5-.1 .5-.1 .5 .2 .5 0 .5 0 .5-.2 .5 .3 .5 0 .5-.3 .5 .1 .5 .2 .5 0 .5-.3 .5 0 .5 .3 .5-.2 .5 .2 .5-.1 .5 3.1 .5 .3 .5-.4 .5 .3 .5 0 .5-.2 .5 .3 .5 0 .5-.3 .5 .1 .5-.2 .5 .1 .5 .2 .5 .1 .5-.3 .5 .1 .5 .1 .5-.3 .5 .3 .5-.2 .5 .3 .5-.4 .5 0 .5 .1 .5 .2 .5-.2 .5-.1 .5 .1 .5 .3 .5-.2 .5 .1 .5-.1 .5-.2 .5 0 .5 .3 .5-.1 .5 .1 .5 0 .5-.2 .5 0 .5 .2 .5-.1 .5-.1 .5 0 .5 .1 .5 .2 .5 0 .5-.1 .5-.3 .5 .2 .5-.1 .5 .1 .5 0 .5 .1 .5-.3 .5 .1 .5 .3 .5-.3 .5 0 .5 0 .5 0 .5 0 .5-.1 .5 0 .5 .2 .5-.1 .5 .1 .5 0 .5 0 .5-.1 .5 .2 .5 0 .5-.3 .5 .1 .5 0 .5-.1 .5 .2 .5-.1 .5 .2 .5 0 .5 .1 .5-.3 .5-.1 .5 .3 .5-.1 .5 .2 .5-.1 .5-.2 .5-.1 .5 .4 .5-.1 .5-.2 .5 .2 .5-.3 .5 .3 .5-.1 .5 .1 .5 0 .5-.1 .5 .1 .5-.2 .5 .3 .5-.3 .5 0 .5 .2 .5 0 .5 .1 .5 0 .5-.3 .5 0 .5 .3 .5-.2 .5-.1 .5 .2 .5 .1 .5-.2 .5 .1 .5-.3 .5 .2 .5-.2 .5 0 .5 .2 .5 .2 .5-.4 .5 .4 .5-.2 .5 .2 .5 0 .5-.2 .5 .1 .5-.3 .5 .2 .5-.2 .5 0 .5 .1 .5 0 .5 .1 .5-.1 .5 0 .5 .2 .5-.1 .5 0 .5 0 .5-.1 .5 0 .5 .1 .5-.1 .5-.1 .5 .4 .5-.1 .5 .1 .5-.1 .5-.3 .5 .3 .5-.1 .5 0 .5 0 .5 .1 .5-.2 .5 .2 .5-.3 .5 .1 .5 .3 .5-.2 .5 .2 .5-.4 .5 .4 .5-.1 .5-.2 .5 0 .5 0 .5 .1 .5 0 .5 .1 .5-.1 .5 .1 .5-.2 .5 .3 .5-.1 .5 0 .5-.1 .5-.1 .5 .3 .5-.4 .5 0 .5 .2 .5 .1 .5-.3 .5 0 .5 .3 .5-.2 .5-.1 .5 0 .5 .3 .5 .1 .5-.1 .5 0 .5-.3 .5 0 .5 .2 .5 .2 .5-.1 .5 0 .5-.2 .5 0 .5 0 .5 .1 .5 0 .5 0 .5 0 .5 0 .5-.1 .5 0 .5 .2 .5-.1 .5 .1 .5 .1 .5-.2 .5 0 .5 .2 .5 0 .5-.2 .5-.2 .5 0 .5 .4 .5-.1 .5-.1 .5 .1 .5 0 .5-.2 .5-.1 .5 .2 .5 .1 .5 .1 .5 0 .5-.3 .5 .2 .5-.2 .5 0 .5 .3 .5-.1 .5 0 .5-.2 .5 0 .5 .2 .5-.1 .5 .1 .5-.1 .5-.1 .5 .2 .5-.3 .5 0 .5 .1 .5-.1 .5 0 .5 .3 .5-.3 .5 .3 .5-.2 .5 .3 .5-.1 .5-.1 .5-.2 .5 .1 .5 .2 .5-.3 .5 0 .5 .2 .5 .2 .5-.1 .5 0 .5-.1 .5-.2 .5 .1 .5-.1 .5 .4 .5-.1 .5-.2 .5 .2 .5 0 .5 .1 .5 0 .5-.2 .5 0 .5 0 .5 0 .5 .1 .5 .1 .5-.3 .5 .2 .5-.1 .5 0 .5 .1 .5 .1 .5-.1 .5 0 .5 .1 .5 0 .5-.2 .5 .2 .5-.4 .5 .2 .5 0 .5 0 .5 .2 .5 0 .5-.3 .5 .1 .5 0 .5 .1 .5-.2 .5 .1 .5-.1 .5-.1 .5 0 .5 .1 .5 0 .5 .1 .5 0 .5 0 .5 0 .5-.2 .5 0 .5 .4 .5-.3 .5 0 .5 0 .5-.1 .5 .4 .5-.2 .5 0 .5-.2 .5 .3 .5-.1 .5 .1 .5-.2 .5 .1 .5-.1 .5 .2 .5-.3 .5 .4 .5-.1 .5-.2 .5-.1 .5 .1 .5 .2 .5 .1 .5-.3 .5 0 .5 .3 .5-.4 .5 .2 .5 .2 .5-.2 .5 .1 .5 .1 .5-.4 .5 0 .5 .4 .5-.2 .5 .1 .5-.2 .5 .3 .5-.1 .5-.1 .5 0 .5 0 .5-.1 .5-.1 .5 0 .5 0 .5 0 .5 .3 .5 0 .5-.1 .5-.1 .5 0 .5 .2 .5-.3 .5 .3 .5 .1 .5 0 .5-.1 .5-.2 .5-.1 .5 .4 .5-.1 .5 0 .5-.2 .5-.1 .5 .3 .5 .1 .5-.4 .5 0 .5 .1 .5 .1 .5-.1 .5 0 .5 .1 .5 .1 .5-.1 .5-.1 .5 .2 .5-.2 .5 .2 .5-.3 .5 .3 .5 0 .5-.3 .5 0 .5 0 .5 0 .5 0 .5 0 .5 .2 .5 .2 .5-.3 .5-.1 .5 0 .5 .4 .5 0 .5-.3 .5 .1 .5-.2 .5 0 .5 .2 .5-.1 .5 0 .5 0 .5 .1 .5-.1 .5 .3 .5-.4 .5 .1 .5 0 .5 .1 .5 .1 .5-.1 .5-.1 .5 .1 .5 .2 .5 0 .5-.2 .5 .1 .5 0 .5 0 .5-.1 .5-.1 .5-.1 .5 .1 .5 .3 .5-.4 .5 .1 .5 0 .5 0 .5 .2 .5 0 .5 .1 .5-.3 .5 .3 .5-.3 .5-.1 .5 .1 .5 0 .5-.1 .5 0 .5 0 .5 0 .5 .2 .5 .2 .5-.3 .5 0 .5-.1 .5 .1 .5 .1 .5 .2 .5-.4 .5 .1 .5-.1 .5 .1 .5-.1 .5 .1 .5-.1 .5 .2 .5-.2 .5 .2 .5 .2 .5-.1 .5 0 .5-.3 .5 .2 .5 .1 .5-.2 .5 .3 .5-.1 .5-.1 .5 .2 .5-.3 .5 .1 .5-.1 .5 .2 .5-.3 .5 .3 .5-.1 .5 .1 .5 .1 .5-.1 .5-.3 .5 .3" fill="none" stroke="#1d4f8a" stroke-width="1" stroke-linejoin="round"/><path d="M0 143.3l.5-.1 .5-.5 .5 .1 .5 0 .5-.5 .5-.3 .5-.7 .5-.8 .5-.8 .5 1.2 .5 .9 .5 1.1 .5 .3 .5-.1 .5 .6 .5-.6 .5-.5 .5-.2 .5-.2 .5 .4 .5-.2 .5-1.4 .5-.8 .5-1 .5-.7 .5 1.3 .5 1.4 .5 1.3 .5 1 .5 .2 .5-.1 .5 0 .5-.2 .5 0 .5 .3 .5-.6 .5-.6 .5-.4 .5-.2 .5 .2 .5 .3 .5 .2 .5 .6 .5-.4 .5-.7 .5-1.7 .5-1.2 .5-1.9 .5-1.2 .5 1.9 .5 1.7 .5 .9 .5 1.3 .5-.3 .5-.2 .5-.2 .5-.8 .5-1 .5-.2 .5 1.2 .5 .9 .5 .1 .5 .4 .5 .5 .5 .3 .5 .5 .5 .5 .5-.3 .5 .4 .5-.1 .5-.3 .5-.4 .5-.9 .5-.3 .5-.5 .5 .8 .5-38.3 .5-65.1 .5-27.3 .5-.5 .5 1.1 .5-.9 .5 1.4 .5-1.6 .5 .9 .5 .5 .5-1.1 .5 .1 .5-1.8 .5-1 .5-.7 .5 1.8 .5 .3 .5 2.7 .5-1.5 .5 .3 .5 .8 .5-1 .5 .7 .5 52.1 .5 65.2 .5 14.5 .5 0 .5-.1 .5-.4 .5 .4 .5 .4 .5-.5 .5-.4 .5 .3 .5 .4 .5-.3 .5-.5 .5 .3 .5-.5 .5-.4 .5-.2 .5 .1 .5 .5 .5 .5 .5-.5 .5 .3 .5-.2 .5 .3 .5-.4 .5-.1 .5 .2 .5 .4 .5-.3 .5 .5 .5-.2 .5-1.1 .5-1.5 .5-1.1 .5-.3 .5 .5 .5 1.3 .5 1.6 .5 1.3 .5 .3 .5 0 .5 0 .5 0 .5-.1 .5 .1 .5 0 .5-1.7 .5-2.6 .5-2.2 .5-2.3 .5-1.3 .5 2.5 .5 2.5 .5 2.6 .5 1 .5-.9 .5-1.5 .5-.5 .5-.8 .5 1.1 .5 .7 .5 1.2 .5 .5 .5 .7 .5-.1 .5-.3 .5-.4 .5-.3 .5-.3 .5-.3 .5 0 .5 .2 .5-.2 .5 0 .5 0 .5 .1 .5-.1 .5 0 .5 0 .5 0 .5 .1 .5-.1 .5-.6 .5-.5 .5-1.2 .5-1.3 .5-.7 .5 1.1 .5 1.1 .5 .9 .5 1 .5 .3 .5-.1 .5 .5 .5-.3 .5 .5 .5-.1 .5 0 .5 .4 .5-.3 .5 0 .5-.1 .5-.5 .5 .3 .5 .6 .5 .2 .5-.2 .5 .3 .5 .4 .5-.4 .5-.2 .5 0 .5-.4 .5 .2 .5-.2 .5 .3 .5 .1 .5-.3 .5-.5 .5-.3 .5-.3 .5-.7 .5-.5 .5-.2 .5-.4 .5 .2 .5 .4 .5 .7 .5 .7 .5 .4 .5 .3 .5 .1 .5 .3 .5 .3 .5-.7 .5-1.5 .5-1.3 .5-1.2 .5-1.2 .5 .8 .5 1.4 .5 1.9 .5 1.9 .5-.2 .5 .5 .5-.2 .5-.1 .5 .2 .5-.3 .5 .5 .5 .5 .5 0 .5 .4 .5-.4 .5 .3 .5 .1 .5 0 .5-.2 .5 .1 .5-.2 .5-.2 .5-.3 .5-.6 .5-.2 .5 .4 .5 0 .5 .4 .5 .5 .5 .1 .5-.3 .5 .4 .5 .1 .5 0 .5-.3 .5 0 .5-.1 .5-.3 .5 .1 .5-.4 .5-.4 .5 .4 .5-.5 .5-.2 .5 .4 .5 .1 .5-.2 .5-.5 .5 .2 .5-.1 .5-.5 .5-.3 .5-.1 .5 0 .5 0 .5 .3 .5-.2 .5-.9 .5-1.4 .5-1.3 .5-1 .5-1.2 .5 1.4 .5 1.3 .5 1.4 .5 1.3 .5 .5 .5-.2 .5 0 .5 .2 .5 .5 .5 0 .5 0 .5-.3 .5 0 .5 .5 .5-.3 .5 .5 .5-.4 .5 .4 .5 .2 .5-.3 .5 .4 .5 .4 .5 0 .5-.3 .5-.4 .5-.2 .5-.5 .5 0 .5-.4 .5 .5 .5 .3 .5 0 .5 .2 .5-.2 .5-.2 .5 0 .5-.4 .5-.1 .5 .2 .5 .1 .5-.4 .5 0 .5 .3 .5-.7 .5-.7 .5-.7 .5-.6 .5-.1 .5 .6 .5 .7 .5 .6 .5 1.2 .5-.4 .5 0 .5 .1 .5-.3 .5 0 .5 0 .5 0 .5 .5 .5 0 .5 .1 .5-.6 .5 0 .5 .3 .5 0 .5 .4 .5 .1 .5-.4 .5-.4 .5 0 .5 .2 .5 .4 .5-.1 .5-.5 .5 .4 .5-.3 .5 .6 .5 .3 .5 .3 .5-.2 .5 .2 .5 .2 .5-.1 .5 .4 .5-.2 .5 .4 .5 0 .5 .3 .5 .3 .5 0 .5 .1 .5 0 .5 0 .5-.1 .5 .1 .5 0 .5-.2 .5-.2 .5-.4 .5-1.1 .5-.8 .5-1.1 .5-.1 .5 .4 .5 .3 .5 .2 .5 .9 .5 .4 .5-.5 .5 .3 .5-.6 .5-.2 .5 .4 .5 .3 .5-.2 .5 .2 .5 .5 .5-.4 .5 .1 .5-.3 .5 .4 .5 .1 .5-.2 .5 .6 .5 .3 .5-.2 .5-.5 .5-.5 .5 .4 .5 0 .5-.3 .5 0 .5-.2 .5 .4 .5 .5 .5 .4 .5 .6 .5-.1 .5 0 .5-.1 .5 .5 .5 0 .5 0 .5-.5 .5-.5 .5-.5 .5 .4 .5 .6 .5-.6 .5 .1 .5-.3 .5 .2 .5 0 .5 0 .5 .1 .5-.2 .5 .6 .5-.2 .5-.4 .5 .4 .5 0 .5-.3 .5-.5 .5-.6 .5-.6 .5-1.1 .5-.4 .5 .6 .5 .6 .5 .8 .5 .6 .5 0 .5 .1 .5-.1 .5 0 .5-.6 .5-.3 .5 .3 .5-.8 .5-.7 .5-.7 .5-.6 .5-.3 .5 .5 .5 .7 .5 .7 .5 .7 .5 .1 .5 .1 .5-.1 .5 .5 .5 .2 .5 0 .5 .6 .5 .2 .5-.2 .5-.1 .5 .3 .5-.5 .5-.2 .5 .1 .5-.1 .5-.1 .5-.1 .5 .2 .5-.6 .5-.2 .5 0 .5 0 .5 0 .5 .6 .5-.2 .5-.3 .5 .3 .5 .1 .5 .6 .5 .3 .5 .2 .5 .5 .5 .2 .5-.4 .5-.1 .5 0 .5-.6 .5-.4 .5-1.3 .5-.8 .5-1.1 .5 .1 .5 .6 .5 .3 .5 1.3 .5 .1 .5 .6 .5 0 .5 .4 .5 0 .5-.1 .5 .5 .5-.5 .5 0 .5 0 .5-.1 .5 .2 .5 .2 .5-.2 .5 0 .5 .2 .5-.2 .5 .2 .5 .6 .5 .3 .5 .5 .5 .1 .5-.3 .5 .1 .5-.5 .5-.3 .5 .5 .5-.5 .5-.6 .5 .5 .5-.4 .5 .1 .5-1.5 .5-33.5 .5-33.4 .5-33.5 .5-33.5 .5 0 .5 0 .5 33.5 .5 19.1 .5-33.8 .5-20.3 .5 0 .5 13.6 .5 33.8 .5 33.8 .5 33.8 .5 22.2 .5 .1 .5-.2 .5-27.8 .5-32.7 .5-32.8 .5-32.8 .5-6.5 .5 0 .5 26.2 .5 31.1 .5-33.5 .5-26.8 .5 0 .5 6.7 .5 33.5 .5 33.4 .5 33.5 .5 27.4 .5-.2 .5-.1 .5-20.4 .5-33.5 .5-33.4 .5-33.5 .5-13.4 .5 0 .5 20.1 .5 33.5 .5 33.4 .5 33.5 .5 14.9 .5 .1 .5-.1 .5 .4 .5-8.6 .5-33.5 .5-33.4 .5-33.5 .5-26.8 .5 0 .5 6.7 .5 33.5 .5 33.4 .5 33.5 .5 29.4 .5-.4 .5 .5 .5 .2 .5-.4 .5-.2 .5-.3 .5 .4 .5 .1 .5 .2 .5-.3 .5 .1 .5-.2 .5-.5 .5 .2 .5-.1 .5-.3 .5-.5 .5 .1 .5 .2 .5 .4 .5-.4 .5 .5 .5 .5 .5-.1 .5 0 .5-.2 .5 .3 .5-.4 .5 .5 .5 .4 .5-.2 .5 .2 .5 0 .5-.3 .5-.2 .5 .2 .5 .3 .5 0 .5-1.1 .5-1.2 .5-1.2 .5-1.6 .5-.9 .5 .8 .5 .8 .5 .9 .5 1.4 .5-.1 .5 .3 .5 .2 .5 .1 .5-.5 .5-.5 .5 .3 .5 .2 .5 .1 .5 .2 .5 .1 .5 .2 .5 .3 .5-.9 .5-1.7 .5-1.4 .5-1.7 .5-.9 .5 1.7 .5 1.1 .5 .9 .5 1.6 .5 .8 .5 0 .5-.1 .5 0 .5-.6 .5-.2 .5-.1 .5 .5 .5-.1 .5-.3 .5 .5 .5 .5 .5-.3 .5-.5 .5 .5 .5-.1 .5 .4 .5-.3 .5-.2 .5 .3 .5 .4 .5-.4 .5 0 .5-.3 .5 .1 .5 .2 .5-.5 .5-.2 .5 0 .5-.1 .5-.1 .5 0 .5 0 .5 .1 .5-.1 .5 0 .5 0 .5 0 .5 0 .5 0 .5 0 .5-1.2 .5-2 .5-2.1 .5-2 .5-1.1 .5 2.1 .5 2.5 .5 1.7 .5 1.7 .5 .5 .5 .4 .5 .4 .5 .1 .5 .2 .5-.5 .5 .5 .5 .2 .5 .5 .5-.2 .5-.3 .5 .3 .5 .6 .5 0 .5-.1 .5-.5 .5 .6 .5 .4 .5 0 .5 0 .5 0 .5-.9 .5-1.1 .5-.7 .5-1 .5-.6 .5 1 .5 .7 .5 1.3 .5 .9 .5-.2 .5 .1 .5 .2 .5-.4 .5-.5 .5 .2 .5-.1 .5-.5 .5 0 .5 .3 .5 .6 .5-.6 .5-.3 .5 .1 .5 0 .5 0 .5 .2 .5-.5 .5-.2 .5 .3 .5 .6 .5 0 .5 .1 .5-.3 .5-.3 .5-.1 .5 .4 .5 .4 .5 .2 .5 .3 .5-2.7 .5-6.2 .5-4.2 .5-6.2 .5-1.5 .5 .3 .5-1.7 .5-1.8 .5 .3 .5-.9 .5-2.6 .5-1.5 .5-.3 .5-.2 .5-1.7 .5 1.7 .5 2.5 .5 .5 .5 1.1 .5 1 .5-.1 .5 0 .5 .8 .5 2.6 .5 .4 .5 2.1 .5 4.8 .5 6.3 .5 5.6 .5 0 .5 .4 .5-.4 .5 .2 .5 .3 .5 .5 .5 .2 .5 0 .5-.2 .5 .1 .5-.2 .5 .5 .5 .1 .5 .1 .5-.6 .5-.4 .5-.2 .5 .6 .5 .2 .5-.3 .5 .3 .5-.1 .5 .1 .5 .6 .5-.6 .5-.4 .5 .4 .5-.2 .5 .3 .5 .1 .5 0 .5 .2 .5 .2 .5 .2 .5-.2 .5 .2 .5 0 .5-.3 .5 .2 .5-.5 .5-.1 .5-.3 .5 .2 .5-.4 .5 .5 .5 .4 .5 .3 .5-.3 .5-.2 .5 .4 .5 .1 .5-.4 .5-.2 .5 .5 .5 .1 .5 0 .5 0 .5 0 .5 0 .5-.5 .5 0 .5 0 .5-.1 .5-1.6 .5-5.5 .5-7.5 .5 1.1 .5-1.1 .5-.7 .5-.4 .5 .1 .5-2.8 .5-.3 .5 1.9 .5 0 .5-2.8 .5-10.7 .5-9.8 .5-7.7 .5 11.3 .5 12.6 .5 11.3 .5-1.9 .5 .2 .5 .8 .5 .5 .5-2.6 .5 .4 .5 .7 .5 .6 .5-2.2 .5 1.3 .5-.4 .5 .4 .5 .1 .5-.5 .5 .3 .5-.9 .5 0 .5-1.1 .5 1.5 .5 .3 .5 .2 .5-1.2 .5 1.3 .5-.7 .5-.5 .5-2.8 .5-1.2 .5-3.1 .5-.2 .5 .9 .5 2 .5 2.6 .5 .7 .5 1.8 .5-.7 .5-.1 .5 .2 .5 1 .5-.9 .5 .8 .5-1.8 .5-2.8 .5-.2 .5-2.5 .5-1 .5 2.6 .5-5.8 .5 2.4 .5 .1 .5 2.6 .5-.1 .5-.3 .5-1.8 .5-.3 .5 .9 .5-.1 .5 1 .5-2 .5 2 .5-1 .5 .6 .5-.6 .5 7.6 .5 1.3 .5-1.4 .5-.2 .5 2.9 .5-1.7 .5 .7 .5 .2 .5 0 .5 .2 .5-.4 .5 0 .5-.7 .5-.6 .5-.1 .5 1.6 .5-1.1 .5 .4 .5-.4 .5-1.1 .5 2.2 .5-1 .5-.5 .5-1 .5 .9 .5-1.9 .5 2.1 .5-.5 .5 .5 .5-.6 .5-1 .5 1.9 .5-.3 .5-1.1 .5 .6 .5-.6 .5 .2 .5-2.5 .5-.8 .5-1.1 .5 1.4 .5 0 .5 2.7 .5-.8 .5 .8 .5 .4 .5 2.4 .5-.3 .5-.8 .5 0 .5 1.4 .5-1.5 .5 1.4 .5-.2 .5 1.1 .5-1.6 .5 .6 .5-.1 .5-1.6 .5 .7 .5-1.6 .5 1.7 .5-.7 .5 .8 .5-.9 .5-.1 .5-.6 .5 .7 .5-1.1 .5 1.4 .5 2.3 .5 7.2 .5 4.5 .5 .2 .5 .5 .5-.4 .5-.4 .5 .1 .5 .2 .5-.1 .5 .5 .5 .6 .5-6.3 .5-5.3 .5-2.9 .5-1.1 .5-.9 .5 1.5 .5 1.4 .5-.1 .5-2.3 .5-.2 .5 .4 .5 1.1 .5-.8 .5 1.3 .5 .2 .5-1 .5-2.3 .5 1.2 .5-.7 .5 2.5 .5-1.4 .5 1.4 .5 0 .5 .1 .5-1.9 .5 1.1 .5-.9 .5-.7 .5-.2 .5-.4 .5 .6 .5 .2 .5-.5 .5 1.6 .5 .5 .5-1.4 .5 1.6 .5 .1 .5 .2 .5-.3 .5-.1 .5 0 .5-.3 .5 .7 .5-3.7 .5 .1 .5-3.4 .5-2.9 .5-1.2 .5 3.1 .5 2.5 .5 2.1 .5 1.9 .5 .1 .5 .7 .5-1.4 .5 1.2 .5 1.1 .5-.8 .5-1.2 .5 2.2 .5-1 .5-.8 .5 1.3 .5-.3 .5 .9 .5 .1 .5-.4 .5-.5 .5 .2 .5 .1 .5 0 .5-1 .5 2 .5-.6 .5-.4 .5 .3 .5-1.4 .5 .8 .5-1 .5 1 .5 0 .5 2.5 .5 6.5 .5 3.9 .5-.2 .5 0 .5-.6 .5 .4 .5-.3 .5 .4 .5-.2 .5 .4 .5 0 .5-.3 .5-.3 .5-.1 .5 .3 .5 0 .5 .3 .5-.1 .5 0 .5 .6 .5-.1 .5-.3 .5-.1 .5-.4 .5 .4 .5 .4 .5 .6 .5 0 .5 0 .5 .1 .5 .3 .5-.4 .5 .6 .5-1.3 .5-1.5 .5-1.4 .5-1.7 .5-.5 .5 1.8 .5 1.6 .5 1.8 .5 0 .5-2.3 .5-2.3 .5-2.2 .5-1.5 .5 2.4 .5 2 .5 2.7 .5 2.4 .5 .5 .5-.3 .5-.4 .5-.3 .5 .5 .5 .1 .5 .2 .5 .2 .5-.6 .5-1.1 .5-2.7 .5-3 .5-3.2 .5-1.2 .5 2.7 .5 2.4 .5 3.3 .5 2.8 .5 .1 .5 .4 .5 .1 .5 0 .5 0 .5 0 .5 0 .5-.6 .5-.3 .5-.3 .5 .3 .5 .3 .5-.1 .5 .3 .5 .1 .5-.5 .5 .1 .5 .2 .5-.6 .5-.1 .5 .6 .5 .1 .5-.2 .5 .5 .5 .2 .5-.3 .5-.4 .5-.1 .5-.5 .5 .1 .5 .1 .5-.4 .5 .1 .5-.3 .5 .3 .5 .2 .5 .4 .5-.1 .5 .4 .5 .4 .5 .1 .5 0 .5 0 .5 0 .5-.6 .5-1.9 .5-3.1 .5-2.3 .5-2.6 .5-1.1 .5 2.5 .5 2.8 .5 3 .5 2.7 .5 .6 .5 0 .5 0 .5-.5 .5-.3 .5 .3 .5 .1 .5-.3 .5-1.5 .5-.8 .5-1.3 .5-.9 .5 .5 .5 1.6 .5 1.2 .5 1.2 .5 .6 .5-.4 .5 .2 .5-.3 .5 0 .5 .5 .5 .1 .5 0 .5 0 .5 0 .5-.2 .5 .2 .5 0 .5 0 .5-.1 .5 .1 .5-.3 .5 .3 .5-.3 .5-.2 .5 .4 .5 .1 .5 0 .5-.3 .5 .1 .5 .1 .5-.4 .5 .3 .5 .2 .5 0 .5 0 .5 0 .5 0 .5-.2 .5-.1 .5-.3 .5-.6 .5-.6 .5-1.5 .5-1.9 .5-1 .5-1 .5 1.1 .5 .8 .5 1 .5 1.6 .5 .1 .5 .5 .5 .1 .5 .1 .5 .6 .5 .1 .5 .2 .5 0 .5 .3 .5 .4 .5 .1 .5 0 .5 .2 .5-.2 .5 .2 .5 0 .5 0 .5 0 .5 0 .5-.1 .5-.3 .5 0 .5-.3 .5 .6 .5 .1 .5 0 .5 0 .5 0 .5 0 .5 0 .5-.1 .5-.4 .5-.6 .5-.7 .5-.7 .5-.4 .5 .2 .5 .6 .5 1 .5 .5 .5 .5 .5 0 .5-.1 .5-.6 .5 .2 .5-.1 .5-.5 .5-.3 .5-.2 .5-.1 .5 .1 .5 .1 .5 .2 .5-.4 .5-.4 .5-.3 .5-1.1 .5-.2 .5-.2 .5-.4 .5 .9 .5 .8 .5 .1 .5 1.1 .5 .5 .5 .3 .5-.2 .5 .3 .5 .6 .5-.1 .5 .1 .5 0 .5 0 .5-.2 .5-.1 .5-.1 .5-.1 .5-.4 .5-.5 .5 .1 .5 .2 .5-.4 .5 .2 .5-.3 .5-.2 .5-.2 .5-.6 .5-.1 .5 .4 .5-.2 .5 .1 .5-.1 .5 .1 .5 .3 .5-.3 .5 0 .5 .3 .5 .3 .5 .2 .5 .4 .5-.1 .5-.5 .5-1.2 .5-1.4 .5-1.7 .5-1.3 .5 2 .5 1.7 .5 1.3 .5 1.7 .5 .7 .5-.5 .5-.4 .5 .5 .5 .3 .5 0 .5-.4 .5 .2 .5-.3 .5 .3 .5-.2 .5 .2 .5 .2 .5-.4 .5-.4 .5-.3 .5-.1 .5 .1 .5-.3 .5-.1 .5-.4 .5-.4 .5 .5 .5 .1 .5-.2 .5 .3 .5 .4 .5-.4 .5-1.8 .5-2.2 .5-2.3 .5-.5 .5 1.4 .5 1.8 .5 1.5 .5 1.8 .5-.1 .5-.6 .5 .5 .5-.2 .5 .4 .5 .6 .5 .2 .5-.3 .5-.5 .5 .4 .5 .2 .5-.4 .5-1.8 .5-1.6 .5-1.6 .5-.7 .5 1.3 .5 1.3 .5 1.9 .5 1.8 .5 .2 .5-.3 .5-.6 .5 .2 .5-.3 .5 0 .5-.4 .5 .4 .5 .4 .5 .1 .5-1.2 .5-.4 .5-.6 .5 0 .5 .9 .5 1.2 .5 .6 .5 .8 .5 0 .5 .2 .5 0 .5 0 .5 0 .5 0 .5 0 .5 0 .5-.5 .5 .2 .5 .3 .5 0 .5 0 .5-.6 .5 .3 .5-.4 .5 0 .5 .1 .5-.4 .5 .2 .5 .5 .5-.1 .5-.2 .5-.1 .5 .3 .5-1.8 .5-2.4 .5-2.6 .5-2 .5-1.6 .5 1.8 .5 2.4 .5 2.5 .5 2.5 .5 .8 .5 .5 .5 .2 .5-.3 .5 .2 .5 0 .5 .2 .5 0 .5-.6 .5 .6 .5-.1 .5-.3 .5-.4 .5-.3 .5 .1 .5-.3 .5-.4 .5-.3 .5-.6 .5 .5 .5-.6 .5 .2 .5-.2 .5 .3 .5-.3 .5 .6 .5-.1 .5 .3 .5 .1 .5 .2 .5-.2 .5-.4 .5 .2 .5-.6 .5-.5 .5-.4 .5-1.2 .5-.1 .5 1.1 .5 .9 .5 .4 .5 1 .5-.2 .5 0 .5-.2 .5 .3 .5 .5 .5 .4 .5 .2 .5 .1 .5 .3 .5-.1 .5 .1 .5-.5 .5-.7 .5-1.2 .5-.3 .5-.9 .5 .9 .5 .4 .5 1.1 .5 .1 .5 .3 .5-.6 .5 .3 .5 .1 .5-.2 .5 .4 .5 .3 .5-.3 .5-.5 .5 .2 .5 .4 .5 .2 .5-.6 .5 .4 .5-.2 .5 .2 .5-.2 .5 .4 .5-.2 .5-.4 .5-.5 .5-.1 .5 0 .5-.1 .5 .5 .5-.4 .5-.3 .5 .1 .5-.2 .5 .1 .5 .1 .5 .3 .5-.1 .5-.1 .5 0 .5 .6 .5-.2 .5 .1 .5-.1 .5-.9 .5-1.9 .5-.9 .5-1.3 .5-1.4 .5 1 .5 1.6" fill="none" stroke="#b03a58" stroke-width="1.1" stroke-linejoin="round"/><line x1="0" y1="0.5" x2="827.8" y2="0.5" stroke="#0b3a6a" stroke-width="1"/><path d="M0 146.2l.5 .1 .5 .2 .5 0 .5-.2 .5 0 .5 .1 .5 .2 .5-.3 .5 .3 .5-.2 .5 0 .5-.1 .5 .1 .5 .3 .5-.4 .5 0 .5 .1 .5 .3 .5-.4 .5 .2 .5-.1 .5-.2 .5 .1 .5 .3 .5-.3 .5 .2 .5-.2 .5 .2 .5 0 .5 0 .5 .1 .5-.1 .5-.2 .5 .3 .5 0 .5-.3 .5 .1 .5 0 .5 .2 .5 0 .5-.1 .5-.3 .5 .2 .5-.1 .5 .3 .5-.1 .5-.1 .5-.1 .5 .3 .5-.3 .5 .2 .5 .2 .5-.2 .5 0 .5-.1 .5-.1 .5 .1 .5 0 .5 .1 .5-.2 .5 .3 .5-.3 .5 .3 .5-.2 .5 .2 .5-.1 .5 .1 .5-.1 .5-.1 .5 0 .5 .1 .5-.1 .5-.1 .5 .2 .5-.1 .5 .1 .5-.3 .5 .3 .5-.1 .5 .2 .5 0 .5-.3 .5 .1 .5 .2 .5 0 .5-.3 .5 .2 .5-.2 .5 .2 .5-.1 .5 0 .5-.2 .5 .1 .5 .2 .5 0 .5 .1 .5-.3 .5 .3 .5-.1 .5-.2 .5 .4 .5-.3 .5 0 .5 0 .5 .1 .5 .1 .5-.4 .5 .1 .5 0 .5 .3 .5-.3 .5 .3 .5 0 .5-.2 .5 0 .5 .2 .5-.3 .5 .1 .5-.1 .5 0 .5 .1 .5 .1 .5-.3 .5 .1 .5 .2 .5-.2 .5 0 .5 .3 .5 0 .5 .1 .5-.3 .5 .2 .5-.1 .5 .1 .5 0 .5-.1 .5 0 .5 0 .5 0 .5-.1 .5-.1 .5 .3 .5-.3 .5 0 .5 .1 .5 0 .5-.1 .5 .1 .5 0 .5-.1 .5 0 .5 .3 .5 0 .5-.3 .5 .2 .5-.2 .5 .3 .5-.1 .5 0 .5-.2 .5-.1 .5 .2 .5 0 .5 .1 .5 .1 .5-.4 .5 .4 .5-.3 .5 .1 .5 .2 .5-.3 .5 .3 .5-.2 .5 .2 .5-.4 .5 .3 .5-.2 .5 .3 .5-.2 .5 .2 .5 .1 .5-.3 .5-.2 .5 .2 .5-.1 .5 0 .5 .1 .5 .2 .5-.2 .5 .2 .5-.2 .5 .1 .5-.1 .5 .2 .5-.2 .5 .1 .5 0 .5 .1 .5-.1 .5-.1 .5-.2 .5 .2 .5 .2 .5-.1 .5 0 .5-.1 .5-.1 .5-.1 .5 0 .5 .1 .5 0 .5 0 .5 .4 .5-.2 .5-.1 .5 0 .5 0 .5 0 .5-.1 .5 .3 .5-.2 .5-.2 .5 .5 .5-.1 .5-.3 .5-.1 .5 .5 .5 0 .5-.4 .5 .1 .5 0 .5 0 .5-.1 .5 0 .5 .4 .5-.1 .5-.3 .5-.1 .5 .1 .5 .2 .5 0 .5 0 .5 .2 .5-.4 .5 .3 .5-.2 .5 0 .5 .1 .5-.1 .5 .1 .5 .1 .5-.3 .5 .3 .5 0 .5 0 .5-.1 .5-.2 .5 .2 .5 .1 .5-.2 .5 .2 .5-.2 .5 .2 .5-.3 .5 .3 .5 0 .5-.1 .5 0 .5-.2 .5 .1 .5-.1 .5 .1 .5 .2 .5-.3 .5 .3 .5 0 .5-.1 .5-.3 .5 .3 .5 0 .5-.2 .5-.1 .5 .3 .5 .1 .5-.3 .5 0 .5 .2 .5-.2 .5 .2 .5 0 .5-.1 .5-.1 .5 .2 .5-.2 .5 .4 .5-.3 .5 .1 .5 .1 .5-.3 .5 .3 .5 0 .5-.3 .5-.1 .5 .1 .5 .2 .5-.2 .5 .3 .5-.2 .5-.2 .5 .4 .5 0 .5-.2 .5-.1 .5 0 .5-.1 .5 .3 .5 0 .5 .1 .5-.1 .5-.2 .5 .3 .5 0 .5-.1 .5 .1 .5-.1 .5 .1 .5 0 .5-.2 .5 0 .5 0 .5-.1 .5 .1 .5-.2 .5 .4 .5 0 .5 0 .5-.1 .5-.2 .5 0 .5 .1 .5 .2 .5-.1 .5-.1 .5 .1 .5-.2 .5-.1 .5 .3 .5-.1 .5-.1 .5 .2 .5 .1 .5-.4 .5 0 .5 .5 .5-.4 .5 .2 .5 .1 .5 0 .5 0 .5-.3 .5 .3 .5 .1 .5-.1 .5-.3 .5 .1 .5 0 .5 .1 .5 .1 .5 .1 .5-.2 .5 .1 .5 0 .5-.2 .5 .1 .5 0 .5-.1 .5 .1 .5 0 .5-.2 .5 .1 .5 .1 .5-.1 .5 .1 .5 0 .5-.2 .5 .3 .5-.3 .5 0 .5 0 .5 .3 .5-.2 .5-.2 .5 .3 .5 .1 .5-.3 .5 .3 .5-.2 .5 .2 .5-.4 .5 .3 .5 .1 .5-.2 .5 .1 .5-.1 .5 0 .5-.1 .5 .1 .5 .1 .5 .2 .5-.3 .5 .1 .5-.1 .5 0 .5 .1 .5 .1 .5-.2 .5 .1 .5-.1 .5-.2 .5 .3 .5 0 .5 .1 .5-.3 .5 .3 .5-.3 .5 0 .5 .3 .5-.3 .5 .1 .5 .1 .5-.1 .5-.2 .5 .3 .5 0 .5 0 .5-.2 .5 .1 .5 .1 .5 .1 .5 0 .5-.3 .5 0 .5-.1 .5 .1 .5 .1 .5-.1 .5 .1 .5-.1 .5 0 .5 .3 .5-.3 .5 .2 .5 .1 .5-.3 .5 .4 .5-.3 .5 .1 .5-.2 .5 .1 .5-.1 .5 0 .5 .1 .5 .2 .5-.2 .5 .2 .5-.4 .5 .1 .5 .2 .5 .1 .5-.2 .5-.1 .5-.1 .5 .2 .5 .2 .5-.3 .5 .3 .5-.3 .5 0 .5 0 .5 0 .5 .1 .5-.2 .5 .2 .5 0 .5 .1 .5 0 .5 .2 .5-.1 .5-.3 .5 .3 .5-.2 .5-.1 .5 .1 .5 0 .5 .1 .5 0 .5 .1 .5-.2 .5 0 .5-.2 .5 .3 .5-.2 .5 0 .5 .2 .5-.3 .5 .2 .5-.2 .5 .1 .5 .2 .5 0 .5-.1 .5 .1 .5 .2 .5-.4 .5 .1 .5 .1 .5-.2 .5 .3 .5 0 .5-.2 .5 .2 .5-.1 .5 .1 .5 0 .5-.1 .5-.1 .5-.2 .5 .2 .5 .1 .5 0 .5 .1 .5-.1 .5-.3 .5 .4 .5-.1 .5-.1 .5-.1 .5 .1 .5 0 .5-.1 .5 0 .5 .3 .5-.2 .5-.2 .5 .2 .5 .2 .5-.3 .5 .3 .5 0 .5-.2 .5 .1 .5-.2 .5 0 .5 .2 .5-.2 .5 .1 .5 0 .5 .1 .5 0 .5 .1 .5-.1 .5-.3 .5 .1 .5 .3 .5 0 .5-.1 .5-.1 .5 .1 .5 .1 .5-.1 .5-.1 .5-.1 .5 .2 .5-.1 .5 0 .5 0 .5 .2 .5-.2 .5 .2 .5 0 .5-.1 .5 .2 .5-.1 .5-.1 .5 0 .5 .1 .5-.4 .5 .1 .5 .2 .5-.1 .5 .1 .5-.3 .5 .4 .5-.1 .5 .1 .5-.3 .5 .1 .5 .1 .5 0 .5-.2 .5 .3 .5-.3 .5 .1 .5 .1 .5 0 .5 0 .5 0 .5 0 .5-.1 .5 .1 .5 0 .5-.2 .5 .2 .5 0 .5-.2 .5 .2 .5 0 .5-.2 .5-.1 .5 .1 .5 .2 .5-.1 .5-.1 .5 .2 .5-.2 .5-.1 .5 .2 .5 0 .5 .1 .5-.1 .5 .2 .5-.3 .5 .1 .5-.2 .5 .3 .5-.1 .5 .3 .5-.2 .5-.2 .5 .3 .5-.2 .5 .2 .5-.1 .5-.3 .5 .4 .5-.3 .5 .3 .5-.2 .5-.1 .5 0 .5 .2 .5-.1 .5 0 .5-.1 .5 0 .5 .1 .5 .2 .5-.2 .5 0 .5 0 .5-.2 .5 .4 .5-.3 .5 .2 .5-.2 .5-.1 .5 .3 .5-.1 .5 0 .5 0 .5 .2 .5-.2 .5-.1 .5 .1 .5 .1 .5-.2 .5 .2 .5 .1 .5-.2 .5 .1 .5-.1 .5-.2 .5 .2 .5-.2 .5 .3 .5-.2 .5 .3 .5-.1 .5-.1 .5 0 .5-.1 .5 .2 .5 0 .5 0 .5-.1 .5 .3 .5-.2 .5-.1 .5 .2 .5-.1 .5-.2 .5 0 .5 .3 .5 0 .5 0 .5 0 .5-.3 .5 0 .5 .3 .5-.1 .5-.1 .5 .3 .5-.4 .5 0 .5 .3 .5-.2 .5 0 .5 .1 .5-.2 .5 .3 .5-.1 .5 0 .5 0 .5-.2 .5 .1 .5 0 .5-.2 .5 .4 .5 0 .5-.2 .5 .2 .5-.4 .5 .3 .5 0 .5 0 .5-.2 .5 0 .5 .1 .5 .2 .5-.1 .5-.1 .5 .2 .5-.3 .5 0 .5 .3 .5-.1 .5 .1 .5-.3 .5 .3 .5-.2 .5 .2 .5-.3 .5 .1 .5 0 .5 .2 .5 0 .5-.1 .5-.3 .5 .2 .5-.1 .5 .3 .5 0 .5 .1 .5-.3 .5 .2 .5-.1 .5-.1 .5 0 .5 .1 .5 0 .5 0 .5-.1 .5 .1 .5 0 .5 .1 .5-.1 .5 .1 .5 .1 .5-.2 .5-.1 .5 .1 .5 .1 .5-.3 .5 .2 .5-.1 .5 .1 .5-.2 .5 0 .5 .1 .5 0 .5 0 .5 0 .5 .1 .5 0 .5-.1 .5 .1 .5-.1 .5 0 .5-.1 .5 0 .5 .3 .5 .1 .5-.2 .5 .2 .5-.4 .5 .1 .5 .1 .5 .1 .5-.3 .5 0 .5 .1 .5 0 .5-.1 .5 .2 .5 0 .5-.1 .5-.1 .5-.1 .5 .1 .5 0 .5 .3 .5 0 .5-.4 .5 .2 .5 0 .5 .1 .5-.2 .5 .1 .5-.2 .5 .4 .5-.4 .5 .5 .5-.1 .5-.1 .5-.1 .5 .2 .5-.2 .5-.1 .5 .2 .5-.2 .5 .1 .5 0 .5 .2 .5-.1 .5-.2 .5 .1 .5 .2 .5-.1 .5-.1 .5 .1 .5-.1 .5 0 .5 .3 .5-.1 .5-.2 .5 .2 .5 0 .5-.3 .5 .2 .5-.3 .5 .2 .5 .2 .5-.2 .5 .2 .5-.3 .5 0 .5 0 .5 .3 .5 .1 .5-.4 .5 .3 .5 0 .5 .1 .5-.1 .5-.1 .5-.3 .5 .3 .5 .1 .5-.3 .5 .3 .5-.2 .5 0 .5-.1 .5 .3 .5-.2 .5 .1 .5-.2 .5 .3 .5-.2 .5 .2 .5-.2 .5-.2 .5 .4 .5-.1 .5-.2 .5 .1 .5 .2 .5 0 .5-.6 .5-.1 .5-.2 .5 .1 .5-.2 .5 .2 .5 0 .5 .1 .5-.1 .5 .1 .5 .1 .5-.1 .5 0 .5-.7 .5-2.7 .5-2.9 .5-2.2 .5 3.2 .5 3 .5 2.4 .5-.2 .5-.1 .5 .3 .5-.1 .5 0 .5-.2 .5 .1 .5 .2 .5 0 .5-.2 .5 .2 .5-.3 .5 .4 .5-.1 .5-.1 .5-.2 .5 .1 .5-.1 .5 0 .5 .1 .5 .3 .5-.4 .5 .3 .5 0 .5 .1 .5 0 .5-.4 .5 .2 .5 .1 .5 .1 .5-.4 .5 .1 .5-.1 .5 .4 .5-.1 .5-.1 .5 .1 .5 0 .5 0 .5-.2 .5 .2 .5 0 .5-.2 .5 .1 .5 .1 .5-.2 .5 .1 .5 0 .5 0 .5 .2 .5-.3 .5 .2 .5-.1 .5 .2 .5-.4 .5 .1 .5 .1 .5-.1 .5-.1 .5 .3 .5-.1 .5-.1 .5 .1 .5-.1 .5-.1 .5 .4 .5-.2 .5 0 .5-.2 .5 0 .5 .1 .5-.1 .5 .3 .5-.1 .5-.2 .5 0 .5 .3 .5-.4 .5 .1 .5 0 .5 .2 .5-.1 .5-.1 .5 0 .5 .1 .5-.1 .5-.1 .5 .1 .5 .1 .5-.2 .5 .4 .5-.1 .5-.1 .5 .2 .5-.3 .5 .3 .5-.2 .5 .2 .5-.1 .5-.1 .5 .2 .5-.1 .5-.2 .5-.1 .5 .4 .5-.1 .5-.1 .5 .2 .5-.3 .5 .3 .5-.2 .5 .1 .5 .2 .5 0 .5 0 .5-.2 .5 .1 .5-.4 .5 .2 .5 .2 .5-.2 .5 .2 .5-.1 .5-.1 .5-.1 .5 0 .5 .2 .5 0 .5 0 .5 0 .5-.2 .5 .2 .5-.1 .5 .2 .5-.3 .5-.1 .5 .4 .5-.2 .5 .2 .5 .1 .5-.2 .5 .1 .5-.2 .5 0 .5 0 .5-.2 .5 .5 .5-.1 .5 .1 .5-.2 .5-.2 .5 .1 .5 0 .5-.1 .5 .2 .5 .1 .5-.2 .5 .3 .5-.1 .5 .1 .5-.1 .5 0 .5-.2 .5 .2 .5-.2 .5-.1 .5 .2 .5 .1 .5-.2 .5 0 .5-.1 .5 .1 .5 0 .5-.1 .5 .1 .5-.2 .5 .3 .5-.2 .5 .1 .5 .1 .5 .2 .5-.2 .5 .1 .5-.2 .5 0 .5 0 .5 .2 .5 0 .5-.2 .5 0 .5-.2 .5 .1 .5 .2 .5 0 .5 0 .5-.2 .5 .2 .5-.2 .5 .2 .5 0 .5 0 .5 0 .5-.3 .5 .5 .5-.2 .5 .1 .5-.2 .5 .2 .5 0 .5-.1 .5-.1 .5-.1 .5 .2 .5 0 .5 0 .5-.2 .5 .3 .5 .1 .5-.4 .5 .2 .5 .1 .5 0 .5-.3 .5 0 .5 .3 .5-.2 .5 .2 .5-.1 .5 .5 .5 .2 .5-.3 .5 .2 .5 .1 .5-.3 .5 .3 .5 .1 .5-.3 .5 .1 .5-.2 .5 0 .5 .3 .5 0 .5-.2 .5 .1 .5 0 .5-.2 .5 .3 .5-.2 .5 .2 .5-.3 .5-.1 .5 .2 .5 .1 .5-.2 .5 0 .5 0 .5 .3 .5-.2 .5 .2 .5-.2 .5-.2 .5 .1 .5 .3 .5-.2 .5 .1 .5 .1 .5-.3 .5 0 .5 .2 .5 0 .5-.1 .5-.1 .5 .2 .5 .1 .5 0 .5 0 .5-.3 .5 .1 .5 0 .5 .1 .5 0 .5 .1 .5-.4 .5 .2 .5 .2 .5-.2 .5 0 .5 0 .5-.1 .5 .1 .5-.1 .5-.1 .5 .3 .5-.1 .5 .1 .5 0 .5 0 .5-.1 .5 .1 .5 0 .5-.2 .5 0 .5 .1 .5-.1 .5 .2 .5-.1 .5 .2 .5-.1 .5 .1 .5-.3 .5 0 .5 .2 .5 0 .5 .1 .5 0 .5-.2 .5-.1 .5 .3 .5 0 .5-.3 .5 .3 .5-.3 .5 .2 .5 0 .5 .1 .5-.1 .5 0 .5 0 .5-.2 .5 .4 .5-.3 .5-.1 .5 .2 .5 .1 .5 0 .5 0 .5-.3 .5 .1 .5 .3 .5-.2 .5-.1 .5 .1 .5 .2 .5-.2 .5 0 .5-.3 .5 .3 .5-.2 .5 0 .5 .1 .5 .2 .5-.3 .5 .3 .5-.2 .5 .2 .5 0 .5-.1 .5 .1 .5-.4 .5 .2 .5-.1 .5-.1 .5 .1 .5 .1 .5 .1 .5-.2 .5 .1 .5 .2 .5-.2 .5 .1 .5-.1 .5 0 .5 0 .5 0 .5-.1 .5 0 .5 .3 .5 0 .5 0 .5 0 .5-.4 .5 .3 .5 0 .5 0 .5-.1 .5 .1 .5-.2 .5 .2 .5-.2 .5 0 .5 .4 .5-.3 .5 .2 .5-.3 .5 .3 .5-.1 .5-.2 .5 .1 .5 0 .5 .1 .5-.1 .5 .2 .5-.1 .5 .1 .5-.2 .5 .2 .5 0 .5 0 .5-.2 .5 0 .5 .3 .5-.5 .5 .1 .5 .2 .5 .1 .5-.3 .5-.1 .5 .4 .5-.3 .5 0 .5 0 .5 .3 .5 0 .5 0 .5 0 .5-.3 .5 0 .5 .2 .5 .1 .5-.1 .5 .1 .5-.2 .5-.1 .5 0 .5 .2 .5 0 .5 0 .5 0 .5 0 .5-.1 .5 0 .5 .1 .5-.1 .5 .2 .5 0 .5-.1 .5 0 .5 .2 .5-.1 .5-.1 .5-.3 .5 .1 .5 .4 .5-.2 .5 0 .5 0 .5 .1 .5-.2 .5-.1 .5 .2 .5 .1 .5 0 .5 .1 .5-.4 .5 .3 .5-.3 .5 0 .5 .3 .5 0 .5-.1 .5-.2 .5 0 .5 .2 .5 0 .5 0 .5 0 .5-.2 .5 .3 .5-.3 .5 0 .5 .1 .5-.2 .5 .1 .5 .3 .5-.4 .5 .4 .5-.3 .5 .3 .5-.1 .5 0 .5-.2 .5 .1 .5 .2 .5-.3 .5 0 .5 .1 .5 .2 .5-.1 .5 0 .5 0 .5-.3 .5 .2 .5-.1 .5 .3 .5 0 .5-.3 .5 .2 .5 .1 .5 0 .5 0 .5-.1 .5-.1 .5 .1 .5-.1 .5 .1 .5 .2 .5-.3 .5 .1 .5-.1 .5 .1 .5 0 .5 .1 .5-.1 .5 0 .5 .1 .5 .1 .5-.2 .5 .2 .5-.4 .5 .2 .5 0 .5-.1 .5 .3 .5-.1 .5-.3 .5 .1 .5 0 .5 .1 .5-.2 .5 .1 .5-.1 .5 0 .5 0 .5 0 .5 .1 .5 .1 .5-.1 .5 0 .5 0 .5-.1 .5 0 .5 .3 .5-.3 .5 .1 .5 0 .5-.1 .5 .3 .5-.1 .5 0 .5-.3 .5 .4 .5-.2 .5 .2 .5-.3 .5 .2 .5-.2 .5 .2 .5-.2 .5 .4 .5-.1 .5-.3 .5 0 .5 0 .5 .2 .5 .1 .5-.2 .5-.1 .5 .3 .5-.3 .5 .1 .5 .3 .5-.2 .5 0 .5 .1 .5-.3 .5 0 .5 .3 .5-.1 .5 0 .5-.1 .5 .2 .5-.1 .5 0 .5 0 .5 0 .5-.1 .5-.1 .5 0 .5 0 .5 0 .5 .3 .5 0 .5-.1 .5-.1 .5 0 .5 .1 .5-.3 .5 .3 .5 .2 .5-.1 .5 0 .5-.3 .5 0 .5 .3 .5 0 .5 0 .5-.3 .5 0 .5 .3 .5 0 .5-.4 .5 0 .5 .1 .5 .2 .5-.2 .5 0 .5 .1 .5 .1 .5-.1 .5 0 .5 .1 .5-.1 .5 .2 .5-.4 .5 .4 .5 0 .5-.4 .5 0 .5 .1 .5 0 .5 0 .5 0 .5 .1 .5 .2 .5-.3 .5 0 .5 0 .5 .3 .5 0 .5-.3 .5 .2 .5-.2 .5-.1 .5 .3 .5-.1 .5 0 .5 0 .5 .1 .5-.1 .5 .2 .5-.3 .5 0 .5 0 .5 .2 .5 .1 .5-.1 .5-.1 .5 0 .5 .2 .5 .1 .5-.2 .5 .1 .5 0 .5 0 .5-.1 .5-.1 .5-.1 .5 .1 .5 .3 .5-.4 .5 .1 .5-.1 .5 .1 .5 .1 .5 0 .5 .1 .5-.2 .5 .2 .5-.2 .5-.1 .5 .1 .5 0 .5-.1 .5-.1 .5 .1 .5-.1 .5 .3 .5 .2 .5-.3 .5 0 .5-.1 .5 .1 .5 .1 .5 .2 .5-.4 .5 .1 .5-.2 .5 .2 .5-.1 .5 0 .5-.1 .5 .3 .5-.2 .5 .2 .5 .2 .5-.2 .5 0 .5-.3 .5 .3 .5 0 .5-.1 .5 .2 .5-.1 .5 0 .5 .1 .5-.2 .5 .1 .5-.2 .5 .2 .5-.3 .5 .4 .5-.2 .5 .2 .5 .1 .5-.2 .5-.2 .5 .2" fill="none" stroke="#d9ae33" stroke-width="1.2" stroke-linejoin="round"/><line x1="0" y1="148.5" x2="827.8" y2="148.5" stroke="rgba(204,204,220,0.12)" stroke-width="1"/><line x1="0" y1="118.9" x2="827.8" y2="118.9" stroke="rgba(204,204,220,0.12)" stroke-width="1"/><line x1="0" y1="89.3" x2="827.8" y2="89.3" stroke="rgba(204,204,220,0.12)" stroke-width="1"/><line x1="0" y1="59.7" x2="827.8" y2="59.7" stroke="rgba(204,204,220,0.12)" stroke-width="1"/><line x1="0" y1="30.1" x2="827.8" y2="30.1" stroke="rgba(204,204,220,0.12)" stroke-width="1"/><line x1="0" y1="-0.5" x2="827.8" y2="-0.5" stroke="rgba(204,204,220,0.12)" stroke-width="1"/><line x1="67.0" y1="0" x2="67.0" y2="148.0" stroke="rgba(204,204,220,0.12)" stroke-width="1"/><line x1="136.0" y1="0" x2="136.0" y2="148.0" stroke="rgba(204,204,220,0.12)" stroke-width="1"/><line x1="205.1" y1="0" x2="205.1" y2="148.0" stroke="rgba(204,204,220,0.12)" stroke-width="1"/><line x1="274.1" y1="0" x2="274.1" y2="148.0" stroke="rgba(204,204,220,0.12)" stroke-width="1"/><line x1="343.1" y1="0" x2="343.1" y2="148.0" stroke="rgba(204,204,220,0.12)" stroke-width="1"/><line x1="412.1" y1="0" x2="412.1" y2="148.0" stroke="rgba(204,204,220,0.12)" stroke-width="1"/><line x1="481.2" y1="0" x2="481.2" y2="148.0" stroke="rgba(204,204,220,0.12)" stroke-width="1"/><line x1="550.2" y1="0" x2="550.2" y2="148.0" stroke="rgba(204,204,220,0.12)" stroke-width="1"/><line x1="619.2" y1="0" x2="619.2" y2="148.0" stroke="rgba(204,204,220,0.12)" stroke-width="1"/><line x1="688.3" y1="0" x2="688.3" y2="148.0" stroke="rgba(204,204,220,0.12)" stroke-width="1"/><line x1="757.3" y1="0" x2="757.3" y2="148.0" stroke="rgba(204,204,220,0.12)" stroke-width="1"/><line x1="826.3" y1="0" x2="826.3" y2="148.0" stroke="rgba(204,204,220,0.12)" stroke-width="1"/></svg>
<span class="t" style="left:34.56px;top:477.10px;font-size:12.00px;line-height:12.00px;color:rgba(204,204,220,0.85)">0%</span>
<span class="t" style="left:27.89px;top:447.50px;font-size:12.00px;line-height:12.00px;color:rgba(204,204,220,0.85)">20%</span>
<span class="t" style="left:27.89px;top:417.90px;font-size:12.00px;line-height:12.00px;color:rgba(204,204,220,0.85)">40%</span>
<span class="t" style="left:27.89px;top:388.30px;font-size:12.00px;line-height:12.00px;color:rgba(204,204,220,0.85)">60%</span>
<span class="t" style="left:27.89px;top:358.70px;font-size:12.00px;line-height:12.00px;color:rgba(204,204,220,0.85)">80%</span>
<span class="t" style="left:21.20px;top:329.10px;font-size:12.00px;line-height:12.00px;color:rgba(204,204,220,0.85)">100%</span>
<span class="t" style="left:107.80px;top:490.40px;font-size:12.00px;line-height:12.00px;color:rgba(204,204,220,0.85);letter-spacing:0.894px">04:00</span>
<span class="t" style="left:176.83px;top:490.40px;font-size:12.00px;line-height:12.00px;color:rgba(204,204,220,0.85);letter-spacing:0.894px">06:00</span>
<span class="t" style="left:245.86px;top:490.40px;font-size:12.00px;line-height:12.00px;color:rgba(204,204,220,0.85);letter-spacing:0.894px">08:00</span>
<span class="t" style="left:314.89px;top:490.40px;font-size:12.00px;line-height:12.00px;color:rgba(204,204,220,0.85);letter-spacing:0.894px">10:00</span>
<span class="t" style="left:383.92px;top:490.40px;font-size:12.00px;line-height:12.00px;color:rgba(204,204,220,0.85);letter-spacing:0.894px">12:00</span>
<span class="t" style="left:452.95px;top:490.40px;font-size:12.00px;line-height:12.00px;color:rgba(204,204,220,0.85);letter-spacing:0.894px">14:00</span>
<span class="t" style="left:521.98px;top:490.40px;font-size:12.00px;line-height:12.00px;color:rgba(204,204,220,0.85);letter-spacing:0.894px">16:00</span>
<span class="t" style="left:591.01px;top:490.40px;font-size:12.00px;line-height:12.00px;color:rgba(204,204,220,0.85);letter-spacing:0.894px">18:00</span>
<span class="t" style="left:660.04px;top:490.40px;font-size:12.00px;line-height:12.00px;color:rgba(204,204,220,0.85);letter-spacing:0.894px">20:00</span>
<span class="t" style="left:729.07px;top:490.40px;font-size:12.00px;line-height:12.00px;color:rgba(204,204,220,0.85);letter-spacing:0.894px">22:00</span>
<span class="t" style="left:798.10px;top:490.40px;font-size:12.00px;line-height:12.00px;color:rgba(204,204,220,0.85);letter-spacing:0.894px">00:00</span>
<span class="t" style="left:867.13px;top:490.40px;font-size:12.00px;line-height:12.00px;color:rgba(204,204,220,0.85);letter-spacing:0.894px">02:00</span>
<div class="b" style="left:894.50px;top:488.00px;width:7.00px;height:16.00px;background:#181b1f"></div>
<div class="b" style="left:21.10px;top:520.80px;width:13.50px;height:3.50px;background:#eab839;border-radius:1.5px"></div>
<span class="t" style="left:43.30px;top:515.67px;font-size:12.50px;line-height:12.50px;color:#ccccdc;letter-spacing:0.136px">Busy System</span>
<div class="b" style="left:128.50px;top:520.80px;width:13.50px;height:3.50px;background:#1a56a6;border-radius:1.5px"></div>
<span class="t" style="left:150.00px;top:515.67px;font-size:12.50px;line-height:12.50px;color:#ccccdc;letter-spacing:0.131px">Busy User</span>
<div class="b" style="left:219.20px;top:520.80px;width:13.50px;height:3.50px;background:#a81c0a;border-radius:1.5px"></div>
<span class="t" style="left:241.40px;top:515.67px;font-size:12.50px;line-height:12.50px;color:#ccccdc;letter-spacing:0.219px">Busy Iowait</span>
<div class="b" style="left:317.80px;top:520.80px;width:13.50px;height:3.50px;background:#ff780a;border-radius:1.5px"></div>
<span class="t" style="left:339.90px;top:515.67px;font-size:12.50px;line-height:12.50px;color:#ccccdc;letter-spacing:-0.180px">Busy IRQs</span>
<div class="b" style="left:409.00px;top:520.80px;width:13.50px;height:3.50px;background:#a3338f;border-radius:1.5px"></div>
<span class="t" style="left:431.30px;top:515.67px;font-size:12.50px;line-height:12.50px;color:#ccccdc;letter-spacing:0.153px">Busy Other</span>
<div class="b" style="left:506.00px;top:520.80px;width:13.50px;height:3.50px;background:#0a437c;border-radius:1.5px"></div>
<span class="t" style="left:527.40px;top:515.67px;font-size:12.50px;line-height:12.50px;color:#ccccdc;letter-spacing:0.150px">Idle</span>
<div class="b" style="left:911.00px;top:286.00px;width:893.00px;height:256.00px;background:#181b1f;border:1px solid rgba(204,204,220,0.12);border-radius:2px"></div>
<span class="t" style="left:920.00px;top:297.30px;font-size:14.00px;line-height:14.00px;color:#ccccdc;letter-spacing:0.774px;-webkit-text-stroke:0.35px #ccccdc">Memory Basic</span>
<svg class="s" style="left:1032.80px;top:295.00px;" width="16.00" height="16.00" viewBox="0 0 16.00 16.00"><circle cx="8" cy="8" r="6.20" fill="none" stroke="#a0a1aa" stroke-width="1.4"/><rect x="7.25" y="7.2" width="1.5" height="4" fill="#a0a1aa"/><circle cx="8" cy="5.3" r="0.85" fill="#a0a1aa"/></svg>
<svg class="s" style="left:967.80px;top:335.00px;" width="820.90" height="147.30" viewBox="0 0 820.90 147.30"><path d="M0 24.5l1-.2 1 .1 1 .2 1-.1 1-.3 1 .2 1-.1 1 .2 1-.3 1 .1 1-.1 1 .2 1 .3 1-.2 1-.1 1 .3 1-.5 1 .2 1 .2 1-.4 1 .4 1-.2 1-.2 1 .1 1 .1 1 0 1 .1 1-.3 1 .1 1 .4 1-.3 1 0 1-.2 1 .1 1 .4 1-.2 1 0 1-.3 1 .2 1 .2 1-.2 1 .1 1 .2 1-.2 1 0 1-.3 1 0 1 .4 1-.2 1 .2 1 0 1 .1 1-.3 1 .3 1-.1 1 0 1-.3 1 .3 1-.2 1 .3 1 0 1-.4 1 .1 1-.1 1 .1 1-.1 1 .2 1-.2 1 0 1 .1 1-.2 1 .2 1 .2 1 0 1-.3 1-.1 1 .4 1 .1 1-.2 1-.2 1 0 1 .4 1 0 1-.5 1 .1 1 .1 1-.1 1 .3 1-.2 1 .2 1-.3 1 .2 1 .2 1-.1 1-.4 1 .1 1 .2 1-.1 1 0 1 0 1 .1 1 .2 1-.4 1 .2 1-.2 1 .2 1 .1 1-.3 1 .1 1 .2 1-.4 1 .4 1-.2 1 .1 1 0 1 .1 1-.4 1 .3 1-.3 1 .2 1 0 1-.2 1 .1 1 .1 1 .1 1 .2 1-.3 1 .1 1 .1 1 .1 1 0 1 0 1-.3 1-.1 1 .4 1-.5 1 .2 1 .2 1-.1 1-.1 1 .3 1-.4 1 .2 1 .1 1-.3 1 .1 1 0 1 .1 1-.2 1 .1 1-.2 1 0 1 .2 1-.1 1 .4 1-.4 1 0 1 .3 1 0 1-.3 1 .3 1-.1 1-.1 1 .1 1-.2 1 0 1 .3 1-.2 1 .2 1-.3 1 0 1-.1 1 .4 1-.1 1-.3 1 0 1 .4 1-.2 1 .2 1-.4 1 .3 1-.2 1 .3 1-.1 1 0 1-.2 1 .4 1-.4 1-.1 1 .3 1-.3 1 0 1 .2 1 .1 1 .1 1 0 1-.4 1 .3 1 .1 1-.3 1 .3 1-.3 1 0 1-.1 1 .4 1-.1 1 .2 1-.3 1-.1 1 0 1 0 1 .4 1-.4 1-.1 1 .2 1-.2 1 .2 1 .1 1 0 1-.2 1 0 1 .1 1 .1 1-.1 1 .1 1 .2 1-.4 1 0 1 .1 1 .1 1 .2 1-.2 1 0 1-.1 1 .2 1 0 1-.3 1 0 1 0 1 .1 1 .2 1-.3 1 .2 1 0 1 .2 1-.4 1 .3 1-.2 1-.1 1 .2 1 .1 1-.1 1-.3 1 .5 1-.3 1 .1 1 .1 1-.3 1 .1 1 0 1-.2 1 0 1 .4 1-.2 1 .2 1-.4 1 .2 1-.1 1 .4 1-.1 1 0 1-.1 1-.2 1 .1 1-.1 1-.1 1 .3 1-.2 1 0 1 .2 1 .2 1 0 1-.3 1-.1 1 .3 1-.3 1 .2 1-.3 1 .5 1-.2 1-.1 1-.1 1 .2 1 .2 1-.3 1-.1 1 .2 1 .2 1-.3 1 .1 1 .2 1-.3 1 .2 1-.1 1-.2 1-.1 1 .5 1-.3 1 0 1 .3 1-.2 1 0 1-.2 1 .3 1-.3 1 .1 1 .2 1-.1 1-.2 1 0 1 .2 1 .1 1-.3 1 .4 1-.4 1 0 1-.1 1 .2 1 .1 1 .1 1-.3 1 .2 1-.2 1 .2 1-.2 1 .1 1-.2 1 .4 1-.3 1 .3 1-.2 1 .1 1 0 1-.1 1 .2 1 .1 1-.4 1 .1 1 .2 1-.3 1 .1 1 0 1 .3 1-.4 1 .2 1 .1 1 0 1-.4 1 .5 1-.3 1 .2 1-.1 1-.1 1 .2 1-.1 1-.1 1 .2 1-.1 1 .1 1-.1 1 .1 1-.3 1 .1 1-.2 1 .4 1 0 1 0 1-.4 1 .3 1-.1 1-.1 1 0 1 .4 1-.1 1-.3 1 .3 1-.1 1-.1 1 .1 1-.2 1 0 1-.1 1 .3 1 0 1 .1 1-.1 1-.1 1 0 1 .2 1-.2 1 .1 1 .1 1-.2 1 .1 1 3.3 1 12.6 1 5.1 1-12.6 1-8.7 1 0 1 .4 1-.3 1 .1 1 0 1 .2 1-.2 1 .1 1-.3 1 .4 1 0 1-.1 1 .1 1-.1 1 .1 1 0 1-.1 1-.3 1 .4 1 .1 1-.4 1-.1 1 .2 1-.1 1 .1 1-.2 1 .1 1-.1 1 .2 1 0 1 .2 1-.2 1-.1 1 .4 1-.1 1-.1 1 16.7 1 21.5 1-12.9 1-21.5 1-4.1 1 2.6 1 3.5 1-2.1 1-3.5 1 3.7 1 5.5 1-3.3 1-5.5 1-.5 1-.2 1 .1 1 6.3 1 8.5 1-5.1 1-8.5 1-1.4 1 .1 1-.1 1 3.3 1 4.5 1-2.7 1-4.5 1-.3 1-.2 1-.2 1 .3 1-.1 1 5.2 1 7 1-4.2 1-7 1-1 1-.1 1-.1 1 .3 1 3.9 1 5.5 1-3.3 1-5.5 1-.9 1 .1 1-.1 1 7 1 9 1-5.4 1-9 1-1.2 1-.2 1 .3 1-.2 1 3.5 1 5 1-3 1-5 1-.4 1-.3 1 0 1 .3 1 4.2 1 6 1-3.6 1-6 1-.7 1-.3 1 .4 1-.2 1 0 1 .2 1 2.6 1 4 1-2.4 1-4 1-.3 1-.3 1 .3 1 .2 1 2.9 1 4.5 1-2.7 1-4.5 1-.5 1-.1 1 5.7 1 7.5 1-4.5 1-7.5 1-1.2 1 0 1-.1 1 2.2 1 3 1-1.8 1-3 1 1.1 1-1.3 1 .1 1-.3 1 .2 1 1.2 1 2 1-1.2 1-1.8 1-.2 1 .2 1-.2 1 .1 1 .9 1-1 1 0 1 .1 1-.2 1 1.3 1-1.3 1 1.4 1-1.5 1 .1 1-.1 1 .1 1 .2 1 .1 1-.1 1-.2 1 .1 1-.1 1 .1 1 .3 1-.3 1 1.3 1-1.1 1-.2 1-.1 1 .4 1-.4 1 .1 1 0 1-.2 1 .3 1-.1 1 .1 1 .1 1-.2 1-.1 1-.1 1 .1 1-.1 1 .5 1-.4 1 .9 1-.9 1 .1 1 .8 1-.5 1 0 1-.1 1-.3 1-.1 1 .4 1-.4 1 .4 1 0 1 .1 1-.3 1 .9 1-1 1 1 1-1 1 .4 1-.1 1-.1 1-.1 1 .1 1 .1 1 .7 1-.8 1-.3 1 .1 1 .2 1-.2 1 0 1 0 1 .3 1-.2 1 .1 1-.3 1 .2 1-.2 1 .2 1 .1 1-.1 1 .1 1-.1 1 0 1 1.1 1-1.1 1 .9 1 .4 1-1.3 1-.2 1 .1 1 1.4 1-1.3 1 1.1 1-1.2 1 .3 1-.3 1 1.1 1-.9 1-.1 1 .2 1 .9 1-1 1-.1 1 0 1 .1 1 .2 1-.1 1-.3 1 1.2 1-.9 1-.2 1 .2 1-.2 1 0 1 .3 1-.1 1-.4 1 .3 1 .1 1-.3 1 .2 1 .2 1 .9 1-1.2 1 .3 1-.3 1 .1 1 0 1 .1 1-.2 1 .1 1-.3 1 .2 1-.2 1 .5 1-.4 1 0 1 .2 1-.1 1-.1 1 .9 1-.9 1 .3 1-.2 1-.1 1 1.1 1-.9 1-.2 1 0 1 .3 1 0 1 1.1 1-1.1 1-.4 1 .5 1-.1 1-.4 1 .2 1 1.3 1-1 1 .7 1-1 1 0 1 .3 1-.3 1-.1 1 0 1 .4 1-.2 1 0 1 .9 1-.2 1 .2 1-.9 1-.2 1 .1 1 .2 1 .6 1-.6 1-.3 1-.1 1 .5 1-.5 1 .4 1-.3 1-.1 1 .1 1 .3 1-.2 1-.1 1 .3 1 0 1 .1 1 0 1 0 1-.5 1 .3 1 1 1-1.1 1-.1 1 .2 1-.2 1 .4 1-.1 1-.4 1 0 1 .4 1-.1 1 .1 1-.3 1 1 1-.6 1-.3 1-.1 1 .1 1 .2 1-.4 1 .1 1 .1 1 0 1 .1 1 0 1 .2 1-.1 1-.1 1 .1 1-.3 1 1 1-.8 1 .8 1-1.1 1 .2 1 .1 1 .1 1 .1 1-.2 1-.2 1 .2 1-.2 1 0 1 .3 1-.3 1 .4 1-.3 1 .1 1 .7 1-.7 1 .2 1-.1 1-.2 1 0 1 .2 1-.3 1 .2 1 0 1 1 1-1.2 1 1.1 1-.8 1 0 1-.3V147.3 H0 Z" fill="#10213a"/><path d="M0 22.4l1 0 1 0 1 0 1 0 1 0 1 0 1 0 1 0 1 0 1 0 1 0 1 0 1 0 1 0 1 0 1 0 1 0 1 0 1 0 1 0 1 0 1 0 1 0 1 0 1 0 1 0 1 0 1 0 1 0 1 0 1 0 1 0 1 0 1 0 1 0 1 0 1 0 1 0 1 0 1 0 1 0 1 0 1 0 1 0 1 0 1 0 1 0 1 0 1 0 1 0 1 0 1 0 1 0 1 0 1 0 1 0 1 0 1 0 1 0 1 0 1 0 1 0 1 0 1 0 1 0 1 0 1 0 1 0 1 0 1 0 1 0 1 0 1 0 1 0 1 0 1 0 1 0 1 0 1 0 1 0 1 0 1 0 1 0 1 0 1 0 1 0 1 0 1 0 1 0 1 0 1 0 1 0 1 0 1 0 1 0 1 0 1 0 1 0 1 0 1 0 1 0 1 0 1 0 1 0 1 0 1 0 1 0 1 0 1 0 1 0 1 0 1 0 1 0 1 0 1 0 1 0 1 0 1 0 1 0 1 0 1 0 1 0 1 0 1 0 1 0 1 0 1 0 1 0 1 0 1 0 1 0 1 0 1 0 1 0 1 0 1 0 1 0 1 0 1 0 1 0 1 0 1 0 1 0 1 0 1 0 1 0 1 0 1 0 1 0 1 0 1 0 1 0 1 0 1 0 1 0 1 0 1 0 1 0 1 0 1 0 1 0 1 0 1 0 1 0 1 0 1 0 1 0 1 0 1 0 1 0 1 0 1 0 1 0 1 0 1 0 1 0 1 0 1 0 1 0 1 0 1 0 1 0 1 0 1 0 1 0 1 0 1 0 1 0 1 0 1 0 1 0 1 0 1 0 1 0 1 0 1 0 1 0 1 0 1 0 1 0 1 0 1 0 1 0 1 0 1 0 1 0 1 0 1 0 1 0 1 0 1 0 1 0 1 0 1 0 1 0 1 0 1 0 1 0 1 0 1 0 1 0 1 0 1 0 1 0 1 0 1 0 1 0 1 0 1 0 1 0 1 0 1 0 1 0 1 0 1 0 1 0 1 0 1 0 1 0 1 0 1 0 1 0 1 0 1 0 1 0 1 0 1 0 1 0 1 0 1 0 1 0 1 0 1 0 1 0 1 0 1 0 1 0 1 0 1 0 1 0 1 0 1 0 1 0 1 0 1 0 1 0 1 0 1 0 1 0 1 0 1 0 1 0 1 0 1 0 1 0 1 0 1 0 1 0 1 0 1 0 1 0 1 0 1 0 1 0 1 0 1 0 1 0 1 0 1 0 1 0 1 0 1 0 1 0 1 0 1 0 1 0 1 0 1 0 1 0 1 0 1 0 1 0 1 0 1 0 1 0 1 0 1 0 1 0 1 0 1 0 1 0 1 0 1 0 1 0 1 0 1 0 1 0 1 0 1 0 1 0 1 0 1 0 1 0 1 0 1 0 1 0 1 0 1 0 1 0 1 0 1 0 1 0 1 0 1 0 1 0 1 0 1 0 1 0 1 0 1 0 1 0 1 0 1 0 1 0 1 0 1 0 1 0 1 0 1 0 1 0 1 0 1 0 1 0 1 0 1 0 1 0 1 0 1 0 1 0 1 0 1 0 1 0 1 0 1 0 1 0 1 0 1 0 1 0 1 0 1 0 1 0 1 0 1 0 1 0 1 0 1 0 1 0 1 0 1 0 1 0 1 0 1 0 1 0 1 0 1 0 1 0 1 0 1 0 1 0 1 0 1 0 1 0 1 0 1 0 1 0 1 0 1 0 1 0 1 0 1 0 1 0 1 0 1 0 1 0 1 0 1 0 1 0 1 0 1 0 1 0 1 0 1 0 1 0 1 0 1 0 1 0 1 0 1 0 1 0 1 0 1 0 1 0 1 0 1 0 1 0 1 0 1 0 1 0 1 0 1 0 1 0 1 0 1 0 1 0 1 0 1 0 1 0 1 0 1 0 1 0 1 0 1 0 1 0 1 0 1 0 1 0 1 0 1 0 1 0 1 0 1 0 1 0 1 0 1 0 1 0 1 0 1 0 1 0 1 0 1 0 1 0 1 0 1 0 1 0 1 0 1 0 1 0 1 0 1 0 1 0 1 0 1 0 1 0 1 0 1 0 1 0 1 0 1 0 1 0 1 0 1 0 1 0 1 0 1 0 1 0 1 0 1 0 1 0 1 0 1 0 1 0 1 0 1 0 1 0 1 0 1 0 1 0 1 0 1 0 1 0 1 0 1 0 1 0 1 0 1 0 1 0 1 0 1 0 1 0 1 0 1 0 1 0 1 0 1 0 1 0 1 0 1 0 1 0 1 0 1 0 1 0 1 0 1 0 1 0 1 0 1 0 1 0 1 0 1 0 1 0 1 0 1 0 1 0 1 0 1 0 1 0 1 0 1 0 1 0 1 0 1 0 1 0 1 0 1 0 1 0 1 0 1 0 1 0 1 0 1 0 1 0 1 0 1 0 1 0 1 0 1 0 1 0 1 0 1 0 1 0 1 0 1 0 1 0 1 0 1 0 1 0 1 0 1 0 1 0 1 0 1 0 1 0 1 0 1 0 1 0 1 0 1 0 1 0 1 0 1 0 1 0 1 0 1 0 1 0 1 0 1 0 1 0 1 0 1 0 1 0 1 0 1 0 1 0 1 0 1 0 1 0 1 0 1 0 1 0 1 0 1 0 1 0 1 0 1 0 1 0 1 0 1 0 1 0 1 0 1 0 1 0 1 0 1 0 1 0 1 0 1 0 1 0 1 0 1 0 1 0 1 0 1 0 1 0 1 0 1 0 1 0 1 0 1 0 1 0 1 0 1 0 1 0 1 0 1 0 1 0 1 0 1 0 1 0 1 0 1 0 1 0 1 0 1 0 1 0 1 0 1 0 1 0 1 0 1 0 1 0 1 0 1 0 1 0 1 0 1 0 1 0 1 0 1 0 1 0 1 0 1 0 1 0 1 0 1 0 1 0 1 0 1 0 1 0 1 0 1 0 1 0 1 0 1 0 1 0 1 0 1 0 1 0 1 0 1 0 1 0 1 0 1 0 1 0 1 0 1 0 1 0 1 0 1 0 1 0 1 0 1 0 1 0 1 0 1 0 1 0 1 0 1 0 1 0 1 0 1 0 1 0 1 0 1 0 1 0 1 0 1 0 1 0 1 0 1 0 1 0 1 0 1 0 1 0 1 0 1 0 1 0 1 0 1 0 1 0 1 0 1 0 1 0 1 0 1 0 1 0 1 0 1 0 1 0 1 0 1 0 1 0 1 0 1 0 1 0 1 0 1 0 1 0 1 0 1 0 1 0 1 0 1 0 1 0 1 0 1 0 1 0 1 0 1 0 1 0 1 0 1 0 1 0 1 0 1 0 1 0 1 0 1 0 1 0 1 0 1 0 1 0 1 0 1 0 1 0 1 0 1 0 1 0 1 0 1 0 1 0 1 0 1 0 1 0 1 0 1 0 1 0 1 0 1 0 1 0 1 0 1 0 1 0 1 0 1 0 1 0 1 0 1 0 1 0 1 0 1 0 1 0 1 0 1 0 1 0 1 0 1 0 1 0 1 0 1 0 1 0 1 0 1 0 1 0 1 0 1 0 1 0 1 0 1 0 1 0 1 0 1 0 1 0 1 0 1 0 1 0 1 0 1 0 1 0 1 0 1 0 0 1.9-1 .3-1 0-1 .8-1-1.1-1 1.2-1-1-1 0-1-.2-1 .3-1-.2-1 0-1 .2-1 .1-1-.2-1 .7-1-.7-1-.1-1 .3-1-.4-1 .3-1-.3-1 0-1 .2-1-.2-1 .2-1 .2-1-.1-1-.1-1-.1-1-.2-1 1.1-1-.8-1 .8-1-1-1 .3-1-.1-1 .1-1 .1-1-.2-1 0-1-.1-1 0-1-.1-1-.1-1 .4-1-.2-1-.1-1 .1-1 .3-1 .6-1-1-1 .3-1-.1-1 .1-1-.4-1 0-1 .4-1 .1-1-.4-1 .2-1-.2-1 .1-1 1.1-1-1-1-.3-1 .5-1 0-1 0-1-.1-1 0-1-.3-1 .1-1 .2-1-.3-1-.1-1 .1-1 .3-1-.4-1 .5-1-.5-1 .1-1 .3-1 .6-1-.6-1-.2-1-.1-1 .2-1 .9-1-.2-1 .2-1-.9-1 0-1 .2-1-.4-1 0-1 .1-1 .3-1-.3-1 0-1 1-1-.7-1 1-1-1.3-1-.2-1 .4-1 .1-1-.5-1 .4-1 1.1-1-1.1-1 0-1-.3-1 0-1 .2-1 .9-1-1.1-1 .1-1 .2-1-.3-1 .9-1-.9-1 .1-1 .1-1-.2-1 0-1 .4-1-.5-1 .2-1-.2-1 .3-1-.1-1 .2-1-.1-1 0-1-.1-1 .3-1-.3-1 1.2-1-.9-1-.2-1-.2-1 .3-1-.1-1-.3-1 .4-1 .1-1-.3-1 0-1 .2-1-.2-1 .2-1 .9-1-1.2-1 .3-1 .1-1-.2-1-.1-1 0-1 .1-1 1-1-.9-1-.2-1 .1-1 .9-1-1.1-1 .3-1-.3-1 1.2-1-1.1-1 1.3-1-1.4-1-.1-1 .2-1 1.3-1-.4-1-.9-1 1.1-1-1.1-1 0-1 .1-1-.1-1 .1-1-.1-1-.2-1 .2-1-.2-1 .3-1-.1-1 .2-1-.3-1 0-1 0-1 .2-1-.2-1-.1-1 .3-1 .8-1-.7-1-.1-1-.1-1 .1-1 .1-1 .1-1-.4-1 1-1-1-1 1-1-.9-1 .3-1-.1-1 0-1-.4-1 .4-1-.4-1 .1-1 .3-1 .1-1 0-1 .5-1-.8-1-.1-1 .9-1-.9-1 .4-1-.5-1 .1-1-.1-1 .1-1 .1-1 .2-1-.1-1-.1-1 .1-1-.3-1 .2-1 0-1-.1-1 .4-1-.4-1 .1-1 .2-1 1.1-1-1.3-1 .3-1-.3-1-.1-1 .1-1-.1-1 .2-1 .1-1-.1-1-.2-1-.1-1 .1-1-.1-1 1.5-1-1.4-1 1.3-1-1.3-1 .2-1-.1-1 0-1 1-1-.9-1-.1-1 .2-1-.2-1 .2-1 1.8-1 1.2-1-2-1-1.2-1-.2-1 .3-1-.1-1 1.3-1-1.1-1 3-1 1.8-1-3-1-2.2-1 .1-1 0-1 1.2-1 7.5-1 4.5-1-7.5-1-5.7-1 .1-1 .5-1 4.5-1 2.7-1-4.5-1-2.9-1-.2-1-.3-1 .3-1 .3-1 4-1 2.4-1-4-1-2.6-1-.2-1 0-1 .2-1-.4-1 .3-1 .7-1 6-1 3.6-1-6-1-4.2-1-.3-1 0-1 .3-1 .4-1 5-1 3-1-5-1-3.5-1 .2-1-.3-1 .2-1 1.2-1 9-1 5.4-1-9-1-7-1 .1-1-.1-1 .9-1 5.5-1 3.3-1-5.5-1-3.9-1-.3-1 .1-1 .1-1 1-1 7-1 4.2-1-7-1-5.2-1 .1-1-.3-1 .2-1 .2-1 .3-1 4.5-1 2.7-1-4.5-1-3.3-1 .1-1-.1-1 1.4-1 8.5-1 5.1-1-8.5-1-6.3-1-.1-1 .2-1 .5-1 5.5-1 3.3-1-5.5-1-3.7-1 3.5-1 2.1-1-3.5-1-2.6-1 4.1-1 21.5-1 12.9-1-21.5-1-16.7-1 .1-1 .1-1-.4-1 .1-1 .2-1-.2-1 0-1-.2-1 .1-1-.1-1 .2-1-.1-1 .1-1-.2-1 .1-1 .4-1-.1-1-.4-1 .3-1 .1-1 0-1-.1-1 .1-1-.1-1 .1-1 0-1-.4-1 .3-1-.1-1 .2-1-.2-1 0-1-.1-1 .3-1-.4-1 0-1 8.7-1 12.6-1-5.1-1-12.6-1-3.3-1-.1-1 .2-1-.1-1-.1-1 .2-1-.2-1 0-1 .1-1 .1-1-.1-1 0-1-.3-1 .1-1 0-1 .2-1-.1-1 .1-1 .1-1-.3-1 .3-1 .1-1-.4-1 0-1 .1-1 .1-1-.3-1 .4-1 0-1 0-1-.4-1 .2-1-.1-1 .3-1-.1-1 .1-1-.1-1 .1-1-.2-1 .1-1 .1-1-.2-1 .1-1 .1-1-.2-1 .3-1-.5-1 .4-1 0-1-.1-1-.2-1 .4-1-.3-1 0-1-.1-1 .3-1-.2-1-.1-1 .4-1-.1-1-.2-1 .1-1 0-1-.1-1 .2-1-.3-1 .3-1-.4-1 .2-1-.1-1 .2-1-.2-1 .2-1-.2-1 .3-1-.1-1-.1-1-.2-1 .1-1 0-1 .4-1-.4-1 .3-1-.1-1-.2-1 0-1 .2-1 .1-1-.2-1-.1-1 .3-1-.3-1 .2-1 0-1 .2-1-.3-1 0-1 .3-1-.5-1 .1-1 .2-1 .1-1-.2-1 .3-1-.2-1-.1-1 .3-1-.2-1-.2-1 .1-1 .3-1-.2-1-.2-1 .1-1 .1-1 .2-1-.5-1 .3-1-.2-1 .3-1-.3-1 .1-1 .3-1 0-1-.2-1-.2-1 0-1 .2-1-.3-1 .1-1 .1-1-.1-1 .2-1 .1-1 0-1 .1-1-.4-1 .1-1-.2-1 .4-1-.2-1 .2-1-.4-1 0-1 .2-1 0-1-.1-1 .3-1-.1-1-.1-1 .3-1-.5-1 .3-1 .1-1-.1-1-.2-1 .1-1 .2-1-.3-1 .4-1-.2-1 0-1-.2-1 .3-1-.2-1-.1-1 0-1 0-1 .3-1 0-1-.2-1 .1-1 0-1 .2-1-.2-1-.1-1-.1-1 0-1 .4-1-.2-1-.1-1 .1-1-.1-1-.1-1 0-1 .2-1 0-1-.1-1-.2-1 .2-1-.2-1 .1-1 .4-1-.4-1 0-1 0-1 .1-1 .3-1-.2-1 .1-1-.4-1 .1-1 0-1 .3-1-.3-1 .3-1-.1-1-.3-1 .4-1 0-1-.1-1-.1-1-.2-1 0-1 .3-1-.3-1 .1-1 .4-1-.4-1 .2-1 0-1 .1-1-.3-1 .2-1-.3-1 .4-1-.2-1 .2-1-.4-1 0-1 .3-1 .1-1-.4-1 .1-1 0-1 .3-1-.2-1 .2-1-.3-1 0-1 .2-1-.1-1 .1-1 .1-1-.3-1 .3-1 0-1-.3-1 0-1 .4-1-.4-1 .1-1-.2-1 0-1 .2-1-.1-1 .2-1-.1-1 0-1-.1-1 .3-1-.1-1-.2-1 .4-1-.3-1 .1-1 .1-1-.2-1-.2-1 .5-1-.4-1 .1-1 .3-1 0-1 0-1-.1-1-.1-1-.1-1 .3-1-.2-1-.1-1-.1-1-.1-1 .2-1 0-1-.2-1 .3-1-.3-1 .4-1-.1-1 0-1-.1-1 .2-1-.4-1 .4-1-.2-1-.1-1 .3-1-.1-1-.2-1 .2-1-.2-1 .4-1-.2-1-.1-1 0-1 0-1 .1-1-.2-1-.1-1 .4-1 .1-1-.2-1-.2-1 .3-1-.2-1 .2-1-.3-1 .1-1-.1-1-.1-1 .5-1 0-1-.4-1 0-1 .2-1 .2-1-.1-1-.4-1 .1-1 .3-1 0-1-.2-1-.2-1 .2-1-.1-1 0-1 .2-1-.2-1 .1-1-.1-1 .1-1-.1-1 .4-1 0-1-.3-1 .2-1-.3-1 .3-1 0-1 .1-1-.3-1 .3-1-.1-1 0-1-.2-1 .2-1-.4-1 0-1 .3-1 0-1 .2-1-.2-1-.1-1 .2-1-.2-1-.2-1 .3-1 0-1 .2-1-.4-1-.1-1 .2-1 0-1 .3-1-.4-1-.1-1 .3-1-.1-1 0-1-.1-1-.1-1 .2-1 .2-1-.4-1 .4-1-.2-1-.2-1 .5-1-.3-1 .1-1 .2-1-.3-1-.2-1 .1-1-.1-1 .3-1-.2-1 .1-1-.2-1 .3-1 .1-1-.2-1-.1-1 .2Z" fill="#4b6452"/><path d="M0 19.9l1 0 1 0 1 0 1 0 1 0 1 0 1 0 1 0 1 0 1 0 1 0 1 0 1 0 1 0 1 0 1 0 1 0 1 0 1 0 1 0 1 0 1 0 1 0 1 0 1 0 1 0 1 0 1 0 1 0 1 0 1 0 1 0 1 0 1 0 1 0 1 0 1 0 1 0 1 0 1 0 1 0 1 0 1 0 1 0 1 0 1 0 1 0 1 0 1 0 1 0 1 0 1 0 1 0 1 0 1 0 1 0 1 0 1 0 1 0 1 0 1 0 1 0 1 0 1 0 1 0 1 0 1 0 1 0 1 0 1 0 1 0 1 0 1 0 1 0 1 0 1 0 1 0 1 0 1 0 1 0 1 0 1 0 1 0 1 0 1 0 1 0 1 0 1 0 1 0 1 0 1 0 1 0 1 0 1 0 1 0 1 0 1 0 1 0 1 0 1 0 1 0 1 0 1 0 1 0 1 0 1 0 1 0 1 0 1 0 1 0 1 0 1 0 1 0 1 0 1 0 1 0 1 0 1 0 1 0 1 0 1 0 1 0 1 0 1 0 1 0 1 0 1 0 1 0 1 0 1 0 1 0 1 0 1 0 1 0 1 0 1 0 1 0 1 0 1 0 1 0 1 0 1 0 1 0 1 0 1 0 1 0 1 0 1 0 1 0 1 0 1 0 1 0 1 0 1 0 1 0 1 0 1 0 1 0 1 0 1 0 1 0 1 0 1 0 1 0 1 0 1 0 1 0 1 0 1 0 1 0 1 0 1 0 1 0 1 0 1 0 1 0 1 0 1 0 1 0 1 0 1 0 1 0 1 0 1 0 1 0 1 0 1 0 1 0 1 0 1 0 1 0 1 0 1 0 1 0 1 0 1 0 1 0 1 0 1 0 1 0 1 0 1 0 1 0 1 0 1 0 1 0 1 0 1 0 1 0 1 0 1 0 1 0 1 0 1 0 1 0 1 0 1 0 1 0 1 0 1 0 1 0 1 0 1 0 1 0 1 0 1 0 1 0 1 0 1 0 1 0 1 0 1 0 1 0 1 0 1 0 1 0 1 0 1 0 1 0 1 0 1 0 1 0 1 0 1 0 1 0 1 0 1 0 1 0 1 0 1 0 1 0 1 0 1 0 1 0 1 0 1 0 1 0 1 0 1 0 1 0 1 0 1 0 1 0 1 0 1 0 1 0 1 0 1 0 1 0 1 0 1 0 1 0 1 0 1 0 1 0 1 0 1 0 1 0 1 0 1 0 1 0 1 0 1 0 1 0 1 0 1 0 1 0 1 0 1 0 1 0 1 0 1 0 1 0 1 0 1 0 1 0 1 0 1 0 1 0 1 0 1 0 1 0 1 0 1 0 1 0 1 0 1 0 1 0 1 0 1 0 1 0 1 0 1 0 1 0 1 0 1 0 1 0 1 0 1 0 1 0 1 0 1 0 1 0 1 0 1 0 1 0 1 0 1 0 1 0 1 0 1 0 1 0 1 0 1 0 1 0 1 0 1 0 1 0 1 0 1 0 1 0 1 0 1 0 1 0 1 0 1 0 1 0 1 0 1 0 1 0 1 0 1 0 1 0 1 0 1 0 1 0 1 0 1 0 1 0 1 0 1 0 1 0 1 0 1 0 1 0 1 0 1 0 1 0 1 0 1 0 1 0 1 0 1 0 1 0 1 0 1 0 1 0 1 0 1 0 1 0 1 0 1 0 1 0 1 0 1 0 1 0 1 0 1 0 1 0 1 0 1 0 1 0 1 0 1 0 1 0 1 0 1 0 1 0 1 0 1 0 1 0 1 0 1-.9 1-1.1 1-1.1 1 .7 1 1.1 1 1.1 1 .2 1 0 1 0 1 0 1 0 1 0 1 0 1 0 1 0 1 0 1 0 1 0 1 0 1 0 1 0 1 0 1 0 1 0 1 0 1 0 1 0 1 0 1 0 1 0 1 0 1 0 1 0 1 0 1 0 1 0 1 0 1 0 1 0 1 0 1 0 1 0 1 0 1 0 1 0 1 0 1 0 1 0 1 0 1 0 1 0 1 0 1 0 1 0 1 0 1 0 1 0 1 0 1 0 1 0 1 0 1 0 1 0 1 0 1 0 1 0 1 0 1 0 1 0 1 0 1 0 1 0 1 0 1 0 1 0 1 0 1 0 1 0 1 0 1 0 1 0 1 0 1 0 1 0 1 0 1 0 1 0 1 0 1 0 1 0 1 0 1 0 1-.7 1 0 1 0 1 0 1 0 1 0 1 0 1 0 1 0 1 0 1 0 1 0 1 0 1 0 1 0 1 0 1 0 1 0 1 0 1 0 1 0 1 0 1 0 1 0 1 0 1 0 1 0 1 0 1 0 1 0 1 0 1 0 1 0 1 0 1 0 1 0 1 0 1 0 1 0 1 0 1-.7 1 0 1 0 1 0 1 0 1 0 1 0 1 0 1 0 1 0 1 0 1 0 1 0 1 0 1 0 1 0 1 0 1 0 1 0 1 0 1 0 1-1.1 1 0 1 0 1 0 1 0 1 0 1 0 1 0 1 0 1 0 1 0 1 0 1 0 1 0 1 0 1 0 1 0 1 0 1 0 1 0 1 0 1 0 1 0 1 0 1 0 1 0 1 0 1 0 1 0 1 0 1 0 1 0 1 0 1 0 1 0 1 0 1 0 1 0 1 0 1 0 1 0 1 0 1 0 1 0 1 0 1 0 1 0 1 0 1 0 1 0 1 0 1 0 1 0 1 0 1 0 1 0 1 0 1 0 1 0 1 0 1 0 1 0 1 0 1 0 1 0 1 0 1 0 1 0 1 0 1 0 1 0 1 0 1 0 1 0 1 0 1 0 1 0 1 0 1 0 1 0 1 0 1 0 1 0 1 0 1 0 1 0 1 0 1 0 1 0 1 0 1 0 1 0 1 0 1 0 1 0 1 0 1 0 1 0 1 0 1 0 1 0 1 0 1 0 1 0 1 0 1 0 1 0 1 0 1 0 1 0 1 0 1 0 1 0 1 0 1 0 1 0 1 0 1 0 1 0 1 0 1 0 1 0 1 0 1 0 1 0 1 0 1 0 1 0 1 0 1 0 1 0 1 0 1 0 1 0 1 0 1 0 1 0 1 0 1 0 1 0 1 0 1 0 1 0 1 0 1 0 1 0 1 0 1 0 1 0 1 0 1 0 1 0 1 0 1 0 1 0 1 0 1 0 1 0 1 0 1 0 1 0 1 0 1 0 1 0 1 0 1 0 1 0 1 0 1 0 1 0 1 0 1 0 1 0 1 0 1 0 1 0 1 0 1 0 1 0 1 0 1 0 1 0 1 0 1 0 1 0 1 0 1 0 1 0 1 0 1 0 1 0 1 0 1 0 1 0 1 0 1 0 1 0 1 0 1 0 1 0 1 0 1 0 1 0 1 0 1 0 1 0 1 0 1 0 1 0 1 0 1 0 1 0 1 0 1 0 1 0 1 0 1 0 1 0 1 0 1 0 1 0 1 0 1 0 1 0 1 0 1 0 1 0 1 0 1 0 1 0 1 0 1 0 1 0 1 0 1 0 1 0 1 0 1 0 1 0 1 0 1 0 1 0 1 0 1 0 1 0 1 0 1 0 1 0 1 0 1 0 1 0 1 0 1 0 1 0 1 0 1 0 1 0 1 0 1 0 1 0 1 0 1 0 1 0 1 0 1 0V22.4 H0 Z" fill="#7a1f25"/><path d="M0 20.5l1 0 1 0 1 0 1 0 1 0 1 0 1 0 1 0 1 0 1 0 1 0 1 0 1 0 1 0 1 0 1 0 1 0 1 0 1 0 1 0 1 0 1 0 1 0 1 0 1 0 1 0 1 0 1 0 1 0 1 0 1 0 1 0 1 0 1 0 1 0 1 0 1 0 1 0 1 0 1 0 1 0 1 0 1 0 1 0 1 0 1 0 1 0 1 0 1 0 1 0 1 0 1 0 1 0 1 0 1 0 1 0 1 0 1 0 1 0 1 0 1 0 1 0 1 0 1 0 1 0 1 0 1 0 1 0 1 0 1 0 1 0 1 0 1 0 1 0 1 0 1 0 1 0 1 0 1 0 1 0 1 0 1 0 1 0 1 0 1 0 1 0 1 0 1 0 1 0 1 0 1 0 1 0 1 0 1 0 1 0 1 0 1 0 1 0 1 0 1 0 1 0 1 0 1 0 1 0 1 0 1 0 1 0 1 0 1 0 1 0 1 0 1 0 1 0 1 0 1 0 1 0 1 0 1 0 1 0 1 0 1 0 1 0 1 0 1 0 1 0 1 0 1 0 1 0 1 0 1 0 1 0 1 0 1 0 1 0 1 0 1 0 1 0 1 0 1 0 1 0 1 0 1 0 1 0 1 0 1 0 1 0 1 0 1 0 1 0 1 0 1 0 1 0 1 0 1 0 1 0 1 0 1 0 1 0 1 0 1 0 1 0 1 0 1 0 1 0 1 0 1 0 1 0 1 0 1 0 1 0 1 0 1 0 1 0 1 0 1 0 1 0 1 0 1 0 1 0 1 0 1 0 1 0 1 0 1 0 1 0 1 0 1 0 1 0 1 0 1 0 1 0 1 0 1 0 1 0 1 0 1 0 1 0 1 0 1 0 1 0 1 0 1 0 1 0 1 0 1 0 1 0 1 0 1 0 1 0 1 0 1 0 1 0 1 0 1 0 1 0 1 0 1 0 1 0 1 0 1 0 1 0 1 0 1 0 1 0 1 0 1 0 1 0 1 0 1 0 1 0 1 0 1 0 1 0 1 0 1 0 1 0 1 0 1 0 1 0 1 0 1 0 1 0 1 0 1 0 1 0 1 0 1 0 1 0 1 0 1 0 1 0 1 0 1 0 1 0 1 0 1 0 1 0 1 0 1 0 1 0 1 0 1 0 1 0 1 0 1 0 1 0 1 0 1 0 1 0 1 0 1 0 1 0 1 0 1 0 1 0 1 0 1 0 1 0 1 0 1 0 1 0 1 0 1 0 1 0 1 0 1 0 1 0 1 0 1 0 1 0 1 0 1 0 1 0 1 0 1 0 1 0 1 0 1 0 1 0 1 0 1 0 1 0 1 0 1 0 1 0 1 0 1 0 1 0 1 0 1 0 1 0 1 0 1 0 1 0 1 0 1 0 1 0 1 0 1 0 1 0 1 0 1 0 1 0 1 0 1 0 1 0 1 0 1 0 1 0 1 0 1 0 1 0 1 0 1 0 1 0 1 0 1 0 1 0 1 0 1 0 1 0 1 0 1 0 1 0 1 0 1 0 1 0 1 0 1 0 1 0 1 0 1 0 1 0 1 0 1 0 1 0 1 0 1 0 1 0 1 0 1 0 1 0 1 0 1 0 1 0 1 0 1 0 1 0 1 0 1 0 1 0 1 0 1 0 1 0 1 0 1 0 1 0 1 0 1 0 1 0 1 0 1 0 1 0 1 0 1 0 1 0 1 0 1 0 1 0 1 0 1 0 1 0 1 0 1 0 1 0 1 0 1 0 1 0 1 0 1 0 1 0 1 0 1-.9 1-1.1 1-1.1 1 .7 1 1.1 1 1.1 1 .2 1 0 1 0 1 0 1 0 1 0 1 0 1 0 1 0 1 0 1 0 1 0 1 0 1 0 1 0 1 0 1 0 1 0 1 0 1 0 1 0 1 0 1 0 1 0 1 0 1 0 1 0 1 0 1 0 1 0 1 0 1 0 1 0 1 0 1 0 1 0 1 0 1 0 1 0 1 0 1 0 1 0 1 0 1 0 1 0 1 0 1 0 1 0 1 0 1 0 1 0 1 0 1 0 1 0 1 0 1 0 1 0 1 0 1 0 1 0 1 0 1 0 1 0 1 0 1 0 1 0 1 0 1 0 1 0 1 0 1 0 1 0 1 0 1 0 1 0 1 0 1 0 1 0 1 0 1 0 1 0 1 0 1 0 1 0 1 0 1 0 1-.7 1 0 1 0 1 0 1 0 1 0 1 0 1 0 1 0 1 0 1 0 1 0 1 0 1 0 1 0 1 0 1 0 1 0 1 0 1 0 1 0 1 0 1 0 1 0 1 0 1 0 1 0 1 0 1 0 1 0 1 0 1 0 1 0 1 0 1 0 1 0 1 0 1 0 1 0 1 0 1-.7 1 0 1 0 1 0 1 0 1 0 1 0 1 0 1 0 1 0 1 0 1 0 1 0 1 0 1 0 1 0 1 0 1 0 1 0 1 0 1 0 1-1.1 1 0 1 0 1 0 1 0 1 0 1 0 1 0 1 0 1 0 1 0 1 0 1 0 1 0 1 0 1 0 1 0 1 0 1 0 1 0 1 0 1 0 1 0 1 0 1 0 1 0 1 0 1 0 1 0 1 0 1 0 1 0 1 0 1 0 1 0 1 0 1 0 1 0 1 0 1 0 1 0 1 0 1 0 1 0 1 0 1 0 1 0 1 0 1 0 1 0 1 0 1 0 1 0 1 0 1 0 1 0 1 0 1 0 1 0 1 0 1 0 1 0 1 0 1 0 1 0 1 0 1 0 1 0 1 0 1 0 1 0 1 0 1 0 1 0 1 0 1 0 1 0 1 0 1 0 1 0 1 0 1 0 1 0 1 0 1 0 1 0 1 0 1 0 1 0 1 0 1 0 1 0 1 0 1 0 1 0 1 0 1 0 1 0 1 0 1 0 1 0 1 0 1 0 1 0 1 0 1 0 1 0 1 0 1 0 1 0 1 0 1 0 1 0 1 0 1 0 1 0 1 0 1 0 1 0 1 0 1 0 1 0 1 0 1 0 1 0 1 0 1 0 1 0 1 0 1 0 1 0 1 0 1 0 1 0 1 0 1 0 1 0 1 0 1 0 1 0 1 0 1 0 1 0 1 0 1 0 1 0 1 0 1 0 1 0 1 0 1 0 1 0 1 0 1 0 1 0 1 0 1 0 1 0 1 0 1 0 1 0 1 0 1 0 1 0 1 0 1 0 1 0 1 0 1 0 1 0 1 0 1 0 1 0 1 0 1 0 1 0 1 0 1 0 1 0 1 0 1 0 1 0 1 0 1 0 1 0 1 0 1 0 1 0 1 0 1 0 1 0 1 0 1 0 1 0 1 0 1 0 1 0 1 0 1 0 1 0 1 0 1 0 1 0 1 0 1 0 1 0 1 0 1 0 1 0 1 0 1 0 1 0 1 0 1 0 1 0 1 0 1 0 1 0 1 0 1 0 1 0 1 0 1 0 1 0 1 0 1 0 1 0 1 0 1 0 1 0 1 0 1 0 1 0 1 0 1 0 1 0 1 0 1 0 1 0 1 0 1 0 1 0 1 0 1 0 1 0 1 0 1 0 1 0 1 0 1 0 1 0 1 0 1 0 1 0 1 0 1 0 1 0 1 0 1 0 1 0 1 0 1 0 1 0 1 0 1 0" fill="none" stroke="#d8301f" stroke-width="1.4" stroke-linejoin="round"/><line x1="0" y1="22.4" x2="820.9" y2="22.4" stroke="#a5b884" stroke-width="1"/><path d="M0 93.9l1 .1 1 .1 1 .3 1 0 1 0 1-.2 1-.1 1 .3 1 0 1 0 1-.2 1 0 1-.1 1 0 1 0 1-.2 1-.2 1-.1 1 .2 1 .2 1-.2 1 .1 1-.1 1 0 1-.2 1-.2 1 .2 1-.2 1-.1 1 .2 1 .2 1-.1 1 .2 1 .1 1 0 1-.1 1 .2 1 .1 1 .3 1 0 1-.1 1-.1 1-.1 1-.2 1-.2 1-.1 1 0 1-.2 1 .1 1-.1 1-.1 1 .1 1 0 1-.1 1 0 1 .1 1-.2 1 .3 1-.3 1 .1 1 .2 1-.2 1 .1 1-.1 1 .1 1-.2 1 0 1 0 1 .2 1-.1 1 .1 1 .2 1 .2 1 0 1-.1 1 0 1 .1 1-.2 1 .2 1 .1 1 .2 1-.2 1 .2 1-.2 1-.1 1 .1 1 .2 1-.1 1 .2 1 0 1-.1 1-.1 1-.1 1-.2 1-.2 1 .1 1 .2 1-.1 1-.3 1 .3 1 0 1 0 1-.2 1 .1 1 .1 1 0 1 0 1-.3 1 .3 1-.3 1 0 1 .2 1-.2 1 .1 1 .2 1 .1 1 .2 1-.2 1-.1 1-.2 1 .2 1-.1 1 0 1 .2 1 .2 1 .3 1-.1 1 0 1 .1 1 0 1-.1 1 0 1-.2 1-.1 1 .3 1 .2 1 0 1 0 1-.1 1-.2 1-.1 1 .1 1 .2 1 0 1 .1 1 0 1 0 1 0 1 0 1-.1 1 .1 1-.1 1 0 1 .1 1 0 1-.1 1 .1 1 0 1 0 1-.2 1 0 1-.1 1 0 1 0 1 .2 1 .1 1 0 1-.1 1 .1 1 0 1 0 1-.1 1 .1 1 0 1 0 1 0 1 0 1 0 1 0 1-.2 1 .2 1 0 1 0 1 0 1 0 1 0 1-.2 1 .2 1 0 1 0 1 0 1 0 1 0 1 0 1 0 1-.2 1-.2 1 0 1 0 1-.1 1 .1 1 .1 1-.3 1 0 1-.1 1-.2 1-.2 1-.1 1 0 1 0 1 0 1 0 1 0 1 .1 1 0 1-.1 1 .2 1-.2 1 0 1 0 1 0 1 0 1 .2 1-.1 1-.1 1 .1 1-.1 1 0 1 0 1 0 1 .3 1 .1 1 0 1 .1 1 .1 1 0 1-.2 1 0 1 .1 1 .2 1 .2 1 .1 1-.1 1 .2 1-.3 1-.2 1 .1 1 0 1-.1 1 0 1 .2 1 0 1-.1 1-.1 1-.1 1 .2 1 0 1 .2 1 .2 1 0 1-.1 1 .2 1 0 1 0 1-.1 1 .1 1 0 1-.1 1 0 1-.2 1 0 1 0 1-.1 1 .2 1 .1 1-.2 1 0 1-.1 1 .2 1 .1 1-.1 1-.1 1-.2 1 .3 1-.1 1 0 1 0 1 .1 1 0 1 .2 1-.2 1 .1 1-.1 1 0 1-.1 1-.1 1 0 1 0 1 0 1 .1 1 0 1-.2 1-.1 1-.1 1 .3 1 .1 1 .1 1-.3 1 .2 1-.1 1 .1 1 .1 1 0 1 0 1 .2 1-.1 1 0 1 .1 1-.2 1-.1 1 .2 1-.2 1 .2 1 .1 1-.1 1-.1 1 .2 1 0 1-.2 1 0 1 0 1 0 1-.1 1-.1 1 0 1 .2 1-.2 1-.2 1 .2 1 .1 1 .1 1-.2 1 .1 1 .2 1 .1 1 0 1-.2 1 .1 1-.1 1 .1 1 .1 1 0 1-.2 1-.1 1 .2 1-.2 1 .1 1 0 1-.2 1 .1 1-.3 1-.2 1 0 1-.2 1-.2 1 0 1 .2 1 .1 1-.1 1-.1 1-.1 1 .1 1 0 1 .2 1-.1 1-.2 1 .1 1-.1 1 .1 1 0 1 .2 1 0 1 .1 1-.2 1 .1 1-.2 1 .2 1 0 1-.2 1-.1 1 0 1 .1 1-.1 1 .1 1 .1 1-.2 1 .1 1-.1 1 0 1 0 1 0 1 .2 1 0 1-.1 1 .1 1 10.2 1 12.3 1 12.2 1 2.2 1 .1 1 .1 1-.1 1-.1 1 .2 1 0 1 .1 1-.1 1 .1 1 0 1-.1 1 0 1 0 1 0 1-.1 1 .1 1 .1 1 0 1 .1 1 0 1 .1 1 .1 1 0 1 0 1 .1 1 0 1-.1 1-.1 1-.1 1-.1 1 .2 1 0 1 .1 1-.2 1 0 1 .2 1 0 1 0 1 0 1-.1 1 0 1 0 1 0 1 0 1 .2 1-.1 1 0 1 0 1 0 1 0 1 0 1 0 1 .1 1 .1 1 0 1 .1 1 .1 1 0 1 0 1 .2 1-.1 1 .1 1-.1 1 .1 1 .1 1-.1 1-.1 1-.1 1-.1 1 0 1 0 1 .1 1 0 1 0 1 0 1 0 1 0 1 .1 1-.1 1 0 1 .1 1 .1 1 .1 1 0 1 .1 1-.1 1-.1 1 .1 1 0 1-.2 1 .1 1 .1 1 0 1 0 1-.1 1 0 1 .2 1 0 1 .1 1-.1 1-.1 1 0 1 0 1 0 1 0 1 .1 1 .1 1 .1 1 .1 1 .2 1 0 1 .1 1 .1 1 .1 1 0 1 .1 1 .1 1 .1 1 .3 1 .1 1 .2 1 0 1-.1 1 .1 1 .1 1 .1 1 .1 1 .1 1 .2 1 .2 1 0 1 .1 1 .2 1 .4 1-.1 1-.1 1 0 1 .1 1 0 1 0 1-.1 1 0 1 0 1 0 1 0 1 0 1 0 1 0 1 .1 1-.1 1 0 1 0 1 0 1 0 1 0 1 0 1 .1 1 0 1 .1 1 0 1 .1 1 0 1 0 1 .1 1 0 1 .1 1 .1 1 0 1-.1 1 .1 1 0 1-.1 1-.1 1-.1 1-.1 1 .1 1-.1 1-.1 1 .1 1 0 1-.1 1-.1 1 0 1 0 1 .1 1 .1 1 0 1 0 1-.1 1 0 1 0 1-.1 1 0 1 .1 1 .1 1-.1 1 0 1-.1 1 .1 1-.1 1 .1 1 .1 1-.1 1 0 1 .1 1 0 1 0 1-.1 1 .1 1 .1 1 0 1 .1 1 .1 1-.1 1 0 1 0 1-.1 1 .1 1-.1 1 0 1 0 1 .1 1 0 1-.1 1 0 1-.1 1 0 1 0 1 0 1 0 1-.1 1 0 1 .1 1 .1 1 .1 1 0 1 0 1-.1 1 .1 1 0 1-.1 1-.1 1-.1 1 0 1 .1 1-.1 1 .1 1 0 1 0 1 .1 1 0 1 .1 1 0 1-.1 1 0 1 0 1-.1 1 0 1-.1 1-.1 1 0 1 0 1 0 1 .1 1-.1 1 .1 1 .1 1 .1 1 .1 1 0 1 0 1 .1 1 0 1 0 1 0 1 0 1 0 1-.1 1-.1 1-.1 1 .1 1 0 1 .1 1-.1 1 .1 1 0 1 0 1-.1 1 .1 1 0 1 .2 1 0 1 0 1 0 1 0 1 0 1-.1 1 0 1 .1 1-.1 1 .1 1 0 1 0 1-.2 1 0 1-.1 1 .1 1 .1 1 .1 1 0 1 0 1-.1 1 0 1 0 1 .1 1 0 1 0 1-.1 1 0 1-.1 1 .1 1 .1 1-.1 1 0 1 .1 1-.1 1-.1 1 0 1 .1 1 .1 1 0 1 0 1 0 1 0 1 0 1 0 1-.1 1 0 1 .1 1-.1 1-.1 1-.1 1 0 1 0 1 0 1-.1 1 0 1 .1 1 0 1 .1 1-.2 1 0 1 .1 1 .1 1 0 1 .1 1 0 1 .1 1-.1 1 .1 1 0 1 0 1-.1 1-.1 1-.1 1-.1 1-.1 1 .1 1-.1 1 0 1 .1 1 .1 1 .1 1 0 1 .1 1 .1 1 0 1 0 1-.1 1-.1 1-.1 1-.1 1 0 1 0 1 0 1 .1 1-.1 1 0 1 0 1-.1 1-.1 1 .1 1-.1 1 .1 1 0 1 .1 1 .1 1-.1 1 .1 1 0 1 0 1-.1 1 0 1-.1 1 .1 1 .1 1 0 1-.1 1 0 1 .1 1 0V147.3 H0 Z" fill="#6f5f1c"/><path d="M0 93.9l1 .1 1 .1 1 .3 1 0 1 0 1-.2 1-.1 1 .3 1 0 1 0 1-.2 1 0 1-.1 1 0 1 0 1-.2 1-.2 1-.1 1 .2 1 .2 1-.2 1 .1 1-.1 1 0 1-.2 1-.2 1 .2 1-.2 1-.1 1 .2 1 .2 1-.1 1 .2 1 .1 1 0 1-.1 1 .2 1 .1 1 .3 1 0 1-.1 1-.1 1-.1 1-.2 1-.2 1-.1 1 0 1-.2 1 .1 1-.1 1-.1 1 .1 1 0 1-.1 1 0 1 .1 1-.2 1 .3 1-.3 1 .1 1 .2 1-.2 1 .1 1-.1 1 .1 1-.2 1 0 1 0 1 .2 1-.1 1 .1 1 .2 1 .2 1 0 1-.1 1 0 1 .1 1-.2 1 .2 1 .1 1 .2 1-.2 1 .2 1-.2 1-.1 1 .1 1 .2 1-.1 1 .2 1 0 1-.1 1-.1 1-.1 1-.2 1-.2 1 .1 1 .2 1-.1 1-.3 1 .3 1 0 1 0 1-.2 1 .1 1 .1 1 0 1 0 1-.3 1 .3 1-.3 1 0 1 .2 1-.2 1 .1 1 .2 1 .1 1 .2 1-.2 1-.1 1-.2 1 .2 1-.1 1 0 1 .2 1 .2 1 .3 1-.1 1 0 1 .1 1 0 1-.1 1 0 1-.2 1-.1 1 .3 1 .2 1 0 1 0 1-.1 1-.2 1-.1 1 .1 1 .2 1 0 1 .1 1 0 1 0 1 0 1 0 1-.1 1 .1 1-.1 1 0 1 .1 1 0 1-.1 1 .1 1 0 1 0 1-.2 1 0 1-.1 1 0 1 0 1 .2 1 .1 1 0 1-.1 1 .1 1 0 1 0 1-.1 1 .1 1 0 1 0 1 0 1 0 1 0 1 0 1-.2 1 .2 1 0 1 0 1 0 1 0 1 0 1-.2 1 .2 1 0 1 0 1 0 1 0 1 0 1 0 1 0 1-.2 1-.2 1 0 1 0 1-.1 1 .1 1 .1 1-.3 1 0 1-.1 1-.2 1-.2 1-.1 1 0 1 0 1 0 1 0 1 0 1 .1 1 0 1-.1 1 .2 1-.2 1 0 1 0 1 0 1 0 1 .2 1-.1 1-.1 1 .1 1-.1 1 0 1 0 1 0 1 .3 1 .1 1 0 1 .1 1 .1 1 0 1-.2 1 0 1 .1 1 .2 1 .2 1 .1 1-.1 1 .2 1-.3 1-.2 1 .1 1 0 1-.1 1 0 1 .2 1 0 1-.1 1-.1 1-.1 1 .2 1 0 1 .2 1 .2 1 0 1-.1 1 .2 1 0 1 0 1-.1 1 .1 1 0 1-.1 1 0 1-.2 1 0 1 0 1-.1 1 .2 1 .1 1-.2 1 0 1-.1 1 .2 1 .1 1-.1 1-.1 1-.2 1 .3 1-.1 1 0 1 0 1 .1 1 0 1 .2 1-.2 1 .1 1-.1 1 0 1-.1 1-.1 1 0 1 0 1 0 1 .1 1 0 1-.2 1-.1 1-.1 1 .3 1 .1 1 .1 1-.3 1 .2 1-.1 1 .1 1 .1 1 0 1 0 1 .2 1-.1 1 0 1 .1 1-.2 1-.1 1 .2 1-.2 1 .2 1 .1 1-.1 1-.1 1 .2 1 0 1-.2 1 0 1 0 1 0 1-.1 1-.1 1 0 1 .2 1-.2 1-.2 1 .2 1 .1 1 .1 1-.2 1 .1 1 .2 1 .1 1 0 1-.2 1 .1 1-.1 1 .1 1 .1 1 0 1-.2 1-.1 1 .2 1-.2 1 .1 1 0 1-.2 1 .1 1-.3 1-.2 1 0 1-.2 1-.2 1 0 1 .2 1 .1 1-.1 1-.1 1-.1 1 .1 1 0 1 .2 1-.1 1-.2 1 .1 1-.1 1 .1 1 0 1 .2 1 0 1 .1 1-.2 1 .1 1-.2 1 .2 1 0 1-.2 1-.1 1 0 1 .1 1-.1 1 .1 1 .1 1-.2 1 .1 1-.1 1 0 1 0 1 0 1 .2 1 0 1-.1 1 .1 1 10.2 1 12.3 1 12.2 1 2.2 1 .1 1 .1 1-.1 1-.1 1 .2 1 0 1 .1 1-.1 1 .1 1 0 1-.1 1 0 1 0 1 0 1-.1 1 .1 1 .1 1 0 1 .1 1 0 1 .1 1 .1 1 0 1 0 1 .1 1 0 1-.1 1-.1 1-.1 1-.1 1 .2 1 0 1 .1 1-.2 1 0 1 .2 1 0 1 0 1 0 1-.1 1 0 1 0 1 0 1 0 1 .2 1-.1 1 0 1 0 1 0 1 0 1 0 1 0 1 .1 1 .1 1 0 1 .1 1 .1 1 0 1 0 1 .2 1-.1 1 .1 1-.1 1 .1 1 .1 1-.1 1-.1 1-.1 1-.1 1 0 1 0 1 .1 1 0 1 0 1 0 1 0 1 0 1 .1 1-.1 1 0 1 .1 1 .1 1 .1 1 0 1 .1 1-.1 1-.1 1 .1 1 0 1-.2 1 .1 1 .1 1 0 1 0 1-.1 1 0 1 .2 1 0 1 .1 1-.1 1-.1 1 0 1 0 1 0 1 0 1 .1 1 .1 1 .1 1 .1 1 .2 1 0 1 .1 1 .1 1 .1 1 0 1 .1 1 .1 1 .1 1 .3 1 .1 1 .2 1 0 1-.1 1 .1 1 .1 1 .1 1 .1 1 .1 1 .2 1 .2 1 0 1 .1 1 .2 1 .4 1-.1 1-.1 1 0 1 .1 1 0 1 0 1-.1 1 0 1 0 1 0 1 0 1 0 1 0 1 0 1 .1 1-.1 1 0 1 0 1 0 1 0 1 0 1 0 1 .1 1 0 1 .1 1 0 1 .1 1 0 1 0 1 .1 1 0 1 .1 1 .1 1 0 1-.1 1 .1 1 0 1-.1 1-.1 1-.1 1-.1 1 .1 1-.1 1-.1 1 .1 1 0 1-.1 1-.1 1 0 1 0 1 .1 1 .1 1 0 1 0 1-.1 1 0 1 0 1-.1 1 0 1 .1 1 .1 1-.1 1 0 1-.1 1 .1 1-.1 1 .1 1 .1 1-.1 1 0 1 .1 1 0 1 0 1-.1 1 .1 1 .1 1 0 1 .1 1 .1 1-.1 1 0 1 0 1-.1 1 .1 1-.1 1 0 1 0 1 .1 1 0 1-.1 1 0 1-.1 1 0 1 0 1 0 1 0 1-.1 1 0 1 .1 1 .1 1 .1 1 0 1 0 1-.1 1 .1 1 0 1-.1 1-.1 1-.1 1 0 1 .1 1-.1 1 .1 1 0 1 0 1 .1 1 0 1 .1 1 0 1-.1 1 0 1 0 1-.1 1 0 1-.1 1-.1 1 0 1 0 1 0 1 .1 1-.1 1 .1 1 .1 1 .1 1 .1 1 0 1 0 1 .1 1 0 1 0 1 0 1 0 1 0 1-.1 1-.1 1-.1 1 .1 1 0 1 .1 1-.1 1 .1 1 0 1 0 1-.1 1 .1 1 0 1 .2 1 0 1 0 1 0 1 0 1 0 1-.1 1 0 1 .1 1-.1 1 .1 1 0 1 0 1-.2 1 0 1-.1 1 .1 1 .1 1 .1 1 0 1 0 1-.1 1 0 1 0 1 .1 1 0 1 0 1-.1 1 0 1-.1 1 .1 1 .1 1-.1 1 0 1 .1 1-.1 1-.1 1 0 1 .1 1 .1 1 0 1 0 1 0 1 0 1 0 1 0 1-.1 1 0 1 .1 1-.1 1-.1 1-.1 1 0 1 0 1 0 1-.1 1 0 1 .1 1 0 1 .1 1-.2 1 0 1 .1 1 .1 1 0 1 .1 1 0 1 .1 1-.1 1 .1 1 0 1 0 1-.1 1-.1 1-.1 1-.1 1-.1 1 .1 1-.1 1 0 1 .1 1 .1 1 .1 1 0 1 .1 1 .1 1 0 1 0 1-.1 1-.1 1-.1 1-.1 1 0 1 0 1 0 1 .1 1-.1 1 0 1 0 1-.1 1-.1 1 .1 1-.1 1 .1 1 0 1 .1 1 .1 1-.1 1 .1 1 0 1 0 1-.1 1 0 1-.1 1 .1 1 .1 1 0 1-.1 1 0 1 .1 1 0" fill="none" stroke="#d9b51c" stroke-width="1.3" stroke-linejoin="round"/><line x1="0" y1="146.8" x2="820.9" y2="146.8" stroke="rgba(204,204,220,0.12)"/><line x1="0" y1="125.9" x2="820.9" y2="125.9" stroke="rgba(204,204,220,0.12)"/><line x1="0" y1="104.4" x2="820.9" y2="104.4" stroke="rgba(204,204,220,0.12)"/><line x1="0" y1="83.0" x2="820.9" y2="83.0" stroke="rgba(204,204,220,0.12)"/><line x1="0" y1="61.5" x2="820.9" y2="61.5" stroke="rgba(204,204,220,0.12)"/><line x1="0" y1="40.1" x2="820.9" y2="40.1" stroke="rgba(204,204,220,0.12)"/><line x1="0" y1="18.6" x2="820.9" y2="18.6" stroke="rgba(204,204,220,0.12)"/><line x1="66.6" y1="0" x2="66.6" y2="147.3" stroke="rgba(204,204,220,0.12)"/><line x1="135.0" y1="0" x2="135.0" y2="147.3" stroke="rgba(204,204,220,0.12)"/><line x1="203.3" y1="0" x2="203.3" y2="147.3" stroke="rgba(204,204,220,0.12)"/><line x1="271.7" y1="0" x2="271.7" y2="147.3" stroke="rgba(204,204,220,0.12)"/><line x1="340.0" y1="0" x2="340.0" y2="147.3" stroke="rgba(204,204,220,0.12)"/><line x1="408.4" y1="0" x2="408.4" y2="147.3" stroke="rgba(204,204,220,0.12)"/><line x1="476.7" y1="0" x2="476.7" y2="147.3" stroke="rgba(204,204,220,0.12)"/><line x1="545.0" y1="0" x2="545.0" y2="147.3" stroke="rgba(204,204,220,0.12)"/><line x1="613.4" y1="0" x2="613.4" y2="147.3" stroke="rgba(204,204,220,0.12)"/><line x1="681.8" y1="0" x2="681.8" y2="147.3" stroke="rgba(204,204,220,0.12)"/><line x1="750.1" y1="0" x2="750.1" y2="147.3" stroke="rgba(204,204,220,0.12)"/><line x1="818.5" y1="0" x2="818.5" y2="147.3" stroke="rgba(204,204,220,0.12)"/></svg>
<span class="t" style="left:944.39px;top:476.40px;font-size:12.00px;line-height:12.00px;color:rgba(204,204,220,0.85)">0 B</span>
<span class="t" style="left:932.39px;top:454.95px;font-size:12.00px;line-height:12.00px;color:rgba(204,204,220,0.85)">8 GiB</span>
<span class="t" style="left:925.72px;top:433.50px;font-size:12.00px;line-height:12.00px;color:rgba(204,204,220,0.85)">16 GiB</span>
<span class="t" style="left:925.72px;top:412.05px;font-size:12.00px;line-height:12.00px;color:rgba(204,204,220,0.85)">24 GiB</span>
<span class="t" style="left:925.72px;top:390.60px;font-size:12.00px;line-height:12.00px;color:rgba(204,204,220,0.85)">32 GiB</span>
<span class="t" style="left:925.72px;top:369.15px;font-size:12.00px;line-height:12.00px;color:rgba(204,204,220,0.85)">40 GiB</span>
<span class="t" style="left:925.72px;top:347.70px;font-size:12.00px;line-height:12.00px;color:rgba(204,204,220,0.85)">48 GiB</span>
<span class="t" style="left:1017.60px;top:490.40px;font-size:12.00px;line-height:12.00px;color:rgba(204,204,220,0.85);letter-spacing:0.894px">04:00</span>
<span class="t" style="left:1085.95px;top:490.40px;font-size:12.00px;line-height:12.00px;color:rgba(204,204,220,0.85);letter-spacing:0.894px">06:00</span>
<span class="t" style="left:1154.30px;top:490.40px;font-size:12.00px;line-height:12.00px;color:rgba(204,204,220,0.85);letter-spacing:0.894px">08:00</span>
<span class="t" style="left:1222.65px;top:490.40px;font-size:12.00px;line-height:12.00px;color:rgba(204,204,220,0.85);letter-spacing:0.894px">10:00</span>
<span class="t" style="left:1291.00px;top:490.40px;font-size:12.00px;line-height:12.00px;color:rgba(204,204,220,0.85);letter-spacing:0.894px">12:00</span>
<span class="t" style="left:1359.35px;top:490.40px;font-size:12.00px;line-height:12.00px;color:rgba(204,204,220,0.85);letter-spacing:0.894px">14:00</span>
<span class="t" style="left:1427.70px;top:490.40px;font-size:12.00px;line-height:12.00px;color:rgba(204,204,220,0.85);letter-spacing:0.894px">16:00</span>
<span class="t" style="left:1496.05px;top:490.40px;font-size:12.00px;line-height:12.00px;color:rgba(204,204,220,0.85);letter-spacing:0.894px">18:00</span>
<span class="t" style="left:1564.40px;top:490.40px;font-size:12.00px;line-height:12.00px;color:rgba(204,204,220,0.85);letter-spacing:0.894px">20:00</span>
<span class="t" style="left:1632.75px;top:490.40px;font-size:12.00px;line-height:12.00px;color:rgba(204,204,220,0.85);letter-spacing:0.894px">22:00</span>
<span class="t" style="left:1701.10px;top:490.40px;font-size:12.00px;line-height:12.00px;color:rgba(204,204,220,0.85);letter-spacing:0.894px">00:00</span>
<span class="t" style="left:1769.45px;top:490.40px;font-size:12.00px;line-height:12.00px;color:rgba(204,204,220,0.85);letter-spacing:0.894px">02:00</span>
<div class="b" style="left:1797.50px;top:488.00px;width:7.00px;height:16.00px;background:#181b1f"></div>
<div class="b" style="left:923.90px;top:521.70px;width:13.50px;height:3.50px;background:#e0f9d7;border-radius:1.5px"></div>
<span class="t" style="left:946.00px;top:516.58px;font-size:12.50px;line-height:12.50px;color:#ccccdc;letter-spacing:0.475px">Total</span>
<div class="b" style="left:983.80px;top:521.70px;width:13.50px;height:3.50px;background:#fade2a;border-radius:1.5px"></div>
<span class="t" style="left:1006.50px;top:516.58px;font-size:12.50px;line-height:12.50px;color:#ccccdc;letter-spacing:0.108px">Used</span>
<div class="b" style="left:1046.40px;top:521.70px;width:13.50px;height:3.50px;background:#052b51;border-radius:1.5px"></div>
<span class="t" style="left:1068.80px;top:516.58px;font-size:12.50px;line-height:12.50px;color:#ccccdc;letter-spacing:0.254px">Cache + Buffer</span>
<div class="b" style="left:1166.30px;top:521.70px;width:13.50px;height:3.50px;background:#7eb26d;border-radius:1.5px"></div>
<span class="t" style="left:1188.40px;top:516.58px;font-size:12.50px;line-height:12.50px;color:#ccccdc;letter-spacing:-0.367px">Free</span>
<div class="b" style="left:1224.30px;top:521.70px;width:13.50px;height:3.50px;background:#c4162a;border-radius:1.5px"></div>
<span class="t" style="left:1245.80px;top:516.58px;font-size:12.50px;line-height:12.50px;color:#ccccdc;letter-spacing:0.169px">Swap used</span>
<div class="b" style="left:8.00px;top:552.00px;width:893.00px;height:256.00px;background:#181b1f;border:1px solid rgba(204,204,220,0.12);border-radius:2px"></div>
<span class="t" style="left:17.10px;top:563.20px;font-size:14.00px;line-height:14.00px;color:#ccccdc;letter-spacing:0.784px;-webkit-text-stroke:0.35px #ccccdc">Network Traffic Basic</span>
<svg class="s" style="left:179.90px;top:561.20px;" width="16.00" height="16.00" viewBox="0 0 16.00 16.00"><circle cx="8" cy="8" r="6.20" fill="none" stroke="#a0a1aa" stroke-width="1.4"/><rect x="7.25" y="7.2" width="1.5" height="4" fill="#a0a1aa"/><circle cx="8" cy="5.3" r="0.85" fill="#a0a1aa"/></svg>
<svg class="s" style="left:79.50px;top:601.00px;" width="644.10" height="184.00" viewBox="0 0 644.10 184.00"><line x1="0" y1="16.0" x2="644.1" y2="16.0" stroke="rgba(204,204,220,0.10)"/><line x1="0" y1="60.5" x2="644.1" y2="60.5" stroke="rgba(204,204,220,0.10)"/><line x1="0" y1="105.0" x2="644.1" y2="105.0" stroke="rgba(204,204,220,0.10)"/><line x1="0" y1="149.5" x2="644.1" y2="149.5" stroke="rgba(204,204,220,0.10)"/><line x1="50.8" y1="0" x2="50.8" y2="184.0" stroke="rgba(204,204,220,0.10)"/><line x1="104.5" y1="0" x2="104.5" y2="184.0" stroke="rgba(204,204,220,0.10)"/><line x1="158.3" y1="0" x2="158.3" y2="184.0" stroke="rgba(204,204,220,0.10)"/><line x1="212.0" y1="0" x2="212.0" y2="184.0" stroke="rgba(204,204,220,0.10)"/><line x1="265.7" y1="0" x2="265.7" y2="184.0" stroke="rgba(204,204,220,0.10)"/><line x1="319.4" y1="0" x2="319.4" y2="184.0" stroke="rgba(204,204,220,0.10)"/><line x1="373.2" y1="0" x2="373.2" y2="184.0" stroke="rgba(204,204,220,0.10)"/><line x1="426.9" y1="0" x2="426.9" y2="184.0" stroke="rgba(204,204,220,0.10)"/><line x1="480.6" y1="0" x2="480.6" y2="184.0" stroke="rgba(204,204,220,0.10)"/><line x1="534.4" y1="0" x2="534.4" y2="184.0" stroke="rgba(204,204,220,0.10)"/><line x1="588.1" y1="0" x2="588.1" y2="184.0" stroke="rgba(204,204,220,0.10)"/><line x1="641.8" y1="0" x2="641.8" y2="184.0" stroke="rgba(204,204,220,0.10)"/><path d="M0 98.1l.7-.4 .7 .2 .7-.3 .7 0 .7 .8 .7 .1 .7-1.3 .7 .9 .7 0 .7-1.1 .7 .8 .7-.6 .7 .6 .7-.3 .7 .8 .7-.8 .7-.3 .7 .5 .7-.3 .7 .1 .7 .9 .7-1 .7 .2 .7 .4 .7 .5 .7-1.3 .7 .6 .7-.4 .7-.2 .7 .2 .7-.3 .7 .8 .7-.6 .7 .5 .7-.7 .7 .1 .7 4.6 .7 0 .7-.2 .7-1.3 .7 .9 .2-.3 .5 .6 .7-6 .7-8.3 .1-1.2 .6 7.1 .7 7.8 .7-.5 .7 .4 .7-.5 .7 .2 .7-.3 .7 .6 .7 .9 .7-1.8 .7-3.9 .7 3.9 .7 1.1 .7-.3 .7 .9 .7-1.1 .7 .5 .7 .5 .7-2.5 .7-.5 .7 1.7 .7 1.6 .7-1.2 .7 .7 .7 .4 .7-.2 .7-1.2 .7-8.4 .5-5.9 .2 2.4 .7 8.3 .7 4 .7 .7 .7-1 .7-.2 .7 .9 .7-.9 .7-4.1 .7 0 .7-3.2 .4-.3 .3 4.2 .7-4.6 .7-4.1 .6-10.1 .1 1.7 .7 11.8 .7 .6 .7 .5 .7-3.4 .7 7.1 .1 .1 .6-2.8 .7-11.4 .2-3.2 .5 8.1 .7 5.2 .7-.3 .6 .1 .1-1.2 .7-10.9 .7 10.9 .7 3.7 .7-1.1 .7 1.7 .7-.8 .7 .9 .7-2 .7-.2 .7 1.1 .7 .5 .7 6.2 .7 1 .7-1 .7 .3 .7-3.5 .7-5.7 .7 5.7 .7 3 .7 1.3 .7-.1 .7-1.1 .7-.5 .7 1.2 .7-4.7 .7-.7 .7 4.8 .7 .4 .7 .1 .7-1.6 .7-5.3 .7 2.3 .7 4.5 .7-.7 .7 1.4 .7-7.7 .7 .5 .7-.5 .7-1.5 .7 3.2 .7-2 .7-1.7 .7 .5 .7-14.1 .4-13.1 .3 9.8 .7 20.8 .7-.5 .7 .3 .7 .7 .7-4.6 .7-2.9 .7 3.4 .5 3.8 .2 .5 .7-4.2 .7 .3 .7-1 .7 1.6 .7 .8 .7-1.2 .7-9.7 .4-7.2 .3 5.4 .1 1.8 .6 10.5 .7 1.4 .7-.9 .7 .6 .7 .3 .7-.2 .7-1.2 .3-1.9 .4-4.2 .3-3.9 .4 5.3 .7 6.3 .7-3.5 .7 3.6 .7 .7 .7-1.9 .7-1.2 .7-7.4 .5-8.7 .2 3.5 .7 11.5 .7 2.5 .7-.1 .7-.3 .7-1.7 .7-.5 .7 2.3 .7-3.4 .7 2.9 .7 2.8 .7-1.8 .7-2.1 .7 .3 .7 5 .7 2.2 .7 .1 .7 0 .7 .6 .7 1 .7-1.3 .7 1 .7-.2 .7-.7 .7 .3 .7 .2 .7-1 .7 .6 .7 .5 .7 .1 .7-1.1 .7 .7 .7-.5 .7 .8 .7 .2 .7-.6 .7-.5 .7 1.2 .7-1.1 .7-.3 .7 .2 .7 0 .7 1.5 .7-1.1 .7-.5 .7 1.5 .7-.4 .7 0 .7-.4 .7 .1 .7-.1 .7-.5 .7 1.4 .7-.1 .7-.1 .7 0 .7 .1 .7-1.7 .7 .3 .7-.5 .7-2.5 .7 3.5 .7 .4 .7 0 .7-.6 .7 .1 .7 .5 .7 .3 .7-.3 .7 .4 .7-.8 .7-.3 .7 .6 .7 .6 .7-.2 .7-.4 .7-.4 .7-.3 .7 .7 .7-.7 .7 .3 .7 .3 .7 .1 .7-.2 .7-.4 .7 .5 .7-.4 .7 .4 .7 .4 .7-.6 .7-.3 .7 1.2 .7-.7 .7 0 .7-.8 .7-.1 .7 1 .7-.9 .7 .2 .7 .9 .7-.3 .7 .6 .7-1.3 .7 .3 .7-.4 .7 .2 .7 .2 .7-.1 .7 .3 .7 .8 .7-.9 .7 1.1 .7-.3 .7-1.1 .7 1.3 .7-.1 .7 0 .7-1.4 .7 1.3 .7 .3 .7-1.5 .7 1.3 .7-1.3 .7 .3 .7-.3 .7-.2 .7 .7 .7-.4 .7 1.3 .7-1.3 .7 .5 .7-.4 .7 1.1 .7-1.1 .7-.4 .7 1.6 .7-.5 .7-.4 .7-.5 .7 1.1 .7 .1 .7-.1 .7-.7 .7-.3 .7 .7 .7 0 .7 0 .7 .1 .7-.2 .7 .7 .7-1.3 .7-30.9 .4-17.6 .3 13.2 .7 30.9 .7 4.6 .7-.2 .7 .2 .7 .3 .7 0 .7-.3 .7-.4 .7 1.3 .7 .1 .7-1.1 .7-.3 .7 .7 .7 .1 .7-.5 .7 1 .7-.2 .7 .1 .7-.7 .7 .5 .7 .2 .7-.8 .7-.5 .7 1.2 .7-.8 .7 .6 .7-.8 .7 .4 .7 .6 .7 .1 .7 .4 .7-.9 .7 .2 .7 .4 .7-.3 .7 0 .7-.8 .7 1.1 .7-1.5 .7 .9 .7-.2 .7 .3 .7-.7 .7 0 .7 .5 .7 .1 .7-.4 .7-.2 .7 .8 .7-.6 .7-.4 .7 .9 .7 .4 .7 0 .7-.9 .7 .1 .7-.5 .7 .2 .7 1.1 .7 .1 .7-.2 .7 .2 .7-1 .7-.2 .7-.1 .7 1.1 .7-1.1 .7 1 .7-.2 .7-.5 .7 1.1 .7 0 .7-1.3 .7 1 .7-.1 .7-.4 .7-.8 .7-8.3 .5-5.9 .2 2.4 .7 8.3 .7-12.3 .2-3.8 .3-5.6 .2 3.7 .7 13.2 .7 9.9 .7-.3 .7-.7 .7 1 .7-1.4 .7 0 .7 1.4 .7-1.5 .7-2.1 .7-7.8 .3-3.4 .4 4.5 .7 7.9 .7 1.4 .7-.3 .7 1 .7-.9 .7-.3 .7 .5 .2 .2 .5 .8 .7-.7 .7 .3 .7-.7 .7 .1 .7 .2 .7 .7 .7-.9 .7 .1 .7 .8 .7-1.3 .7 .4 .7 1 .7-1.5 .7 1.4 .7-.3 .7-.7 .7 .2 .7 .1 .7-.2 .7 .4 .7 .2 .7 .3 .7 .2 .7-1.2 .7-.1 .7 .4 .7-.3 .7 .7 .7 .1 .7-.2 .7-.9 .7 1.5 .7-.8 .7 .5 .7-1 .7 .8 .7 0 .7-.1 .7-.3 .7-22.6 .4-13.3 .3 10 .7 23.3 .7 3.1 .7 .3 .7 0 .7-1.2 .7 .1 .7 1 .7 0 .7-.4 .7-.6 .7-.2 .7-6.2 .6-6.4 .1 1.1 .7 7.5 .7 5.2 .7-.6 .7-.1 .7 .6 .7-.1 .7-.9 .7 .8 .7-12.5 .7-12.6 .7 12.6 .7 12.4 .7-.3 .7 0 .7-.1 .7-.7 .7 .6 .7-3.6 .4-2.6 .3 2 .7 4.3 .7-.2 .7 1.3 .7-12 .7-52.5 .3-22.5 .4 30 .7 52.5 .7 4.2 .7-.7 .7 .9 .7-.8 .7-.3 .7 .4 .7-.2 .7-.7 .7 .1 .7 1.4 .7-5.1 .7-4 .7 2.4 .7-3 .7 3.1 .7 .7 .7-1.6 .7-1.7 .7 2.2 .7-2.1 .7 .7 .7 1.8 .7-3.5 .7 2.8 .7 .5 .7 .1 .7-1.4 .7-1.1 .7 1.5 .7 2.2 .7-.4 .7-.8 .7-1.2 .7 7.2 .7 .7 .7 .1 .7 0 .7-.3 .7 .1 .7-.6 .7-.4 .7 .3 .7 .2 .7-.4 .7 .7 .7-.3 .7-.6 .7 .7 .7 .4 .7-1.3 .7 .3 .7 .6 .7 0 .7-.3 .7-.1 .7 .7 .7 .4 .7-.4 .7-1 .7 1.1 .7-.5 .7 .4 .7 0 .7 .1 .7-.4 .7 .4 .7 .3 .7-.2 .7-7.5 .6-6.4 .1 1.1 .7 7.5 .7 4.7 .7 .1 .7-.6 .7 1.2 .7-.6 .7 0 .7 .7 .7-1.7 .7 1.3 .7 .2 .7-.7 .7 .6 .7-.8 .7 .5 .7 .4 .7 .1 .7-1.2 .7 .8 .7-.9 .7 .6 .7-.9 .7 1.2 .7 .1 .7-.1 .7-1 .7 .4 .7 .5 .7 .4 .7-1 .7-.5 .7 .6 .7 1.1 .7-.1 .7-.1 .7-.1 .7 .2 .7 0 .7-1.1 .7-5.4 .7-22.4 .2-6.4 .5 16 .7 18 .7-.3 .7 0 .7 1.6 .7-.4 .7-.6 .7-.6 .7 1.5 .7-.3 .7-1 .7 1.3 .7-.5 .7 .1 .7-.6 .7-.5 .7 1.4 .7-1 .7 0 .7-.2 .7 .5 .7-.7 .7 1 .7 0 .7 .3 .7-1 .7 .5 .7 .4 .7 .2 .7-1 .7 .2 .7-.2 .7 .6 .7-.2 .7-1.8 .7 .4 .7 2.3 .7-.8 .7-.6 .7 .2 .7 1 .7-.2 .7-1.1 .7 .3 .7-.4 .7 0 .7-2.9 .7-10.4 .4-6 .3 4.5 .7 10.4 .7 5.9 .7-.6 .7-1 .7 1.5 .7-.8 .7 .8 .7-.2 .7-7.9 .6-6.8 .1 1.1 .7 8 .7 4.8 .7 .1 .7 1.1 .7-.4 .7-1.3 .7 1.3 .7-.6 .7 .2 .7-.6 .7 .3 .7-.3 .7 .4 .7 .7 .7 0 .7 .2 .7-1.4 .7 1.3 .7 .2 .7-1.7 .7 1.3 .7-1.2 .7 1.4 .7-.6 .7 .4 .7-1.1 .7 .4 .7-.1 .7-.2 .7-.2 .7 1 .7-.5 .7 .3 .7 .6 .7-1.3 .7 .4 .7-.4 .7 1.1 .7-.6 .7 .2 .7-.5 .7 1.2 .7-.5 .7-.3 .7 .8 .7-.9 .7-.3 .7 .5 .7-.4 .7 .1 .7 .7 .7-.2 .7-1.2 .7 1.2 .7-.2 .7 .6 .7-1.6 .7-1.3 .7 1.4 .7 .4 .7-.3 .7-.2 .7 .7 .7-.6 .7 .7 .7 .2 .7-.9 .7 .1 .7-.1 .7 .8 .7-.5 .7 .7 .7-1.1 .7 .1 .7 1.2 .7-1.2 .7 1.4 .7 .1 .7-1.1 .7 .8 .7-.4 .7-.3 .7 1.1 .7-1.2 .7 .8 .7-.3 .7 .2 .7-.7 .7 0 .7 .8 .7 .3 .7-.3 .7-.2 .7 .6 .7-.2 .7-1.1 .7 .1 .7-4.4 .7 .3 .7-1.2 .7 .2 .7 1.3 .7-2.6 .7-1.9 .7 1.9 .7-1 .7-.4 .7-.1 .7-.4 .7 2.4 .7-1.2 .7 2.8 .7-3.8 .7 1.8 .7 .2 .7-2.1 .7 1.3 .6-6.8 .1 1.1 .7 5.9 .7 2.6 .7 .3 .7-1.7 .7 1.8 .7-4.2 .7 3.3 .7-.5 .7-.5 .7-.7 .7 .4 .7-.9 .7-.2 .7 1.1 .7 1.7 .7-4.4 .7 1.4 .7 3.1 .7-1.8 .7-1.6 .7-1.2 .7 4.7 .7 .3 .7-2.4 .7 .3 .7-2.4 .7 .4 .7 2.4 .7-.4 .7-.8 .7-1.5 .7 3.4 .7-1 .7 1.6 .7-2.8 .7 3.1 .7-4.6 .7 2.1 .7-.3 .7 2.5 .7-.8 .7-1.1 .7-2 .7 1.6 .7 1.3 .7-3.5 .7 1.6 .7 .7 .7 1.6 .7-.5 .7-3 .7 3.8 .7-2 .7-.4 .7 1.3 .7 5.4 .7 .6 .7-.9 .7 1.4 .7-.3 .7-.3 .7 .2 .7-.8 .7 0 .7-.2 .7 .6 .7 1 .7-.9 .7 0 .7 .1 .7 .4 .7-.8 .7-.3 .7 1.4 .7-1 .7 .5 .7-.2 .7-.7 .7-.1 .7 .5 .7 .8 .7-1.3 .7 1.4 .7-.4 .7-.8 .7 .9 .7 .1 .7-1.2 .7 0 .7 1.1 .7-.1 .7 .2 .7 .3 .7-.3 .7-1.3 .7 1.7 .7-.3 .7 0 .7-4.1 .7-26.3 .3-11.3 .4 15 .7 26 .7-.4 .7 1.5 .7-.5 .7-1.2 .7 .4 .7-7.5 .5-5.3 .2 2.1 .7 7.5 .7 4.4 .7-.3 .7-1.3 .7-21.9 .7-37.3 .7 37.3 .7 21.8 .7 .6 .7 0 .7 .9 .7 .2 .7-1.3V105 H0 Z" fill="rgba(242,204,12,0.38)"/><path d="M0 110.7l.7 .2 .7-.1 .7-.2 .7-.8 .7-.2 .7 .5 .7-.1 .7-.2 .7 1 .7-1 .7 .9 .7 .2 .7-1.2 .7 1.2 .7-.8 .7-.3 .7 0 .7-.2 .7 .6 .7-.1 .7 .7 .7-.1 .7-1.1 .7 .5 .7 0 .7-.3 .7 .1 .7 0 .7 .6 .7-.5 .7-.3 .7 .1 .7 .4 .7 .1 .7-.4 .7 .6 .7-.7 .7 .7 .7-.1 .7-.6 .7 .8 .2-.5 .5 .2 .7 1.8 .7 .8 .1-.8 .6-2.5 .7 1.1 .7 .1 .7-.6 .7 .2 .7-.5 .7 .9 .7-.3 .7-.7 .7 .9 .7 .3 .7-1 .7 1 .7-.8 .7-.4 .7 .8 .7-.6 .7 .6 .7-.2 .7-.7 .7 .6 .7 .5 .7-.6 .7 .1 .7 .5 .7-.6 .7 0 .7 5.5 .5 6 .2-2.4 .7-8.3 .7-.4 .7-.3 .7-.3 .7 .8 .7 0 .7-.5 .7 10.8 .7-1.4 .7 2 .4 6.7 .3-5 .7-3.6 .7-.5 .6-.9 .1 2.4 .7-5 .7 4.6 .7 2.4 .7-8.5 .7 10.2 .1 1.5 .6-9 .7 4.4 .2-2.2 .5-4.6 .7 5.1 .7-1.6 .6 9.9 .1-1.6 .7-4.1 .7-.2 .7-6.9 .7 2.4 .7-2.2 .7 5.4 .7-5.9 .7-.2 .7 .3 .7 6.7 .7-5.5 .7-6.1 .7-.5 .7 .3 .7 .1 .7 .9 .7-1.2 .7 1.2 .7-.7 .7 0 .7-.3 .7 1 .7-1.1 .7 .6 .7-.1 .7-.5 .7 0 .7 1.2 .7-.3 .7-.1 .7 .3 .7-1.3 .7 1 .7 0 .7-.8 .7 7.1 .7 1.1 .7 1 .7-1.3 .7 4.8 .7-5.4 .7 1.2 .7 3.5 .7 6.8 .4 9.5 .3-7.1 .7-14.2 .7 5.2 .7-.6 .7-4 .7-.4 .7-2.1 .7 7 .5 2.1 .2-2.7 .7-5.7 .7 .4 .7 5.9 .7-6.7 .7 3.8 .7 .6 .7-.9 .4 5.8 .3 5.9 .1 1.9 .6-10.9 .7 .7 .7-3 .7-2.8 .7 5.9 .7-6.4 .7 6.5 .3 4.7 .4-5.5 .3-2.3 .4-4.2 .7 7.8 .7-7.4 .7 1.7 .7 5.8 .7-1.8 .7-.3 .7 1.1 .5 9.4 .2-3.8 .7-13.1 .7 6.7 .7 1.3 .7-8 .7 3.7 .7 4 .7-5.1 .7-.3 .7 4.3 .7-3 .7-8.2 .7-.3 .7 .8 .7-.3 .7 1 .7-1.3 .7 1 .7-.6 .7 .6 .7-.5 .7 .3 .7-.5 .7-.2 .7 .4 .7 .5 .7-.7 .7-.2 .7 .3 .7-.5 .7 .4 .7 .4 .7-.1 .7 .1 .7-.5 .7-.4 .7 0 .7 .5 .7-.2 .7 .6 .7-.5 .7 .7 .7-.2 .7 .1 .7 .1 .7-.3 .7-.2 .7-.1 .7-.4 .7 1.1 .7-.4 .7-.7 .7 1.3 .7-.5 .7 0 .7-.2 .7-.5 .7 1.3 .7-1.2 .7 .2 .7 1 .7-1.3 .7 .5 .7 0 .7-.3 .7 1 .7-.8 .7-.6 .7 .7 .7-.7 .7 1.1 .7 .2 .7 .1 .7-1.3 .7 .9 .7-.5 .7 .2 .7-.2 .7 0 .7-.3 .7 .7 .7-.8 .7 1.3 .7-1.3 .7 1.3 .7-1.1 .7-.2 .7 1 .7-.3 .7 .4 .7-.4 .7 .1 .7-.8 .7 .9 .7-.2 .7 .6 .7-1.4 .7 .1 .7 .9 .7 .4 .7-.8 .7 .5 .7-.3 .7-.2 .7 .1 .7 .2 .7-.9 .7 .5 .7 .6 .7-.7 .7 .3 .7-.3 .7 .1 .7 .5 .7 .1 .7 .3 .7-.7 .7-.4 .7 .2 .7-.4 .7 .3 .7 .5 .7 0 .7-.5 .7-.1 .7-.2 .7 .2 .7 .5 .7-.4 .7 .9 .7-.5 .7-.3 .7 .1 .7-.5 .7 1 .7 0 .7-.6 .7 .6 .7-.7 .7-.1 .7 0 .7 0 .7 .6 .7 .1 .7 .1 .7-.9 .7 .9 .7-.4 .7-.1 .7 .2 .7 5.3 .7 24.8 .4 14.1 .3-10.6 .7-24.8 .7-8.2 .7-1.1 .7 1 .7-.1 .7-.1 .7 .4 .7-1.3 .7 1 .7 .1 .7-1.1 .7 .7 .7 .5 .7-1 .7 .9 .7 .1 .7-.7 .7-.5 .7 .1 .7 .9 .7-.6 .7-.1 .7 .2 .7 .7 .7-1 .7-.4 .7 1.4 .7-.9 .7 .1 .7 .9 .7-1.1 .7-.3 .7 1.2 .7-.9 .7-.1 .7 1.1 .7-1.1 .7 1.1 .7-.9 .7 0 .7-.2 .7 .5 .7 0 .7-.2 .7 .2 .7-.4 .7 .9 .7 .1 .7-.3 .7 .1 .7-1.1 .7 .3 .7-.1 .7-.1 .7 1.3 .7-.1 .7 0 .7-.6 .7-.6 .7 .4 .7-.5 .7 1.3 .7-1 .7 0 .7 1 .7-1.1 .7 1.1 .7-.9 .7 .5 .7-.8 .7 1.1 .7-.7 .7-.1 .7 .5 .7-.1 .7-.5 .7-.2 .7 .7 .5-.9 .2 1.3 .7-.8 .7 13.8 .2 4.1 .3 6.3 .2-4.2 .7-14.6 .7-5.3 .7-.1 .7-.1 .7 .3 .7 .5 .7-.5 .7 .5 .7-.5 .7-.2 .7 8.8 .3 3.8 .4-5 .7-7.5 .7 .2 .7 .5 .7-.7 .7-.1 .7 0 .7-.5 .2 .8 .5-.1 .7 0 .7 0 .7 0 .7 .4 .7-.8 .7 1.2 .7-1.3 .7 1.1 .7-1 .7 .9 .7-.8 .7-.3 .7 .7 .7 .5 .7 0 .7 0 .7 .2 .7-1.4 .7 .5 .7-.4 .7 .9 .7-.4 .7 .4 .7 .1 .7 .3 .7-.5 .7 .3 .7-.5 .7-.7 .7 1.2 .7-1.2 .7 0 .7 1.1 .7-.8 .7 .6 .7-1 .7 .3 .7 .8 .7 2.7 .7 19.2 .4 11 .3-8.3 .7-19.2 .7-5.4 .7-.2 .7 .2 .7-.1 .7-1 .7 .3 .7 .5 .7 .7 .7-1.2 .7 .6 .7 1.6 .6 5.2 .1-.9 .7-6 .7 .2 .7-.8 .7 .9 .7 .1 .7 .1 .7-.9 .7 0 .7 7.6 .7 12.5 .7-12.5 .7-7.4 .7 .2 .7 .2 .7-.5 .7 0 .7 .6 .7 .1 .4-.8 .3-.3 .7 1.3 .7-.3 .7-.2 .7-.3 .7 .8 .3-.8 .4-.3 .7-.1 .7 .3 .7 .4 .7-.4 .7 .9 .7-.4 .7-.3 .7 .3 .7-.1 .7 0 .7-.2 .7 .1 .7-.1 .7 .5 .7-.9 .7 .9 .7-.8 .7 .9 .7-1.2 .7 .6 .7 0 .7 .4 .7-.8 .7 .1 .7-.2 .7 .6 .7 .1 .7-.9 .7 .3 .7 0 .7 1.1 .7-.7 .7 .1 .7-.4 .7 .6 .7 .2 .7-.2 .7-1 .7 .7 .7 0 .7-.6 .7 1.1 .7-.7 .7-.1 .7 .5 .7 0 .7-.2 .7 .6 .7-.5 .7-.3 .7-.4 .7 .7 .7-.3 .7 .3 .7-.3 .7-.5 .7 .1 .7 .1 .7-.1 .7 1.2 .7-.4 .7-.5 .7 .7 .7-.1 .7-.9 .7 1 .7-.8 .7 1.2 .7-1.3 .7 4.3 .6 6.7 .1-1.1 .7-7.9 .7-1.3 .7-.7 .7 .4 .7 .5 .7-1 .7 1.3 .7-.1 .7 .1 .7-.4 .7-.1 .7 .6 .7-1.1 .7 .1 .7-.3 .7 .1 .7 .9 .7-1.1 .7 1 .7-.5 .7 .7 .7-.2 .7-.1 .7 .3 .7-1.2 .7 .3 .7 .2 .7 0 .7 .4 .7 .3 .7-.2 .7 .3 .7-.4 .7-.5 .7 .3 .7 .3 .7 .1 .7-.6 .7-.1 .7 8.2 .7 18.5 .2 5.3 .5-13.2 .7-18.3 .7-.3 .7-.4 .7 .6 .7-.2 .7 .7 .7-.1 .7-.4 .7 .4 .7 0 .7-1.1 .7 1 .7 .1 .7 .2 .7-.4 .7-.5 .7-.3 .7 .7 .7-.7 .7 .8 .7-.2 .7 .3 .7-.7 .7 0 .7 .9 .7-.4 .7-.4 .7 .2 .7-.1 .7 .3 .7-.2 .7-.4 .7 1.1 .7-.2 .7-.2 .7-.7 .7-.1 .7 .8 .7 .1 .7-.2 .7-.7 .7 .8 .7-.3 .7-.2 .7 .3 .7-.2 .7 11.8 .4 6.8 .3-5.1 .7-11.9 .7-1.4 .7 .5 .7-.4 .7-.1 .7 .4 .7-1.3 .7 1.2 .7 3.8 .6 7.2 .1-1.2 .7-8.3 .7-2.5 .7 .6 .7-.4 .7 1 .7-.2 .7-.5 .7 .4 .7-.5 .7 .2 .7-.6 .7 1.1 .7-.2 .7 0 .7-1 .7 1.1 .7-1.2 .7 .8 .7-.1 .7-.6 .7 .5 .7 .7 .7-.4 .7-.4 .7 .7 .7-.7 .7 .8 .7-.7 .7-.5 .7 1.4 .7-1.4 .7 .3 .7 .8 .7-1 .7 .6 .7 .5 .7-.4 .7-.4 .7 .6 .7 .1 .7-.3 .7 0 .7-.4 .7 .1 .7 .9 .7 0 .7-1.5 .7 .3 .7 0 .7 .9 .7-.9 .7 0 .7 .8 .7-.8 .7 1.2 .7-.8 .7 .6 .7-.1 .7-.9 .7 .9 .7-.6 .7-.3 .7-.2 .7 1 .7-.3 .7-.3 .7 .7 .7-.9 .7 .4 .7-.6 .7 .4 .7 .8 .7-.5 .7-.6 .7 .2 .7 .6 .7-.6 .7 .9 .7-1.2 .7 1.2 .7-.4 .7 .3 .7-.7 .7-.4 .7 .2 .7 .6 .7-.9 .7 .2 .7 1 .7 .1 .7 0 .7 0 .7-.5 .7 .5 .7-.3 .7-.2 .7-.2 .7-.6 .7 .1 .7 .3 .7 .3 .7-.5 .7 1.3 .7-.6 .7 .2 .7 .2 .7-1 .7 1 .7 .1 .7-1 .7-.2 .7 1 .7 .1 .7-.1 .7-.6 .7 .3 .7-.7 .6 .2 .1 .2 .7 .5 .7-1 .7 1.3 .7-1.4 .7 1.5 .7-1.1 .7 .8 .7 0 .7 .2 .7-.7 .7 .3 .7-.6 .7 .8 .7-1 .7 1.1 .7-.4 .7-.8 .7 1.3 .7-.9 .7-.4 .7 .3 .7-.4 .7 .4 .7 .7 .7 .4 .7-.6 .7 .4 .7-.1 .7-.1 .7-.5 .7-.2 .7-.2 .7 .6 .7-.5 .7 .8 .7-.6 .7 .4 .7-.1 .7 .1 .7-.7 .7 .2 .7 .6 .7-.7 .7 .7 .7 .4 .7-.8 .7 .8 .7-.5 .7 .5 .7-.6 .7 .3 .7-.1 .7-.7 .7 .5 .7 .1 .7-.2 .7 .3 .7 .4 .7-.2 .7 0 .7-1 .7 .9 .7-.2 .7 .5 .7-1.4 .7 .3 .7 1.2 .7-.9 .7 .5 .7-.2 .7-.3 .7 .1 .7 .1 .7 .7 .7-.7 .7 .4 .7-.7 .7 .6 .7-.2 .7 .2 .7 .2 .7-1.2 .7 1.4 .7-.6 .7-.5 .7 .3 .7-.6 .7 .2 .7 1 .7-.2 .7 .2 .7-1.1 .7 0 .7 .4 .7 .1 .7 .4 .7-.7 .7 .7 .7 6.6 .7 21.4 .3 9.2 .4-12.2 .7-21.4 .7-4.4 .7-.2 .7 .6 .7 .1 .7 .1 .7 3.5 .5 4.9 .2-2 .7-6.9 .7-.4 .7 1.4 .7-.8 .7 24.8 .7 29.9 .7-29.9 .7-25.1 .7 .3 .7 .4 .7-.5 .7 .5 .7 .4V105 H0 Z" fill="rgba(115,191,105,0.38)"/><path d="M0 120.4l.7 1.9 .7-1.7 .7-.1 .7 .9 .7-1.2 .7-.4 .7 1 .7 1.2 .7-1.4 .7-.3 .7 .1 .7 .9 .7-1 .7 .8 .7-.1 .7-1.4 .7 .9 .7 1.5 .7-1.9 .7 1.7 .7-2.1 .7 1.3 .7-.2 .7 .7 .7-2 .7 .4 .7 .8 .7 1.6 .7-1.3 .7 1.1 .7-1 .7 1.4 .7-2.8 .7 2.4 .7-1.8 .7-.1 .7 .9V105 H0 Z" fill="rgba(110,95,170,0.55)"/><path d="M25.9 121.1l.7-8.6 .7-1.2 .7-.4 .7 .5 .2 .9 .5 .2 .7-.8 .7-.6 .1 .6 .6-.6 .7 .2 .7-.8 .7 0 .7 2.1 .7-.4 .7-1.2 .7 .9 .7-1.3 .7 1.7 .7-.5 .7 .3 .7-.7 .7 .1 .7 .8 .7-1.1 .7-.5 .7 .1 .7 1.7 .7-1.4 .7-.5 .7 1.1 .7-.9 .7 .6 .7 .8 .7-1.2 .7 .4 .7 1.2 .5-.2 .2 0 .7-1.8 .7 2 .7-.9 .7-.9 .7 1.9 .7-1.9 .7 1.9 .7-2.1 .7 .1 .7 .8 .4 .3 .3 0 .7 .5 .7-1.6 .6 1.4 .1-.9 .7 1.4 .7-.7 .7 .1 .7-1.2 .7 1.7 .1-1.4 .6-.1 .7 .4 .2 .8 .5-1 .7 .3 .7 .3 .6-.8 .1-.2 .7 .6 .7 .7 .7-.1 .7-1 .7 .9 .7 .4 .7-.3 .7-1.1 .7-.3 .7 2.1 .7-.6 .7-1 .7 1 .7-.3 .7 .1 .7-.6 .7 .7 .7-.7 .7 0 .7-.1 .7 .9 .7 .3 .7-1.3 .7-.4 .7 .4 .7 1.1 .7-.9 .7-.8 .7 1.9 .7-.9 .7-.9 .7 1.5 .7-.5 .7 .8 .7-.1 .7 0 .7 .1 .7-1.1 .7 1 .7-.7 .7 .3 .7-.9 .7 .9 .7-1.2 .4 1.7 .3-1.5 .7 .9 .7 .6 .7-.1 .7 .1 .7-1 .7-.7 .7 2 .5-1.5 .2 1.2 .7-1 .7 .1 .7 .2 .7 0 .7 .5 .7-.4 .7-.9 .4 .8 .3-1 .1 1.7 .6-1.5 .7 .4 .7 .5 .7-.5 .7 1.2 .7-.3 .7-1 .3 .2 .4 .7 .3-.5 .4 .3 .7-.7 .7 .6 .7 0 .7 .7 .7-1.2 .7 1 .7-1.3 .5 .1 .2-.1 .7 1.5 .7-1.8 .7 .4 .7 .4 .7 .6 .7-.1 .7-1.2 .7 .6 .7 .7 .7-1.3 .7 0 .7 1.5 .7-1.8 .7 .2 .7 .2 .7 1.4 .7-1 .7 .1 .7 .3 .7 .8 .7-1.9 .7 .3 .7 .5 .7 .5 .7-1.1 .7 .7 .7 .3 .7-1.2 .7 .6 .7-.6 .7 1.9 .7-2 .7 .4 .7 .9 .7-.8 .7 .8 .7-.5 .7 1.4 .7-.9 .7-.5 .7-.4 .7 .7 .7 .6 .7-.1 .7 0 .7-.5 .7 1 .7-1.2 .7 .3 .7 .9 .7-.4 .7-.7 .7 .7 .7 0 .7-1.1 .7 .3 .7 .8 .7-.9 .7 0 .7 .4 .7-1 .7 .4 .7 1.6 .7-1.7 .7 1.3 .7-1.8 .7 .7 .7 .4 .7-.4 .7 1.4 .7 0 .7-1.4 .7-.4 .7 1.7 .7-.3 .7-.6 .7-1 .7-.1 .7 1.5 .7 0 .7-.5 .7-.3 .7-.1 .7 .2 .7 .1 .7 .4 .7-.4 .7-.2 .7-.2 .7 1 .7 .6 .7-1.7 .7 1.3 .7-.3 .7-.9 .7-.2 .7 1.5 .7-1.5 .7 0 .7-.1 .7 1.6 .7-1 .7-.8 .7 .6 .7 .5 .7-.1 .7-.7 .7 1.6 .7-.4 .7-.9 .7 .1 .7-.1 .7-.6 .7 1.3 .7-.7 .7 .9 .7 .3 .7-1.1 .7-.1 .7 .2 .7 .2 .7-.9 .7 .8 .7-.2 .7-.5 .7 1.6 .7-.3 .7-.4 .7-.9 .7 1.4 .7-.8 .7 1.1 .7-.5 .7-.9 .7 1.2 .7-.4 .7-.5 .7 .9 .7-1 .7-.4 .7-.2 .7 1.2 .7-.7 .7-.3 .7-.2 .7 1.6 .7-1.1 .7 1.3 .7 .1 .7-.2 .7-1.3 .4 1.6 .3-.7 .7 .5 .7 .1 .7-1.3 .7 .1 .7 1.2 .7-1.4 .7-.4 .7-.1 .7 1.1 .7-.5 .7 1.4 .7-2.1 .7 .9 .7 .7 .7-.3 .7 .5 .7-.4 .7 .5 .7 .2 .7-.2 .7-.6 .7-.4 .7 .3 .7-.7 .7 .1 .7 .5 .7-.1 .7-.1 .7-.7 .7 2 .7-1.5 .7 .4 .7-.3 .7 .4 .7 .5 .7 .4 .7-.8 .7 .8 .7-1.3 .7 .2 .7-.3 .7 1.4 .7-1.8 .7 .2 .7 1.2 .7-1.2 .7-.4 .7 .7 .7 .2 .7 0 .7-.5 .7 .3 .7-.2 .7-.2 .7 .7 .7-.6 .7-.1 .7 1.6 .7 0 .7-1.2 .7 .4 .7-1 .7-.2 .7 1.1 .7 1 .7-1.9 .7 .8 .7 .7 .7-1.7 .7 1.3 .7-.7 .7 1.1 .7 .1 .7 .1 .7-.2 .7-1.5 .7 1.2 .7-.2 .5-.5 .2-.3 .7 .6 .7-.1 .2 0 .3 1.2 .2-1.6 .7 1.4 .7-1.6 .7 1.2 .7-.5 .7-.1 .7 .2 .7-.8 .7 .2 .7 .4 .7-.5 .7 1.5 .3-.4 .4-.1 .7 .1 .7-1.1 .7-.4 .7 .2 .7 1.7 .7-.8 .7 1 .2-1.4 .5 .1 .7 .6 .7 .5 .7-1 .7 .2 .7-.3 .7-.3 .7 1.5 .7 0 .7-1 .7-.7 .7 1.6 .7-.9 .7 .6 .7-.7 .7-.7 .7 1.4 .7-1.4 .7 1.9 .7-1.7 .7 .4 .7-.8 .7 .5 .7 .9 .7-1.2 .7 .1 .7-.2 .7-.1 .7 1.1 .7-.6 .7 1.2 .7-.2 .7-.4 .7 .9 .7 .1 .7-1.4 .7 1 .7-.2 .7-1.1 .7 1.3 .7-1.6 .4 1.4 .3 .5 .7-.6 .7 .1 .7-.1 .7-.5 .7-.7 .7 .6 .7-.1 .7 1.1 .7 .1 .7 .2 .7-1.4 .7 1.3 .6 0 .1-2 .7 1.2 .7-1 .7 0 .7 .8 .7 .6 .7-1.2 .7 .3 .7 .4 .7 .1 .7-.9 .7 .1 .7-.4 .7 .7 .7 1.5 .7-1.8 .7 1.3 .7-.3 .7 .5 .4-.1 .3-1.7 .7 .6 .7 1.1 .7-.4 .7-.9 .7 21 .3 9 .4-12 .7-21 .7 3.8 .7-.5 .7 .4 .7-1.1 .7 2 .7-.2 .7-.5 .7 0 .7 .2 .7-.6 .7-.5 .7 .9 .7 .8 .7-.3 .7-.1 .7-1.4 .7 .3 .7-.1 .7 .6 .7 .8 .7-.6 .7-.1 .7-.4 .7-.5 .7 .2 .7 1.6 .7-.2 .7-.6 .7 .1 .7-1 .7-.4 .7 0 .7-.1 .7 .4 .7 1.8 .7-.9 .7-.8 .7-.3 .7-.2 .7 0 .7 .3 .7 .4 .7-.4 .7 .2 .7 .9 .7-1.1 .7 0 .7 1.4 .7-1.1 .7 .8 .7-.8 .7 .9 .7-1.5 .7 .6 .7 1.3 .7-1.3 .7 .8 .7-.9 .7-.3 .7 .7 .7 .1 .7-.9 .7 1.1 .7-.3 .7-.1 .7 .9 .7 .3 .7-1.1 .7-.2 .6 1 .1 0 .7-.6 .7 .3 .7-.6 .7 .8 .7-.3 .7 .6 .7-1.2 .7-.6 .7 1.8 .7-.6 .7 .5 .7-.2 .7 .1 .7-.9 .7 1.1 .7-.5 .7-.5 .7-.5 .7-.2 .7 .3 .7 .2 .7 0 .7 .7 .7 .7 .7-.9 .7 .3 .7-1.5 .7 1.5 .7-.3 .7 .5 .7-.9 .7 .6 .7-.3 .7 .6 .7-.7 .7 .8 .7 .1 .7-.7 .7-.1 .7 .5 .7-.5 .2 1 .5 0 .7-1 .7 .4 .7-1.3 .7 1.8 .7-.6 .7-1.3 .7-.1 .7 1.9 .7-.2 .7-.3 .7-.5 .7-.4 .7 .6 .7 .9 .7-.6 .7-1.3 .7 .4 .7-.3 .7 1.7 .7 0 .7 .1 .7-1.1 .7-.2 .7-.6 .7 .5 .7 .2 .7 .1 .7-.2 .7 .9 .7 .3 .7-1.1 .7 1 .7-1.2 .7 0 .7 1.2 .7-1.6 .7 0 .7 2 .7-1.2 .7-.1 .7 .8 .7 .3 .7-1.2 .7 1 .7-1.5 .7 1.7 .7-1.1 .4-.1 .3-.8 .7 .2 .7 .7 .7-.6 .7 1.2 .7 .7 .7-1.6 .7 1.1 .7-.4 .7 .1 .6 .3 .1-.6 .7 .7 .7-1.5 .7 1.2 .7-.3 .7-.8 .7 .1 .7 1.6 .7-.7 .7-.3 .7 0 .7 .8 .7-.5 .7-.9 .7 1.6 .7-.2 .7-.2 .7-.1 .7-.1 .7-.8 .7 1.5 .7-.6 .7-1.2 .7 1.4 .7-.9 .7-.8 .7 1.8 .7-1.4 .7 .4 .7-.7 .7 .9 .7 .1 .7 .6 .7 .3 .7-.2 .7-.4 .7-.6 .7 1.2 .7-1.6 .7 .2 .7 .5 .7-.4 .7 .4 .7-.9 .7 .2 .7-.5 .7 .9 .7-.4 .7 1.3 .7-1.2 .7-.2 .7 1.2 .7-1.2 .7 1.4 .7-.6 .7-.9 .7 1.2 .7 .7 .7-1.5 .7 .5 .7 0 .7 .9 .7 .1 .7-2.1 .7 .7 .7 1 .7-.9 .7 .2 .7 .1 .7-1.2 .7 .1 .7 1.9 .7-1.1 .7 .1 .7 .2 .7 .5 .7 .3 .7-1.8 .7 1.2 .7-1.4 .7 1.2 .7 .6 .7-.7 .7-.3 .7 1.1 .7-.4 .7 .5 .7-.8 .7-.5 .7 .8 .7-.4 .7-1.1 .7 .3 .7 1.8 .7-.7 .7-1.3 .7 1.6 .7 0 .7-1.6 .7 2.1 .7-1.8 .7 .7 .7 .5 .7-.5 .7-.3 .7 .3 .7 .3 .7 .7 .7-.2 .7 .3 .7-.4 .7-.8 .7-.2 .7 1.2 .7 0 .7-1.3 .7 1 .7-.9 .6-.7 .1 .9 .7 1 .7-.8 .7 .6 .7 .1 .7-.1 .7-1.1 .7 1.3 .7-1.8 .7 .9 .7-.9 .7 .6 .7 1.1 .7-.1 .7 .4 .7-1 .7-.1 .7-.7 .7 .7 .7 .9 .7-1.3 .7 1.2 .7-1.2 .7 1.1 .7-1.4 .7 1.7 .7-1.8 .7-.1 .7 1.1 .7 .4 .7-.1 .7-.7 .7 .7 .7-1.2 .7 .3 .7-.1 .7-.1 .7-.4 .7 .4 .7 .7 .7 .1 .7-.6 .7 .6 .7-.6 .7 1.1 .7-1.8 .7 1.7 .7 .3 .7-.7 .7 .1 .7 .8 .7-1.9 .7-.1 .7 .9 .7 .5 .7-.4 .7-.1 .7-.1 .7 0 .7 .9 .7-1.7 .7 1.2 .7-1.2 .7 1.7 .7-1.3 .7 1.2 .7-1.1 .7 .7 .7-.3 .7 1 .7-1.1 .7 .1 .7 0 .7-.5 .7 1.5 .7-1.3 .7-.5 .7 .2 .7 1.1 .7 .4 .7-.7 .7 .8 .7-1.6 .7 1.4 .7-.2 .7-1.2 .7-.3 .7 .7 .7 0 .7 .2 .7 .5 .7-1.1 .7 .1 .7 .1 .7-.3 .7 .6 .7 .3 .7-.7 .7-.3 .7 1.3 .7-1.4 .3 1.7 .4-.5 .7-.9 .7-.5 .7 1.9 .7-1.9 .7 1.7 .7-.5 .7 .3 .5-1.1 .2 1.2 .7-1 .7 .7 .7 .8 .7-.8 .7-.9 .7 .1 .7 .4 .7 .9 .7 0 .7-.9 .7 .4 .7-.5 .7 .3V105 H25.9 Z" fill="rgba(120,140,150,0.28)"/><path d="M0 99.4l.7 .3 .7 0 .7 .3 .7 1 .7-1 .7 .2 .7 .2 .7-.1 .7 .5 .7 .2 .7-1.4 .7 1.1 .7 .5 .7-1.8 .7 1 .7-.4 .7 .7 .7 .4 .7-.4 .7-1 .7 1.2 .7-1.3 .7 1.2 .7-1.2 .7 1.4 .7-.5 .7 .6 .7 0 .7-.7 .7 .3 .7-.4 .7 .7 .7-.2 .7 0 .7-1.2 .7 1.6 .7-.6 .7-.9 .7 .6 .7 .6 .7-1.5 .2 1.8 .5-.1 .7 .3 .7-.9 .1-.8 .6 1.1 .7 0 .7-1 .7 1.4 .7 .2 .7-1.3 .7 1.1 .7-.9 .7 .8 .7-.9 .7-.5 .7 .8 .7 .4 .7-.7 .7-.2 .7 1.3 .7-.4 .7-.3 .7-.2 .7 .5 .7-.8 .7 .8 .7-1.3 .7 1.1 .7 .3 .7 .2 .7-.1 .7-.1 .5-1.4 .2 1 .7-.1 .7-1 .7 0 .7 .4 .7 1 .7-.2 .7-.3 .7 .5 .7-.2 .7 .3 .4-.1 .3-1 .7 .3 .7 .3 .6 0 .1-.3 .7-.2 .7 1.4 .7-1.7 .7 .8 .7 .2 .1-1.2 .6 .4 .7 .8 .2 .7 .5-.9 .7 0 .7 .2 .6 .5 .1-1 .7 .7 .7-1 .7 .4 .7 .5 .7-1.1 .7 .8 .7 .7 .7-.4 .7 .5 .7-.8 .7-.9 .7-.1 .7 .6 .7 1 .7-.2 .7 .1 .7-.3 .7-.6 .7 1.3 .7-1 .7 .1 .7-.4 .7-.4 .7 .9 .7-.4 .7 .7 .7-.4 .7-.4 .7 1.2 .7-.9 .7 0 .7 .6 .7-.1 .7-1.1 .7 .9 .7 .3 .7-.2 .7-.4 .7 .2 .7 .1 .7 .1 .7 .2 .7-.6 .7-.2 .4 1 .3-1 .7 .6 .7-1.4 .7 .1 .7 1.6 .7-1.1 .7 .7 .7 .5 .5-1.6 .2 0 .7 .2 .7 .3 .7-.7 .7 .9 .7-.3 .7 .1 .7-.4 .4 0 .3 1.1 .1 .2 .6-.7 .7-.1 .7 .5 .7-1 .7 0 .7 .3 .7 .3 .3-.3 .4 1 .3-1.2 .4 1.3 .7-1.5 .7 .5 .7 .7 .7 .2 .7-.8 .7 .3 .7-.5 .5 1.2 .2-1.6 .7 .9 .7 0 .7-.6 .7 .3 .7 .3 .7 .3 .7-.3 .7 .8 .7-.4 .7-1.2 .7 1.5 .7 0 .7-1.5 .7 1 .7-.4 .7-.1 .7-.2 .7 .8 .7-.9 .7 1.5 .7-1.7 .7 1.1 .7-.7 .7 .7 .7-.9 .7 .7 .7-.4 .7 .6 .7-1.1 .7 .1 .7 1.2 .7-1.1 .7-.4 .7 1.4 .7 .1 .7-1.5 .7 0 .7 1.6 .7-1.3 .7-.3 .7 1.4 .7-1.1 .7 1 .7-1 .7 .6 .7 .1 .7 .7 .7-1.1 .7-.1 .7 .8 .7 .5 .7-.1 .7-.3 .7-1.5 .7 .5 .7-.3 .7 .3 .7 1.2 .7-.5 .7-1.1 .7 .2 .7-.3 .7 .4 .7 .2 .7-.1 .7-.3 .7 .9 .7 .8 .7-.5 .7 .6 .7-.5 .7-.7 .7 .6 .7 .1 .7 .3 .7-.5 .7-.3 .7-.2 .7-.7 .7 1.8 .7-.4 .7 .3 .7-1.7 .7 .6 .7 0 .7-.3 .7 1.6 .7-1.8 .7 1.1 .7-.6 .7 .5 .7-.7 .7 .9 .7 0 .7 .1 .7-.9 .7 .5 .7 .6 .7-.4 .7-.4 .7 .4 .7-.5 .7-.5 .7 .4 .7-.3 .7 1 .7-1.1 .7-.2 .7 .8 .7 1.1 .7-.2 .7-1.3 .7-.2 .7 .3 .7 .4 .7-.1 .7 .9 .7-1 .7-.8 .7 1.6 .7-.8 .7-.5 .7 .4 .7 .6 .7 .2 .7-1 .7-.4 .7 .1 .7 1 .7-.7 .7-.1 .7 .8 .7-.7 .7 .7 .7 .4 .7 .4 .7-1.4 .7-.1 .7 1.4 .7 0 .7-.5 .7 .2 .7-1.1 .7 1.1 .7-.8 .7 .1 .7 .4 .7-1 .7 .8 .7-.1 .7-.3 .4 .5 .3 .4 .7-1.5 .7 .4 .7 .4 .7 .1 .7-.2 .7 .6 .7 .5 .7-1 .7-.7 .7 1.6 .7-1.8 .7 1.3 .7-1.3 .7 .5 .7 1 .7 .1 .7-1.4 .7-.2 .7 .4 .7 .4 .7 .1 .7-.5 .7 0 .7-.1 .7 1.1 .7-1.1 .7-.2 .7 .8 .7 1.1 .7-.4 .7-.9 .7 .4 .7-.9 .7 .5 .7-.1 .7 1.1 .7-.7 .7-.4 .7-.4 .7 0 .7 1.3 .7-.5 .7-1 .7 1.8 .7 .1 .7-.3 .7-1.1 .7 .8 .7-.7 .7-.3 .7 .1 .7 1.5 .7-1.3 .7-.2 .7 .2 .7-.3 .7 .1 .7 .4 .7-.5 .7 .6 .7 .9 .7-.4 .7-1.3 .7 1.2 .7-.2 .7-.8 .7 .3 .7-.2 .7 .7 .7-.1 .7 .8 .7-.2 .7 .1 .7-.8 .7 0 .7 1 .7-1.2 .7 1.1 .5-.6 .2 .7 .7-.9 .7 .7 .2-1.6 .3 1.2 .2-1 .7 .8 .7 .2 .7-1 .7 1.2 .7-.5 .7-.3 .7-.7 .7 .6 .7 1.3 .7-.8 .7-1 .3 .2 .4 1 .7 .4 .7-.2 .7-1 .7 1.1 .7-1.4 .7 1.3 .7-.9 .2 0 .5 .9 .7-.5 .7-.3 .7 .8 .7-.6 .7-.2 .7-.6 .7 1.3 .7 .3 .7-.7 .7-.2 .7 .2 .7-.8 .7 1.4 .7-.6 .7 .1 .7 .5 .7-.5 .7 0 .7 .1 .7-.7 .7-.5 .7 .1 .7 1.5 .7-.3 .7-1.2 .7 1.7 .7 0 .7 .1 .7-1.8 .7 .9 .7 .1 .7 .7 .7-1.6 .7-.2 .7 .6 .7-.4 .7 .7 .7 .5 .7 .2 .7-.2 .4 .3 .3-.4 .7 .6 .7 0 .7-1.7 .7 .1 .7 .1 .7 .9 .7-.2 .7-.2 .7-.5 .7 1 .7-.4 .7-.1 .6-.6 .1 1 .7 .7 .7-.8 .7-1 .7 1.5 .7-1 .7 1 .7-.2 .7-.7 .7 1 .7-.7 .7-.3 .7 .4 .7-.7 .7-.2 .7 1.1 .7-.9 .7 0 .7 .3 .4 0 .3 .1 .7-.4 .7 .1 .7 .9 .7-.8 .7-.1 .3 .5 .4-.9 .7 1.2 .7-.5 .7 0 .7-.1 .7 .8 .7-.9 .7 1.1 .7-.9 .7 .2 .7-.5 .7-.3 .7-.3 .7 1.5 .7-1.3 .7 .9 .7-.1 .7 .9 .7-1.6 .7 1.2 .7-.1 .7 0 .7 .1 .7-.1 .7 0 .7-.5 .7 .4 .7-.8 .7-.4 .7 0 .7 1.1 .7-.6 .7-.1 .7 .1 .7 .6 .7 .4 .7-1.1 .7 .2 .7 .6 .7-.6 .7 1.2 .7-1.5 .7-.2 .7-.1 .7 1.7 .7-1.2 .7-.2 .7 1.3 .7-.9 .7 .8 .7 0 .7 .3 .7-.5 .7-1.1 .7 .5 .7-.4 .7-.3 .7 1.6 .7-1.4 .7-.1 .7 .5 .7 .6 .7 .3 .7-.5 .7 .2 .7 .2 .7-.8 .7 0 .7 .8 .7 .2 .7-.7 .6-.4 .1 .1 .7 0 .7-.5 .7 .3 .7 .6 .7-.6 .7 .2 .7 .6 .7 .4 .7-.5 .7-.6 .7-.1 .7 .9 .7-.5 .7 1 .7-1.1 .7 .3 .7-.6 .7-.2 .7 1.6 .7-1.8 .7 1.6 .7-1.6 .7-.1 .7 1.6 .7-.2 .7 .3 .7-1.5 .7 .3 .7-.4 .7 .3 .7 .9 .7-.8 .7 .8 .7 0 .7-.2 .7-.5 .7 .8 .7-.5 .7 0 .7-.5 .7 .7 .2 .1 .5-.3 .7 .2 .7-.6 .7 1.3 .7-.2 .7 .3 .7-.7 .7-.9 .7 .5 .7-.1 .7-.6 .7 .3 .7 1 .7 .2 .7-.7 .7 .6 .7-.7 .7 1 .7-.6 .7-.6 .7 .9 .7 .2 .7-1.2 .7 1.1 .7-1.4 .7 .6 .7-.6 .7 .7 .7 .1 .7 .5 .7 .4 .7-1.8 .7 1.5 .7 .2 .7-1.7 .7 .8 .7-.1 .7-.6 .7 .3 .7 1 .7-.1 .7-.7 .7-.1 .7 .9 .7 0 .7-.5 .7 .9 .7-1.5 .4 .3 .3 1 .7-.9 .7 0 .7 1 .7-.7 .7-.7 .7 .7 .7-.6 .7 1 .7-1.5 .6 .7 .1 .2 .7 1.1 .7-.7 .7 .7 .7-.9 .7 .5 .7-.1 .7-.1 .7 .3 .7-.3 .7-.4 .7 .7 .7-.8 .7-.8 .7 .5 .7-.5 .7 1.7 .7-1.1 .7 .8 .7-1.4 .7 .9 .7-.4 .7-.2 .7 1.3 .7 .1 .7-1.4 .7 0 .7 .7 .7 .9 .7 0 .7-1.6 .7 .2 .7 .7 .7-.7 .7-.2 .7 1.6 .7-1.5 .7-.5 .7 .3 .7-.1 .7 .9 .7-.3 .7 1 .7-1.4 .7 .3 .7 .5 .7 .7 .7-.3 .7-.4 .7-1 .7 .9 .7-.8 .7 1.3 .7-.1 .7 0 .7-.1 .7-1 .7 .9 .7 .1 .7-.8 .7 .5 .7-.9 .7 .4 .7-.3 .7 .8 .7 .1 .7-.1 .7-1.1 .7 .1 .7 .8 .7 .1 .7 .9 .7-1.6 .7 .5 .7 .4 .7 .5 .7-.6 .7-.5 .7 .9 .7 0 .7-.5 .7 0 .7 1 .7-.1 .7-.6 .7-.7 .7 .6 .7 .8 .7-.5 .7 .1 .7-1.1 .7 1 .7-1.5 .7 1.4 .7 .2 .7 .4 .7-1 .7 0 .7-.6 .7 .3 .7 .2 .7 1 .7-1.8 .7 1.4 .7 0 .7 .2 .7-.9 .7-.1 .7 .7 .7 .1 .7 .5 .7-1.2 .7-.2 .7 1.2 .7-.3 .7-1 .7 .1 .7 1.1 .6-1.7 .1 .6 .7 0 .7 .8 .7-1.3 .7 1 .7-.4 .7-.7 .7 .3 .7 1.3 .7 .1 .7-.1 .7 .2 .7-1.6 .7 .7 .7 .1 .7 .3 .7-.3 .7 .1 .7-.6 .7 .7 .7-.9 .7 0 .7 0 .7 .2 .7 1.2 .7-.5 .7-.9 .7 1 .7-.4 .7 .7 .7-1.2 .7 .9 .7 0 .7-.9 .7 1.4 .7 .2 .7-.8 .7-.1 .7 .7 .7-.6 .7-.7 .7-.3 .7 0 .7 .2 .7 1.5 .7-.6 .7-.2 .7 .8 .7-1.5 .7 1 .7-1 .7 .2 .7 .9 .7-.2 .7-.2 .7 .5 .7 .4 .7-.8 .7 .3 .7 0 .7-1.1 .7 .1 .7 .7 .7 .8 .7-1.5 .7 1 .7 .3 .7-1.3 .7-.3 .7 1.3 .7-.6 .7-.7 .7 .8 .7 .3 .7 .4 .7 .2 .7-1.7 .7 .2 .7 1.2 .7-.9 .7 .9 .7-1.1 .7 .7 .7-.6 .7 .3 .7 .9 .7-.9 .7-.2 .7 1.2 .7 0 .7-.4 .7-.9 .7-.6 .7 1.1 .7-.8 .7 .3 .7 .9 .7-.4 .7-.8 .7 .7 .7 0 .3-.4 .4 1.1 .7-.6 .7-.1 .7-.1 .7-.3 .7 .9 .7-.4 .7 0 .5 .7 .2-1.4 .7-.3 .7 .8 .7 .3 .7 .1 .7-.2 .7 .2 .7 .2 .7-1.4 .7 1.2 .7 .3 .7-.9 .7 1.3 .7-.7V105 H0 Z" fill="rgba(255,120,10,0.26)"/><rect x="0" y="95.5" width="26.0" height="9" fill="rgba(100,190,200,0.25)"/><path d="M0 110.7l.7 .2 .7-.1 .7-.2 .7-.8 .7-.2 .7 .5 .7-.1 .7-.2 .7 1 .7-1 .7 .9 .7 .2 .7-1.2 .7 1.2 .7-.8 .7-.3 .7 0 .7-.2 .7 .6 .7-.1 .7 .7 .7-.1 .7-1.1 .7 .5 .7 0 .7-.3 .7 .1 .7 0 .7 .6 .7-.5 .7-.3 .7 .1 .7 .4 .7 .1 .7-.4 .7 .6 .7-.7 .7 .7 .7-.1 .7-.6 .7 .8 .2-.5 .5 .2 .7 1.8 .7 .8 .1-.8 .6-2.5 .7 1.1 .7 .1 .7-.6 .7 .2 .7-.5 .7 .9 .7-.3 .7-.7 .7 .9 .7 .3 .7-1 .7 1 .7-.8 .7-.4 .7 .8 .7-.6 .7 .6 .7-.2 .7-.7 .7 .6 .7 .5 .7-.6 .7 .1 .7 .5 .7-.6 .7 0 .7 5.5 .5 6 .2-2.4 .7-8.3 .7-.4 .7-.3 .7-.3 .7 .8 .7 0 .7-.5 .7 10.8 .7-1.4 .7 2 .4 6.7 .3-5 .7-3.6 .7-.5 .6-.9 .1 2.4 .7-5 .7 4.6 .7 2.4 .7-8.5 .7 10.2 .1 1.5 .6-9 .7 4.4 .2-2.2 .5-4.6 .7 5.1 .7-1.6 .6 9.9 .1-1.6 .7-4.1 .7-.2 .7-6.9 .7 2.4 .7-2.2 .7 5.4 .7-5.9 .7-.2 .7 .3 .7 6.7 .7-5.5 .7-6.1 .7-.5 .7 .3 .7 .1 .7 .9 .7-1.2 .7 1.2 .7-.7 .7 0 .7-.3 .7 1 .7-1.1 .7 .6 .7-.1 .7-.5 .7 0 .7 1.2 .7-.3 .7-.1 .7 .3 .7-1.3 .7 1 .7 0 .7-.8 .7 7.1 .7 1.1 .7 1 .7-1.3 .7 4.8 .7-5.4 .7 1.2 .7 3.5 .7 6.8 .4 9.5 .3-7.1 .7-14.2 .7 5.2 .7-.6 .7-4 .7-.4 .7-2.1 .7 7 .5 2.1 .2-2.7 .7-5.7 .7 .4 .7 5.9 .7-6.7 .7 3.8 .7 .6 .7-.9 .4 5.8 .3 5.9 .1 1.9 .6-10.9 .7 .7 .7-3 .7-2.8 .7 5.9 .7-6.4 .7 6.5 .3 4.7 .4-5.5 .3-2.3 .4-4.2 .7 7.8 .7-7.4 .7 1.7 .7 5.8 .7-1.8 .7-.3 .7 1.1 .5 9.4 .2-3.8 .7-13.1 .7 6.7 .7 1.3 .7-8 .7 3.7 .7 4 .7-5.1 .7-.3 .7 4.3 .7-3 .7-8.2 .7-.3 .7 .8 .7-.3 .7 1 .7-1.3 .7 1 .7-.6 .7 .6 .7-.5 .7 .3 .7-.5 .7-.2 .7 .4 .7 .5 .7-.7 .7-.2 .7 .3 .7-.5 .7 .4 .7 .4 .7-.1 .7 .1 .7-.5 .7-.4 .7 0 .7 .5 .7-.2 .7 .6 .7-.5 .7 .7 .7-.2 .7 .1 .7 .1 .7-.3 .7-.2 .7-.1 .7-.4 .7 1.1 .7-.4 .7-.7 .7 1.3 .7-.5 .7 0 .7-.2 .7-.5 .7 1.3 .7-1.2 .7 .2 .7 1 .7-1.3 .7 .5 .7 0 .7-.3 .7 1 .7-.8 .7-.6 .7 .7 .7-.7 .7 1.1 .7 .2 .7 .1 .7-1.3 .7 .9 .7-.5 .7 .2 .7-.2 .7 0 .7-.3 .7 .7 .7-.8 .7 1.3 .7-1.3 .7 1.3 .7-1.1 .7-.2 .7 1 .7-.3 .7 .4 .7-.4 .7 .1 .7-.8 .7 .9 .7-.2 .7 .6 .7-1.4 .7 .1 .7 .9 .7 .4 .7-.8 .7 .5 .7-.3 .7-.2 .7 .1 .7 .2 .7-.9 .7 .5 .7 .6 .7-.7 .7 .3 .7-.3 .7 .1 .7 .5 .7 .1 .7 .3 .7-.7 .7-.4 .7 .2 .7-.4 .7 .3 .7 .5 .7 0 .7-.5 .7-.1 .7-.2 .7 .2 .7 .5 .7-.4 .7 .9 .7-.5 .7-.3 .7 .1 .7-.5 .7 1 .7 0 .7-.6 .7 .6 .7-.7 .7-.1 .7 0 .7 0 .7 .6 .7 .1 .7 .1 .7-.9 .7 .9 .7-.4 .7-.1 .7 .2 .7 5.3 .7 24.8 .4 14.1 .3-10.6 .7-24.8 .7-8.2 .7-1.1 .7 1 .7-.1 .7-.1 .7 .4 .7-1.3 .7 1 .7 .1 .7-1.1 .7 .7 .7 .5 .7-1 .7 .9 .7 .1 .7-.7 .7-.5 .7 .1 .7 .9 .7-.6 .7-.1 .7 .2 .7 .7 .7-1 .7-.4 .7 1.4 .7-.9 .7 .1 .7 .9 .7-1.1 .7-.3 .7 1.2 .7-.9 .7-.1 .7 1.1 .7-1.1 .7 1.1 .7-.9 .7 0 .7-.2 .7 .5 .7 0 .7-.2 .7 .2 .7-.4 .7 .9 .7 .1 .7-.3 .7 .1 .7-1.1 .7 .3 .7-.1 .7-.1 .7 1.3 .7-.1 .7 0 .7-.6 .7-.6 .7 .4 .7-.5 .7 1.3 .7-1 .7 0 .7 1 .7-1.1 .7 1.1 .7-.9 .7 .5 .7-.8 .7 1.1 .7-.7 .7-.1 .7 .5 .7-.1 .7-.5 .7-.2 .7 .7 .5-.9 .2 1.3 .7-.8 .7 13.8 .2 4.1 .3 6.3 .2-4.2 .7-14.6 .7-5.3 .7-.1 .7-.1 .7 .3 .7 .5 .7-.5 .7 .5 .7-.5 .7-.2 .7 8.8 .3 3.8 .4-5 .7-7.5 .7 .2 .7 .5 .7-.7 .7-.1 .7 0 .7-.5 .2 .8 .5-.1 .7 0 .7 0 .7 0 .7 .4 .7-.8 .7 1.2 .7-1.3 .7 1.1 .7-1 .7 .9 .7-.8 .7-.3 .7 .7 .7 .5 .7 0 .7 0 .7 .2 .7-1.4 .7 .5 .7-.4 .7 .9 .7-.4 .7 .4 .7 .1 .7 .3 .7-.5 .7 .3 .7-.5 .7-.7 .7 1.2 .7-1.2 .7 0 .7 1.1 .7-.8 .7 .6 .7-1 .7 .3 .7 .8 .7 2.7 .7 19.2 .4 11 .3-8.3 .7-19.2 .7-5.4 .7-.2 .7 .2 .7-.1 .7-1 .7 .3 .7 .5 .7 .7 .7-1.2 .7 .6 .7 1.6 .6 5.2 .1-.9 .7-6 .7 .2 .7-.8 .7 .9 .7 .1 .7 .1 .7-.9 .7 0 .7 7.6 .7 12.5 .7-12.5 .7-7.4 .7 .2 .7 .2 .7-.5 .7 0 .7 .6 .7 .1 .4-.8 .3-.3 .7 1.3 .7-.3 .7-.2 .7-.3 .7 .8 .3-.8 .4-.3 .7-.1 .7 .3 .7 .4 .7-.4 .7 .9 .7-.4 .7-.3 .7 .3 .7-.1 .7 0 .7-.2 .7 .1 .7-.1 .7 .5 .7-.9 .7 .9 .7-.8 .7 .9 .7-1.2 .7 .6 .7 0 .7 .4 .7-.8 .7 .1 .7-.2 .7 .6 .7 .1 .7-.9 .7 .3 .7 0 .7 1.1 .7-.7 .7 .1 .7-.4 .7 .6 .7 .2 .7-.2 .7-1 .7 .7 .7 0 .7-.6 .7 1.1 .7-.7 .7-.1 .7 .5 .7 0 .7-.2 .7 .6 .7-.5 .7-.3 .7-.4 .7 .7 .7-.3 .7 .3 .7-.3 .7-.5 .7 .1 .7 .1 .7-.1 .7 1.2 .7-.4 .7-.5 .7 .7 .7-.1 .7-.9 .7 1 .7-.8 .7 1.2 .7-1.3 .7 4.3 .6 6.7 .1-1.1 .7-7.9 .7-1.3 .7-.7 .7 .4 .7 .5 .7-1 .7 1.3 .7-.1 .7 .1 .7-.4 .7-.1 .7 .6 .7-1.1 .7 .1 .7-.3 .7 .1 .7 .9 .7-1.1 .7 1 .7-.5 .7 .7 .7-.2 .7-.1 .7 .3 .7-1.2 .7 .3 .7 .2 .7 0 .7 .4 .7 .3 .7-.2 .7 .3 .7-.4 .7-.5 .7 .3 .7 .3 .7 .1 .7-.6 .7-.1 .7 8.2 .7 18.5 .2 5.3 .5-13.2 .7-18.3 .7-.3 .7-.4 .7 .6 .7-.2 .7 .7 .7-.1 .7-.4 .7 .4 .7 0 .7-1.1 .7 1 .7 .1 .7 .2 .7-.4 .7-.5 .7-.3 .7 .7 .7-.7 .7 .8 .7-.2 .7 .3 .7-.7 .7 0 .7 .9 .7-.4 .7-.4 .7 .2 .7-.1 .7 .3 .7-.2 .7-.4 .7 1.1 .7-.2 .7-.2 .7-.7 .7-.1 .7 .8 .7 .1 .7-.2 .7-.7 .7 .8 .7-.3 .7-.2 .7 .3 .7-.2 .7 11.8 .4 6.8 .3-5.1 .7-11.9 .7-1.4 .7 .5 .7-.4 .7-.1 .7 .4 .7-1.3 .7 1.2 .7 3.8 .6 7.2 .1-1.2 .7-8.3 .7-2.5 .7 .6 .7-.4 .7 1 .7-.2 .7-.5 .7 .4 .7-.5 .7 .2 .7-.6 .7 1.1 .7-.2 .7 0 .7-1 .7 1.1 .7-1.2 .7 .8 .7-.1 .7-.6 .7 .5 .7 .7 .7-.4 .7-.4 .7 .7 .7-.7 .7 .8 .7-.7 .7-.5 .7 1.4 .7-1.4 .7 .3 .7 .8 .7-1 .7 .6 .7 .5 .7-.4 .7-.4 .7 .6 .7 .1 .7-.3 .7 0 .7-.4 .7 .1 .7 .9 .7 0 .7-1.5 .7 .3 .7 0 .7 .9 .7-.9 .7 0 .7 .8 .7-.8 .7 1.2 .7-.8 .7 .6 .7-.1 .7-.9 .7 .9 .7-.6 .7-.3 .7-.2 .7 1 .7-.3 .7-.3 .7 .7 .7-.9 .7 .4 .7-.6 .7 .4 .7 .8 .7-.5 .7-.6 .7 .2 .7 .6 .7-.6 .7 .9 .7-1.2 .7 1.2 .7-.4 .7 .3 .7-.7 .7-.4 .7 .2 .7 .6 .7-.9 .7 .2 .7 1 .7 .1 .7 0 .7 0 .7-.5 .7 .5 .7-.3 .7-.2 .7-.2 .7-.6 .7 .1 .7 .3 .7 .3 .7-.5 .7 1.3 .7-.6 .7 .2 .7 .2 .7-1 .7 1 .7 .1 .7-1 .7-.2 .7 1 .7 .1 .7-.1 .7-.6 .7 .3 .7-.7 .6 .2 .1 .2 .7 .5 .7-1 .7 1.3 .7-1.4 .7 1.5 .7-1.1 .7 .8 .7 0 .7 .2 .7-.7 .7 .3 .7-.6 .7 .8 .7-1 .7 1.1 .7-.4 .7-.8 .7 1.3 .7-.9 .7-.4 .7 .3 .7-.4 .7 .4 .7 .7 .7 .4 .7-.6 .7 .4 .7-.1 .7-.1 .7-.5 .7-.2 .7-.2 .7 .6 .7-.5 .7 .8 .7-.6 .7 .4 .7-.1 .7 .1 .7-.7 .7 .2 .7 .6 .7-.7 .7 .7 .7 .4 .7-.8 .7 .8 .7-.5 .7 .5 .7-.6 .7 .3 .7-.1 .7-.7 .7 .5 .7 .1 .7-.2 .7 .3 .7 .4 .7-.2 .7 0 .7-1 .7 .9 .7-.2 .7 .5 .7-1.4 .7 .3 .7 1.2 .7-.9 .7 .5 .7-.2 .7-.3 .7 .1 .7 .1 .7 .7 .7-.7 .7 .4 .7-.7 .7 .6 .7-.2 .7 .2 .7 .2 .7-1.2 .7 1.4 .7-.6 .7-.5 .7 .3 .7-.6 .7 .2 .7 1 .7-.2 .7 .2 .7-1.1 .7 0 .7 .4 .7 .1 .7 .4 .7-.7 .7 .7 .7 6.6 .7 21.4 .3 9.2 .4-12.2 .7-21.4 .7-4.4 .7-.2 .7 .6 .7 .1 .7 .1 .7 3.5 .5 4.9 .2-2 .7-6.9 .7-.4 .7 1.4 .7-.8 .7 24.8 .7 29.9 .7-29.9 .7-25.1 .7 .3 .7 .4 .7-.5 .7 .5 .7 .4" fill="none" stroke="#56a64b" stroke-width="1.1" stroke-linejoin="round"/><path d="M0 120.4l.7 1.9 .7-1.7 .7-.1 .7 .9 .7-1.2 .7-.4 .7 1 .7 1.2 .7-1.4 .7-.3 .7 .1 .7 .9 .7-1 .7 .8 .7-.1 .7-1.4 .7 .9 .7 1.5 .7-1.9 .7 1.7 .7-2.1 .7 1.3 .7-.2 .7 .7 .7-2 .7 .4 .7 .8 .7 1.6 .7-1.3 .7 1.1 .7-1 .7 1.4 .7-2.8 .7 2.4 .7-1.8 .7-.1 .7 .9 .7-8.6 .7-1.2 .7-.4 .7 .5 .2 .9 .5 .2 .7-.8 .7-.6 .1 .6 .6-.6 .7 .2 .7-.8 .7 0 .7 2.1 .7-.4 .7-1.2 .7 .9 .7-1.3 .7 1.7 .7-.5 .7 .3 .7-.7 .7 .1 .7 .8 .7-1.1 .7-.5 .7 .1 .7 1.7 .7-1.4 .7-.5 .7 1.1 .7-.9 .7 .6 .7 .8 .7-1.2 .7 .4 .7 1.2 .5-.2 .2 0 .7-1.8 .7 2 .7-.9 .7-.9 .7 1.9 .7-1.9 .7 1.9 .7-2.1 .7 .1 .7 .8 .4 .3 .3 0 .7 .5 .7-1.6 .6 1.4 .1-.9 .7 1.4 .7-.7 .7 .1 .7-1.2 .7 1.7 .1-1.4 .6-.1 .7 .4 .2 .8 .5-1 .7 .3 .7 .3 .6-.8 .1-.2 .7 .6 .7 .7 .7-.1 .7-1 .7 .9 .7 .4 .7-.3 .7-1.1 .7-.3 .7 2.1 .7-.6 .7-1 .7 1 .7-.3 .7 .1 .7-.6 .7 .7 .7-.7 .7 0 .7-.1 .7 .9 .7 .3 .7-1.3 .7-.4 .7 .4 .7 1.1 .7-.9 .7-.8 .7 1.9 .7-.9 .7-.9 .7 1.5 .7-.5 .7 .8 .7-.1 .7 0 .7 .1 .7-1.1 .7 1 .7-.7 .7 .3 .7-.9 .7 .9 .7-1.2 .4 1.7 .3-1.5 .7 .9 .7 .6 .7-.1 .7 .1 .7-1 .7-.7 .7 2 .5-1.5 .2 1.2 .7-1 .7 .1 .7 .2 .7 0 .7 .5 .7-.4 .7-.9 .4 .8 .3-1 .1 1.7 .6-1.5 .7 .4 .7 .5 .7-.5 .7 1.2 .7-.3 .7-1 .3 .2 .4 .7 .3-.5 .4 .3 .7-.7 .7 .6 .7 0 .7 .7 .7-1.2 .7 1 .7-1.3 .5 .1 .2-.1 .7 1.5 .7-1.8 .7 .4 .7 .4 .7 .6 .7-.1 .7-1.2 .7 .6 .7 .7 .7-1.3 .7 0 .7 1.5 .7-1.8 .7 .2 .7 .2 .7 1.4 .7-1 .7 .1 .7 .3 .7 .8 .7-1.9 .7 .3 .7 .5 .7 .5 .7-1.1 .7 .7 .7 .3 .7-1.2 .7 .6 .7-.6 .7 1.9 .7-2 .7 .4 .7 .9 .7-.8 .7 .8 .7-.5 .7 1.4 .7-.9 .7-.5 .7-.4 .7 .7 .7 .6 .7-.1 .7 0 .7-.5 .7 1 .7-1.2 .7 .3 .7 .9 .7-.4 .7-.7 .7 .7 .7 0 .7-1.1 .7 .3 .7 .8 .7-.9 .7 0 .7 .4 .7-1 .7 .4 .7 1.6 .7-1.7 .7 1.3 .7-1.8 .7 .7 .7 .4 .7-.4 .7 1.4 .7 0 .7-1.4 .7-.4 .7 1.7 .7-.3 .7-.6 .7-1 .7-.1 .7 1.5 .7 0 .7-.5 .7-.3 .7-.1 .7 .2 .7 .1 .7 .4 .7-.4 .7-.2 .7-.2 .7 1 .7 .6 .7-1.7 .7 1.3 .7-.3 .7-.9 .7-.2 .7 1.5 .7-1.5 .7 0 .7-.1 .7 1.6 .7-1 .7-.8 .7 .6 .7 .5 .7-.1 .7-.7 .7 1.6 .7-.4 .7-.9 .7 .1 .7-.1 .7-.6 .7 1.3 .7-.7 .7 .9 .7 .3 .7-1.1 .7-.1 .7 .2 .7 .2 .7-.9 .7 .8 .7-.2 .7-.5 .7 1.6 .7-.3 .7-.4 .7-.9 .7 1.4 .7-.8 .7 1.1 .7-.5 .7-.9 .7 1.2 .7-.4 .7-.5 .7 .9 .7-1 .7-.4 .7-.2 .7 1.2 .7-.7 .7-.3 .7-.2 .7 1.6 .7-1.1 .7 1.3 .7 .1 .7-.2 .7-1.3 .4 1.6 .3-.7 .7 .5 .7 .1 .7-1.3 .7 .1 .7 1.2 .7-1.4 .7-.4 .7-.1 .7 1.1 .7-.5 .7 1.4 .7-2.1 .7 .9 .7 .7 .7-.3 .7 .5 .7-.4 .7 .5 .7 .2 .7-.2 .7-.6 .7-.4 .7 .3 .7-.7 .7 .1 .7 .5 .7-.1 .7-.1 .7-.7 .7 2 .7-1.5 .7 .4 .7-.3 .7 .4 .7 .5 .7 .4 .7-.8 .7 .8 .7-1.3 .7 .2 .7-.3 .7 1.4 .7-1.8 .7 .2 .7 1.2 .7-1.2 .7-.4 .7 .7 .7 .2 .7 0 .7-.5 .7 .3 .7-.2 .7-.2 .7 .7 .7-.6 .7-.1 .7 1.6 .7 0 .7-1.2 .7 .4 .7-1 .7-.2 .7 1.1 .7 1 .7-1.9 .7 .8 .7 .7 .7-1.7 .7 1.3 .7-.7 .7 1.1 .7 .1 .7 .1 .7-.2 .7-1.5 .7 1.2 .7-.2 .5-.5 .2-.3 .7 .6 .7-.1 .2 0 .3 1.2 .2-1.6 .7 1.4 .7-1.6 .7 1.2 .7-.5 .7-.1 .7 .2 .7-.8 .7 .2 .7 .4 .7-.5 .7 1.5 .3-.4 .4-.1 .7 .1 .7-1.1 .7-.4 .7 .2 .7 1.7 .7-.8 .7 1 .2-1.4 .5 .1 .7 .6 .7 .5 .7-1 .7 .2 .7-.3 .7-.3 .7 1.5 .7 0 .7-1 .7-.7 .7 1.6 .7-.9 .7 .6 .7-.7 .7-.7 .7 1.4 .7-1.4 .7 1.9 .7-1.7 .7 .4 .7-.8 .7 .5 .7 .9 .7-1.2 .7 .1 .7-.2 .7-.1 .7 1.1 .7-.6 .7 1.2 .7-.2 .7-.4 .7 .9 .7 .1 .7-1.4 .7 1 .7-.2 .7-1.1 .7 1.3 .7-1.6 .4 1.4 .3 .5 .7-.6 .7 .1 .7-.1 .7-.5 .7-.7 .7 .6 .7-.1 .7 1.1 .7 .1 .7 .2 .7-1.4 .7 1.3 .6 0 .1-2 .7 1.2 .7-1 .7 0 .7 .8 .7 .6 .7-1.2 .7 .3 .7 .4 .7 .1 .7-.9 .7 .1 .7-.4 .7 .7 .7 1.5 .7-1.8 .7 1.3 .7-.3 .7 .5 .4-.1 .3-1.7 .7 .6 .7 1.1 .7-.4 .7-.9 .7 21 .3 9 .4-12 .7-21 .7 3.8 .7-.5 .7 .4 .7-1.1 .7 2 .7-.2 .7-.5 .7 0 .7 .2 .7-.6 .7-.5 .7 .9 .7 .8 .7-.3 .7-.1 .7-1.4 .7 .3 .7-.1 .7 .6 .7 .8 .7-.6 .7-.1 .7-.4 .7-.5 .7 .2 .7 1.6 .7-.2 .7-.6 .7 .1 .7-1 .7-.4 .7 0 .7-.1 .7 .4 .7 1.8 .7-.9 .7-.8 .7-.3 .7-.2 .7 0 .7 .3 .7 .4 .7-.4 .7 .2 .7 .9 .7-1.1 .7 0 .7 1.4 .7-1.1 .7 .8 .7-.8 .7 .9 .7-1.5 .7 .6 .7 1.3 .7-1.3 .7 .8 .7-.9 .7-.3 .7 .7 .7 .1 .7-.9 .7 1.1 .7-.3 .7-.1 .7 .9 .7 .3 .7-1.1 .7-.2 .6 1 .1 0 .7-.6 .7 .3 .7-.6 .7 .8 .7-.3 .7 .6 .7-1.2 .7-.6 .7 1.8 .7-.6 .7 .5 .7-.2 .7 .1 .7-.9 .7 1.1 .7-.5 .7-.5 .7-.5 .7-.2 .7 .3 .7 .2 .7 0 .7 .7 .7 .7 .7-.9 .7 .3 .7-1.5 .7 1.5 .7-.3 .7 .5 .7-.9 .7 .6 .7-.3 .7 .6 .7-.7 .7 .8 .7 .1 .7-.7 .7-.1 .7 .5 .7-.5 .2 1 .5 0 .7-1 .7 .4 .7-1.3 .7 1.8 .7-.6 .7-1.3 .7-.1 .7 1.9 .7-.2 .7-.3 .7-.5 .7-.4 .7 .6 .7 .9 .7-.6 .7-1.3 .7 .4 .7-.3 .7 1.7 .7 0 .7 .1 .7-1.1 .7-.2 .7-.6 .7 .5 .7 .2 .7 .1 .7-.2 .7 .9 .7 .3 .7-1.1 .7 1 .7-1.2 .7 0 .7 1.2 .7-1.6 .7 0 .7 2 .7-1.2 .7-.1 .7 .8 .7 .3 .7-1.2 .7 1 .7-1.5 .7 1.7 .7-1.1 .4-.1 .3-.8 .7 .2 .7 .7 .7-.6 .7 1.2 .7 .7 .7-1.6 .7 1.1 .7-.4 .7 .1 .6 .3 .1-.6 .7 .7 .7-1.5 .7 1.2 .7-.3 .7-.8 .7 .1 .7 1.6 .7-.7 .7-.3 .7 0 .7 .8 .7-.5 .7-.9 .7 1.6 .7-.2 .7-.2 .7-.1 .7-.1 .7-.8 .7 1.5 .7-.6 .7-1.2 .7 1.4 .7-.9 .7-.8 .7 1.8 .7-1.4 .7 .4 .7-.7 .7 .9 .7 .1 .7 .6 .7 .3 .7-.2 .7-.4 .7-.6 .7 1.2 .7-1.6 .7 .2 .7 .5 .7-.4 .7 .4 .7-.9 .7 .2 .7-.5 .7 .9 .7-.4 .7 1.3 .7-1.2 .7-.2 .7 1.2 .7-1.2 .7 1.4 .7-.6 .7-.9 .7 1.2 .7 .7 .7-1.5 .7 .5 .7 0 .7 .9 .7 .1 .7-2.1 .7 .7 .7 1 .7-.9 .7 .2 .7 .1 .7-1.2 .7 .1 .7 1.9 .7-1.1 .7 .1 .7 .2 .7 .5 .7 .3 .7-1.8 .7 1.2 .7-1.4 .7 1.2 .7 .6 .7-.7 .7-.3 .7 1.1 .7-.4 .7 .5 .7-.8 .7-.5 .7 .8 .7-.4 .7-1.1 .7 .3 .7 1.8 .7-.7 .7-1.3 .7 1.6 .7 0 .7-1.6 .7 2.1 .7-1.8 .7 .7 .7 .5 .7-.5 .7-.3 .7 .3 .7 .3 .7 .7 .7-.2 .7 .3 .7-.4 .7-.8 .7-.2 .7 1.2 .7 0 .7-1.3 .7 1 .7-.9 .6-.7 .1 .9 .7 1 .7-.8 .7 .6 .7 .1 .7-.1 .7-1.1 .7 1.3 .7-1.8 .7 .9 .7-.9 .7 .6 .7 1.1 .7-.1 .7 .4 .7-1 .7-.1 .7-.7 .7 .7 .7 .9 .7-1.3 .7 1.2 .7-1.2 .7 1.1 .7-1.4 .7 1.7 .7-1.8 .7-.1 .7 1.1 .7 .4 .7-.1 .7-.7 .7 .7 .7-1.2 .7 .3 .7-.1 .7-.1 .7-.4 .7 .4 .7 .7 .7 .1 .7-.6 .7 .6 .7-.6 .7 1.1 .7-1.8 .7 1.7 .7 .3 .7-.7 .7 .1 .7 .8 .7-1.9 .7-.1 .7 .9 .7 .5 .7-.4 .7-.1 .7-.1 .7 0 .7 .9 .7-1.7 .7 1.2 .7-1.2 .7 1.7 .7-1.3 .7 1.2 .7-1.1 .7 .7 .7-.3 .7 1 .7-1.1 .7 .1 .7 0 .7-.5 .7 1.5 .7-1.3 .7-.5 .7 .2 .7 1.1 .7 .4 .7-.7 .7 .8 .7-1.6 .7 1.4 .7-.2 .7-1.2 .7-.3 .7 .7 .7 0 .7 .2 .7 .5 .7-1.1 .7 .1 .7 .1 .7-.3 .7 .6 .7 .3 .7-.7 .7-.3 .7 1.3 .7-1.4 .3 1.7 .4-.5 .7-.9 .7-.5 .7 1.9 .7-1.9 .7 1.7 .7-.5 .7 .3 .5-1.1 .2 1.2 .7-1 .7 .7 .7 .8 .7-.8 .7-.9 .7 .1 .7 .4 .7 .9 .7 0 .7-.9 .7 .4 .7-.5 .7 .3" fill="none" stroke="#9a7bd0" stroke-width="1.1" stroke-linejoin="round"/><path d="M0 95.8l.7 .3 .7 0 .7-.2 .7-.3 .7 0 .7 .2 .7-.1 .7-.1 .7 0 .7 .1 .7 0 .7-.1 .7 .1 .7 .4 .7-.1 .7-.1 .7 .2 .7 0 .7-.5 .7-.1 .7 .2 .7 .1 .7 .3 .7-.6 .7 .4 .7 .1 .7-.3 .7 .3 .7 0 .7-.4 .7 .3 .7-.1 .7 .2 .7-.4 .7 .3 .7-.4 .7 0 .7 14.1 .7-.1 .7 .1 .7-.3 .2 1.2 .5-.9 .7 .1 .7-.2 .1 .8 .6-1.1 .7 1.2 .7-1.1 .7 1 .7-.7 .7 .3 .7-.5 .7 .8 .7-.9 .7 .9 .7-.2 .7 .3 .7 .2 .7-.3 .7-.9 .7 .9 .7-1 .7 1 .7 .2 .7-1.2 .7-.1 .7 1.1 .7-.7 .7 .5 .7 .2 .7 .2 .7-.6 .7 .5 .5 .1 .2-.2 .7-.6 .7 .8 .7-.8 .7 .8 .7-.8 .7 .1 .7-.6 .7 .1 .7 1.2 .7-.7 .4 .4 .3-.4 .7 .4 .7-.3 .6-.6 .1 .3 .7 .5 .7-.8 .7 1.2 .7-1.3 .7 .7 .1 .5 .6-.2 .7-.9 .2 0 .5 .9 .7-.5 .7-.5 .6 .1 .1 .8 .7-1 .7 .4 .7 1 .7-1 .7 .9 .7-1.3 .7 .3 .7-.2 .7 1 .7-.2 .7 .3 .7 0 .7-.1 .7-.9 .7 .5 .7-.7 .7 1.2 .7-.6 .7 .1 .7 .6 .7 .2 .7-.6 .7-.3 .7 .7 .7 0 .7-1 .7 .4 .7 .7 .7 .1 .7-.1 .7-.7 .7-.5 .7 1.1 .7-1 .7 .6 .7-.3 .7 .7 .7-.7 .7 0 .7 .7 .7-.2 .7 .4 .7-1.3 .7 0 .4 .8 .3-.3 .7 .6 .7-.6 .7-.6 .7 .6 .7-.3 .7 .8 .7 0 .5 .1 .2-1.1 .7 .6 .7-.5 .7 1.2 .7-1.3 .7 .8 .7 .1 .7-.8 .4 .6 .3-.7 .1-.1 .6 .3 .7-.3 .7 .6 .7 .3 .7 .4 .7-1 .7 .3 .3 .3 .4-.5 .3 0 .4 .1 .7 .7 .7-.8 .7 .7 .7-1 .7 .3 .7-.1 .7-.1 .5-.1 .2 .4 .7 .6 .7-.2 .7 .5 .7-1 .7 0 .7-.1 .7 .3 .7-.5 .7 1 .7-.6 .7-.5 .7 .7 .7-.2 .7-.3 .7 .2 .7 .5 .7 .5 .7-.6 .7-.5 .7-.4 .7 .5 .7-.1 .7 .2 .7 .1 .7-.3 .7-.2 .7 1.2 .7 0 .7-.3 .7 .3 .7-.5 .7 .2 .7-.4 .7 .3 .7 .3 .7-.2 .7 .1 .7-.3 .7-.4 .7 .7 .7 .1 .7-.9 .7-.2 .7-.2 .7 .4 .7-.1 .7 0 .7-.1 .7 .3 .7-.2 .7 1.1 .7-1.3 .7-.1 .7 1.4 .7-.8 .7 .5 .7-.6 .7-.5 .7 2 .7-.6 .7-1.3 .7 .6 .7-.3 .7 .6 .7-.4 .7 .6 .7-.9 .7 .5 .7 .7 .7-.7 .7 .6 .7-1.3 .7 1.2 .7-.7 .7 .9 .7-.4 .7-.7 .7 .8 .7-.9 .7 .5 .7 .3 .7-.8 .7-.2 .7 1.2 .7-1 .7 .8 .7-.4 .7-.4 .7 1 .7-.7 .7-.2 .7 .9 .7 .2 .7-1 .7 1 .7-1.3 .7 1 .7-.3 .7-.5 .7 .2 .7-.1 .7 .5 .7-.4 .7 0 .7 .4 .7-.5 .7-.4 .7 .6 .7 .6 .7-.9 .7 0 .7 1 .7-1.2 .7 1.2 .7-.9 .7-.2 .7 .8 .7 .2 .7-.6 .7-.3 .7-.2 .7-.2 .7 1.1 .7 0 .7-.6 .7 .2 .7 .4 .7-.1 .7 0 .7 .4 .7-1 .7 1.1 .7-.6 .7-.4 .7 .5 .7-.5 .7 .1 .7 .6 .7 0 .7-.3 .7 .3 .7 .1 .7-.7 .7-.5 .7 1.3 .7-1.3 .7 .6 .7-.5 .7 .6 .7 .4 .7-1.1 .4 .6 .3-.1 .7 .4 .7 .3 .7-.3 .7-.9 .7 .4 .7 .2 .7-.5 .7 1.1 .7-.8 .7 0 .7-.2 .7 .5 .7 .4 .7-1 .7 .5 .7-.3 .7-.3 .7 .5 .7 .4 .7-.1 .7 .6 .7-.4 .7 .3 .7-.3 .7-.1 .7 .3 .7 0 .7-.2 .7-.6 .7-.1 .7 .9 .7-1.3 .7 .6 .7 .7 .7-.9 .7 .3 .7-.2 .7 .5 .7 .2 .7-1.1 .7 .5 .7 .7 .7-.7 .7 .9 .7-1.1 .7 .4 .7-.5 .7 1 .7-.6 .7 .5 .7-.2 .7-.6 .7 .9 .7-1.2 .7 1.3 .7-.2 .7-.8 .7 .5 .7-.4 .7 .2 .7 .7 .7-.7 .7 .2 .7-.8 .7 0 .7 .6 .7-.1 .7 .8 .7-.5 .7 .4 .7-.4 .7 .5 .7-.9 .7-.5 .7 1.1 .7-.1 .7-.7 .7 0 .5 .4 .2 .6 .7-.3 .7 5.4 .2 1.6 .3-2.4 .2-1.6 .7-3.7 .7 .7 .7-1 .7 .8 .7-.7 .7 .1 .7 .9 .7 .2 .7-.5 .7 .6 .7-.3 .3-.3 .4 .1 .7-.9 .7 .1 .7 1 .7-.5 .7 .8 .7-1 .7 2.5 .2 1.1 .5-2.6 .7-.6 .7-.4 .7-.3 .7 .8 .7-.9 .7 1.3 .7-1.1 .7 .9 .7 .2 .7-.9 .7 .5 .7 .1 .7-.3 .7-.1 .7 .7 .7-.9 .7 .4 .7-.8 .7 .9 .7 .6 .7-.9 .7 .5 .7-.6 .7 .1 .7 0 .7 .7 .7-.8 .7-.4 .7 .7 .7 .1 .7 0 .7-.2 .7-.3 .7 .7 .7-.7 .7 0 .7-.1 .7-.2 .7 .2 .7 .7 .4-.4 .3 .1 .7-.4 .7 .1 .7 .6 .7 .4 .7-1.2 .7 .8 .7 .4 .7-.6 .7 .5 .7-1 .7 .9 .7-1 .6 .1 .1-.2 .7-.1 .7 1.1 .7-.6 .7 0 .7 .6 .7-.7 .7 .9 .7-1 .7 1.2 .7-.2 .7-.5 .7 .6 .7-.1 .7 .1 .7-1 .7 .2 .7-.1 .7 .2 .4 .1 .3 .5 .7-.8 .7 .3 .7-.4 .7 .3 .7-.6 .3 .7 .4 .1 .7 0 .7 .4 .7-.5 .7-.4 .7 1 .7-.8 .7-.3 .7 .5 .7 .3 .7-.7 .7-.1 .7-.2 .7 .7 .7-.2 .7 .6 .7-1 .7 .7 .7-.7 .7 .1 .7-.1 .7 .8 .7 .1 .7-.4 .7 .5 .7 0 .7 .1 .7-.3 .7-.3 .7-.1 .7 .6 .7-.8 .7 0 .7 1.1 .7-.1 .7-.4 .7 .2 .7-1.1 .7 1.1 .7-.3 .7-.5 .7 0 .7 .6 .7 .4 .7-.3 .7-1 .7 .8 .7-.4 .7-.2 .7-.2 .7 .8 .7-.5 .7 .1 .7 .3 .7 .5 .7-.9 .7 .5 .7 .1 .7 .1 .7 .2 .7-1 .7 1 .7-1.2 .7 .6 .7 .4 .7 .2 .7-.8 .7 .5 .7 0 .7-.9 .7 1 .6 .2 .1-1.1 .7 .3 .7 .1 .7 .8 .7 0 .7-1.1 .7 .3 .7-.4 .7-.1 .7 .2 .7 1.1 .7 0 .7-1.1 .7 .6 .7 .1 .7-.3 .7 .6 .7-1.2 .7 .3 .7-.2 .7 1.2 .7-.2 .7-.5 .7-.6 .7 1.2 .7-.1 .7 .1 .7 .1 .7-.4 .7-.3 .7 .5 .7-1 .7 1.1 .7-.8 .7 .2 .7 .6 .7-1.3 .7 .5 .7 .7 .7-.6 .7 .8 .7-.3 .2-.8 .5 .4 .7-.2 .7 .5 .7 .1 .7-.3 .7-.7 .7 1.2 .7-1 .7 .6 .7 .3 .7-.5 .7-.6 .7 .7 .7-.7 .7 .2 .7 0 .7 0 .7 .6 .7 .2 .7-.4 .7 .7 .7-1.3 .7 .4 .7 0 .7 .3 .7 .2 .7-.6 .7 .2 .7 0 .7-.1 .7-.4 .7 1 .7-1.1 .7 .6 .7-.3 .7 .3 .7 .5 .7 .1 .7 .1 .7-.4 .7-.5 .7-.4 .7 .2 .7 1.1 .7-.7 .7 0 .7-.1 .7 0 .4-.2 .3 .1 .7 .3 .7 0 .7-.6 .7 .1 .7-.2 .7 .7 .7 .3 .7 .3 .7-.7 .6 .3 .1 .3 .7-.4 .7 0 .7-.6 .7 .8 .7 .1 .7-.6 .7 .5 .7-.7 .7-.1 .7 .3 .7 .3 .7-.2 .7-.2 .7 1 .7-.4 .7-.6 .7-.3 .7 1 .7 .3 .7-.3 .7-.1 .7 .5 .7-.5 .7-.8 .7 .5 .7-.1 .7 .3 .7-.7 .7 .7 .7 .2 .7-.7 .7 .5 .7-.4 .7 .5 .7-.3 .7 .7 .7-.7 .7-.6 .7 0 .7 .9 .7-.9 .7 1 .7-.4 .7-.2 .7 .1 .7 .7 .7-.5 .7-.2 .7 .1 .7 .2 .7-.2 .7 .4 .7-.5 .7-.2 .7-.2 .7 .5 .7-.4 .7 0 .7 0 .7 .2 .7 .9 .7-.6 .7-.4 .7 .3 .7 0 .7-.6 .7 1.1 .7-.4 .7 .7 .7-.6 .7-.5 .7 1.1 .7-1.3 .7 0 .7 0 .7 0 .7 0 .7 1.2 .7-1.2 .7 .5 .7-.5 .7 .3 .7-.4 .7 .5 .7-.2 .7 .7 .7 .4 .7-1.2 .7 .4 .7 .2 .7 .6 .7-1.4 .7 .9 .7-.4 .7 .2 .7 .3 .7-.1 .7-.4 .7 .6 .7-.3 .7-.6 .7 0 .7 0 .7 .9 .7 .1 .7-1.1 .7 .7 .7-.8 .7 0 .7 .9 .7-.2 .7-.2 .7 .1 .7 0 .7-.1 .7-.2 .7 4 .6 5.6 .1-.9 .7-6.6 .7-2 .7-.4 .7 .1 .7 .7 .7-.9 .7 .6 .7 .3 .7 0 .7-.7 .7 .4 .7-.1 .7 .7 .7 .1 .7-.4 .7 .3 .7-.6 .7 .9 .7-.4 .7 .2 .7-1.1 .7 .8 .7 0 .7 0 .7 .3 .7-1 .7-.1 .7 .6 .7-.5 .7 1.2 .7-.1 .7-.7 .7 .5 .7-.3 .7 .5 .7-.6 .7-.5 .7 1.2 .7-1.1 .7-.2 .7 1 .7-.2 .7 .3 .7-1 .7 1.1 .7-.2 .7-.2 .7-1 .7 1.1 .7-.5 .7-.4 .7 .3 .7 .9 .7-.9 .7 .2 .7 .7 .7-.3 .7-.5 .7-.1 .7 .3 .7 0 .7 .3 .7-.1 .7-.7 .7 1 .7-.1 .7-.4 .7-.6 .7 .5 .7 .6 .7-.9 .7 .1 .7 .5 .7 .1 .7 .1 .7-.6 .7 .5 .7-.8 .7-.2 .7 .9 .7-.6 .7 .9 .7-.8 .7 0 .7 .8 .7-1.3 .7 1.5 .7-1 .7-.4 .7 .4 .7-.3 .7 .2 .7 .4 .7 0 .7-.5 .7 1.2 .7-1.3 .7 0 .7 .2 .7-.4 .3 1.3 .4-1.1 .7-.2 .7 .9 .7-.4 .7-.3 .7 .5 .7-.4 .7-.2 .5 .7 .2-.4 .7 .1 .7 .2 .7 .8 .7-.6 .7 0 .7-.4 .7 .2 .7-.3 .7 .9 .7 .1 .7-.1 .7-.7 .7 .5" fill="none" stroke="#6cc8dc" stroke-width="1" stroke-linejoin="round"/><path d="M0 98.1l.7-.4 .7 .2 .7-.3 .7 0 .7 .8 .7 .1 .7-1.3 .7 .9 .7 0 .7-1.1 .7 .8 .7-.6 .7 .6 .7-.3 .7 .8 .7-.8 .7-.3 .7 .5 .7-.3 .7 .1 .7 .9 .7-1 .7 .2 .7 .4 .7 .5 .7-1.3 .7 .6 .7-.4 .7-.2 .7 .2 .7-.3 .7 .8 .7-.6 .7 .5 .7-.7 .7 .1 .7 4.6 .7 0 .7-.2 .7-1.3 .7 .9 .2-.3 .5 .6 .7-6 .7-8.3 .1-1.2 .6 7.1 .7 7.8 .7-.5 .7 .4 .7-.5 .7 .2 .7-.3 .7 .6 .7 .9 .7-1.8 .7-3.9 .7 3.9 .7 1.1 .7-.3 .7 .9 .7-1.1 .7 .5 .7 .5 .7-2.5 .7-.5 .7 1.7 .7 1.6 .7-1.2 .7 .7 .7 .4 .7-.2 .7-1.2 .7-8.4 .5-5.9 .2 2.4 .7 8.3 .7 4 .7 .7 .7-1 .7-.2 .7 .9 .7-.9 .7-4.1 .7 0 .7-3.2 .4-.3 .3 4.2 .7-4.6 .7-4.1 .6-10.1 .1 1.7 .7 11.8 .7 .6 .7 .5 .7-3.4 .7 7.1 .1 .1 .6-2.8 .7-11.4 .2-3.2 .5 8.1 .7 5.2 .7-.3 .6 .1 .1-1.2 .7-10.9 .7 10.9 .7 3.7 .7-1.1 .7 1.7 .7-.8 .7 .9 .7-2 .7-.2 .7 1.1 .7 .5 .7 6.2 .7 1 .7-1 .7 .3 .7-3.5 .7-5.7 .7 5.7 .7 3 .7 1.3 .7-.1 .7-1.1 .7-.5 .7 1.2 .7-4.7 .7-.7 .7 4.8 .7 .4 .7 .1 .7-1.6 .7-5.3 .7 2.3 .7 4.5 .7-.7 .7 1.4 .7-7.7 .7 .5 .7-.5 .7-1.5 .7 3.2 .7-2 .7-1.7 .7 .5 .7-14.1 .4-13.1 .3 9.8 .7 20.8 .7-.5 .7 .3 .7 .7 .7-4.6 .7-2.9 .7 3.4 .5 3.8 .2 .5 .7-4.2 .7 .3 .7-1 .7 1.6 .7 .8 .7-1.2 .7-9.7 .4-7.2 .3 5.4 .1 1.8 .6 10.5 .7 1.4 .7-.9 .7 .6 .7 .3 .7-.2 .7-1.2 .3-1.9 .4-4.2 .3-3.9 .4 5.3 .7 6.3 .7-3.5 .7 3.6 .7 .7 .7-1.9 .7-1.2 .7-7.4 .5-8.7 .2 3.5 .7 11.5 .7 2.5 .7-.1 .7-.3 .7-1.7 .7-.5 .7 2.3 .7-3.4 .7 2.9 .7 2.8 .7-1.8 .7-2.1 .7 .3 .7 5 .7 2.2 .7 .1 .7 0 .7 .6 .7 1 .7-1.3 .7 1 .7-.2 .7-.7 .7 .3 .7 .2 .7-1 .7 .6 .7 .5 .7 .1 .7-1.1 .7 .7 .7-.5 .7 .8 .7 .2 .7-.6 .7-.5 .7 1.2 .7-1.1 .7-.3 .7 .2 .7 0 .7 1.5 .7-1.1 .7-.5 .7 1.5 .7-.4 .7 0 .7-.4 .7 .1 .7-.1 .7-.5 .7 1.4 .7-.1 .7-.1 .7 0 .7 .1 .7-1.7 .7 .3 .7-.5 .7-2.5 .7 3.5 .7 .4 .7 0 .7-.6 .7 .1 .7 .5 .7 .3 .7-.3 .7 .4 .7-.8 .7-.3 .7 .6 .7 .6 .7-.2 .7-.4 .7-.4 .7-.3 .7 .7 .7-.7 .7 .3 .7 .3 .7 .1 .7-.2 .7-.4 .7 .5 .7-.4 .7 .4 .7 .4 .7-.6 .7-.3 .7 1.2 .7-.7 .7 0 .7-.8 .7-.1 .7 1 .7-.9 .7 .2 .7 .9 .7-.3 .7 .6 .7-1.3 .7 .3 .7-.4 .7 .2 .7 .2 .7-.1 .7 .3 .7 .8 .7-.9 .7 1.1 .7-.3 .7-1.1 .7 1.3 .7-.1 .7 0 .7-1.4 .7 1.3 .7 .3 .7-1.5 .7 1.3 .7-1.3 .7 .3 .7-.3 .7-.2 .7 .7 .7-.4 .7 1.3 .7-1.3 .7 .5 .7-.4 .7 1.1 .7-1.1 .7-.4 .7 1.6 .7-.5 .7-.4 .7-.5 .7 1.1 .7 .1 .7-.1 .7-.7 .7-.3 .7 .7 .7 0 .7 0 .7 .1 .7-.2 .7 .7 .7-1.3 .7-30.9 .4-17.6 .3 13.2 .7 30.9 .7 4.6 .7-.2 .7 .2 .7 .3 .7 0 .7-.3 .7-.4 .7 1.3 .7 .1 .7-1.1 .7-.3 .7 .7 .7 .1 .7-.5 .7 1 .7-.2 .7 .1 .7-.7 .7 .5 .7 .2 .7-.8 .7-.5 .7 1.2 .7-.8 .7 .6 .7-.8 .7 .4 .7 .6 .7 .1 .7 .4 .7-.9 .7 .2 .7 .4 .7-.3 .7 0 .7-.8 .7 1.1 .7-1.5 .7 .9 .7-.2 .7 .3 .7-.7 .7 0 .7 .5 .7 .1 .7-.4 .7-.2 .7 .8 .7-.6 .7-.4 .7 .9 .7 .4 .7 0 .7-.9 .7 .1 .7-.5 .7 .2 .7 1.1 .7 .1 .7-.2 .7 .2 .7-1 .7-.2 .7-.1 .7 1.1 .7-1.1 .7 1 .7-.2 .7-.5 .7 1.1 .7 0 .7-1.3 .7 1 .7-.1 .7-.4 .7-.8 .7-8.3 .5-5.9 .2 2.4 .7 8.3 .7-12.3 .2-3.8 .3-5.6 .2 3.7 .7 13.2 .7 9.9 .7-.3 .7-.7 .7 1 .7-1.4 .7 0 .7 1.4 .7-1.5 .7-2.1 .7-7.8 .3-3.4 .4 4.5 .7 7.9 .7 1.4 .7-.3 .7 1 .7-.9 .7-.3 .7 .5 .2 .2 .5 .8 .7-.7 .7 .3 .7-.7 .7 .1 .7 .2 .7 .7 .7-.9 .7 .1 .7 .8 .7-1.3 .7 .4 .7 1 .7-1.5 .7 1.4 .7-.3 .7-.7 .7 .2 .7 .1 .7-.2 .7 .4 .7 .2 .7 .3 .7 .2 .7-1.2 .7-.1 .7 .4 .7-.3 .7 .7 .7 .1 .7-.2 .7-.9 .7 1.5 .7-.8 .7 .5 .7-1 .7 .8 .7 0 .7-.1 .7-.3 .7-22.6 .4-13.3 .3 10 .7 23.3 .7 3.1 .7 .3 .7 0 .7-1.2 .7 .1 .7 1 .7 0 .7-.4 .7-.6 .7-.2 .7-6.2 .6-6.4 .1 1.1 .7 7.5 .7 5.2 .7-.6 .7-.1 .7 .6 .7-.1 .7-.9 .7 .8 .7-12.5 .7-12.6 .7 12.6 .7 12.4 .7-.3 .7 0 .7-.1 .7-.7 .7 .6 .7-3.6 .4-2.6 .3 2 .7 4.3 .7-.2 .7 1.3 .7-12 .7-52.5 .3-22.5 .4 30 .7 52.5 .7 4.2 .7-.7 .7 .9 .7-.8 .7-.3 .7 .4 .7-.2 .7-.7 .7 .1 .7 1.4 .7-5.1 .7-4 .7 2.4 .7-3 .7 3.1 .7 .7 .7-1.6 .7-1.7 .7 2.2 .7-2.1 .7 .7 .7 1.8 .7-3.5 .7 2.8 .7 .5 .7 .1 .7-1.4 .7-1.1 .7 1.5 .7 2.2 .7-.4 .7-.8 .7-1.2 .7 7.2 .7 .7 .7 .1 .7 0 .7-.3 .7 .1 .7-.6 .7-.4 .7 .3 .7 .2 .7-.4 .7 .7 .7-.3 .7-.6 .7 .7 .7 .4 .7-1.3 .7 .3 .7 .6 .7 0 .7-.3 .7-.1 .7 .7 .7 .4 .7-.4 .7-1 .7 1.1 .7-.5 .7 .4 .7 0 .7 .1 .7-.4 .7 .4 .7 .3 .7-.2 .7-7.5 .6-6.4 .1 1.1 .7 7.5 .7 4.7 .7 .1 .7-.6 .7 1.2 .7-.6 .7 0 .7 .7 .7-1.7 .7 1.3 .7 .2 .7-.7 .7 .6 .7-.8 .7 .5 .7 .4 .7 .1 .7-1.2 .7 .8 .7-.9 .7 .6 .7-.9 .7 1.2 .7 .1 .7-.1 .7-1 .7 .4 .7 .5 .7 .4 .7-1 .7-.5 .7 .6 .7 1.1 .7-.1 .7-.1 .7-.1 .7 .2 .7 0 .7-1.1 .7-5.4 .7-22.4 .2-6.4 .5 16 .7 18 .7-.3 .7 0 .7 1.6 .7-.4 .7-.6 .7-.6 .7 1.5 .7-.3 .7-1 .7 1.3 .7-.5 .7 .1 .7-.6 .7-.5 .7 1.4 .7-1 .7 0 .7-.2 .7 .5 .7-.7 .7 1 .7 0 .7 .3 .7-1 .7 .5 .7 .4 .7 .2 .7-1 .7 .2 .7-.2 .7 .6 .7-.2 .7-1.8 .7 .4 .7 2.3 .7-.8 .7-.6 .7 .2 .7 1 .7-.2 .7-1.1 .7 .3 .7-.4 .7 0 .7-2.9 .7-10.4 .4-6 .3 4.5 .7 10.4 .7 5.9 .7-.6 .7-1 .7 1.5 .7-.8 .7 .8 .7-.2 .7-7.9 .6-6.8 .1 1.1 .7 8 .7 4.8 .7 .1 .7 1.1 .7-.4 .7-1.3 .7 1.3 .7-.6 .7 .2 .7-.6 .7 .3 .7-.3 .7 .4 .7 .7 .7 0 .7 .2 .7-1.4 .7 1.3 .7 .2 .7-1.7 .7 1.3 .7-1.2 .7 1.4 .7-.6 .7 .4 .7-1.1 .7 .4 .7-.1 .7-.2 .7-.2 .7 1 .7-.5 .7 .3 .7 .6 .7-1.3 .7 .4 .7-.4 .7 1.1 .7-.6 .7 .2 .7-.5 .7 1.2 .7-.5 .7-.3 .7 .8 .7-.9 .7-.3 .7 .5 .7-.4 .7 .1 .7 .7 .7-.2 .7-1.2 .7 1.2 .7-.2 .7 .6 .7-1.6 .7-1.3 .7 1.4 .7 .4 .7-.3 .7-.2 .7 .7 .7-.6 .7 .7 .7 .2 .7-.9 .7 .1 .7-.1 .7 .8 .7-.5 .7 .7 .7-1.1 .7 .1 .7 1.2 .7-1.2 .7 1.4 .7 .1 .7-1.1 .7 .8 .7-.4 .7-.3 .7 1.1 .7-1.2 .7 .8 .7-.3 .7 .2 .7-.7 .7 0 .7 .8 .7 .3 .7-.3 .7-.2 .7 .6 .7-.2 .7-1.1 .7 .1 .7-4.4 .7 .3 .7-1.2 .7 .2 .7 1.3 .7-2.6 .7-1.9 .7 1.9 .7-1 .7-.4 .7-.1 .7-.4 .7 2.4 .7-1.2 .7 2.8 .7-3.8 .7 1.8 .7 .2 .7-2.1 .7 1.3 .6-6.8 .1 1.1 .7 5.9 .7 2.6 .7 .3 .7-1.7 .7 1.8 .7-4.2 .7 3.3 .7-.5 .7-.5 .7-.7 .7 .4 .7-.9 .7-.2 .7 1.1 .7 1.7 .7-4.4 .7 1.4 .7 3.1 .7-1.8 .7-1.6 .7-1.2 .7 4.7 .7 .3 .7-2.4 .7 .3 .7-2.4 .7 .4 .7 2.4 .7-.4 .7-.8 .7-1.5 .7 3.4 .7-1 .7 1.6 .7-2.8 .7 3.1 .7-4.6 .7 2.1 .7-.3 .7 2.5 .7-.8 .7-1.1 .7-2 .7 1.6 .7 1.3 .7-3.5 .7 1.6 .7 .7 .7 1.6 .7-.5 .7-3 .7 3.8 .7-2 .7-.4 .7 1.3 .7 5.4 .7 .6 .7-.9 .7 1.4 .7-.3 .7-.3 .7 .2 .7-.8 .7 0 .7-.2 .7 .6 .7 1 .7-.9 .7 0 .7 .1 .7 .4 .7-.8 .7-.3 .7 1.4 .7-1 .7 .5 .7-.2 .7-.7 .7-.1 .7 .5 .7 .8 .7-1.3 .7 1.4 .7-.4 .7-.8 .7 .9 .7 .1 .7-1.2 .7 0 .7 1.1 .7-.1 .7 .2 .7 .3 .7-.3 .7-1.3 .7 1.7 .7-.3 .7 0 .7-4.1 .7-26.3 .3-11.3 .4 15 .7 26 .7-.4 .7 1.5 .7-.5 .7-1.2 .7 .4 .7-7.5 .5-5.3 .2 2.1 .7 7.5 .7 4.4 .7-.3 .7-1.3 .7-21.9 .7-37.3 .7 37.3 .7 21.8 .7 .6 .7 0 .7 .9 .7 .2 .7-1.3" fill="none" stroke="#f2cc0c" stroke-width="1.1" stroke-linejoin="round"/><path d="M0 99.4l.7 .3 .7 0 .7 .3 .7 1 .7-1 .7 .2 .7 .2 .7-.1 .7 .5 .7 .2 .7-1.4 .7 1.1 .7 .5 .7-1.8 .7 1 .7-.4 .7 .7 .7 .4 .7-.4 .7-1 .7 1.2 .7-1.3 .7 1.2 .7-1.2 .7 1.4 .7-.5 .7 .6 .7 0 .7-.7 .7 .3 .7-.4 .7 .7 .7-.2 .7 0 .7-1.2 .7 1.6 .7-.6 .7-.9 .7 .6 .7 .6 .7-1.5 .2 1.8 .5-.1 .7 .3 .7-.9 .1-.8 .6 1.1 .7 0 .7-1 .7 1.4 .7 .2 .7-1.3 .7 1.1 .7-.9 .7 .8 .7-.9 .7-.5 .7 .8 .7 .4 .7-.7 .7-.2 .7 1.3 .7-.4 .7-.3 .7-.2 .7 .5 .7-.8 .7 .8 .7-1.3 .7 1.1 .7 .3 .7 .2 .7-.1 .7-.1 .5-1.4 .2 1 .7-.1 .7-1 .7 0 .7 .4 .7 1 .7-.2 .7-.3 .7 .5 .7-.2 .7 .3 .4-.1 .3-1 .7 .3 .7 .3 .6 0 .1-.3 .7-.2 .7 1.4 .7-1.7 .7 .8 .7 .2 .1-1.2 .6 .4 .7 .8 .2 .7 .5-.9 .7 0 .7 .2 .6 .5 .1-1 .7 .7 .7-1 .7 .4 .7 .5 .7-1.1 .7 .8 .7 .7 .7-.4 .7 .5 .7-.8 .7-.9 .7-.1 .7 .6 .7 1 .7-.2 .7 .1 .7-.3 .7-.6 .7 1.3 .7-1 .7 .1 .7-.4 .7-.4 .7 .9 .7-.4 .7 .7 .7-.4 .7-.4 .7 1.2 .7-.9 .7 0 .7 .6 .7-.1 .7-1.1 .7 .9 .7 .3 .7-.2 .7-.4 .7 .2 .7 .1 .7 .1 .7 .2 .7-.6 .7-.2 .4 1 .3-1 .7 .6 .7-1.4 .7 .1 .7 1.6 .7-1.1 .7 .7 .7 .5 .5-1.6 .2 0 .7 .2 .7 .3 .7-.7 .7 .9 .7-.3 .7 .1 .7-.4 .4 0 .3 1.1 .1 .2 .6-.7 .7-.1 .7 .5 .7-1 .7 0 .7 .3 .7 .3 .3-.3 .4 1 .3-1.2 .4 1.3 .7-1.5 .7 .5 .7 .7 .7 .2 .7-.8 .7 .3 .7-.5 .5 1.2 .2-1.6 .7 .9 .7 0 .7-.6 .7 .3 .7 .3 .7 .3 .7-.3 .7 .8 .7-.4 .7-1.2 .7 1.5 .7 0 .7-1.5 .7 1 .7-.4 .7-.1 .7-.2 .7 .8 .7-.9 .7 1.5 .7-1.7 .7 1.1 .7-.7 .7 .7 .7-.9 .7 .7 .7-.4 .7 .6 .7-1.1 .7 .1 .7 1.2 .7-1.1 .7-.4 .7 1.4 .7 .1 .7-1.5 .7 0 .7 1.6 .7-1.3 .7-.3 .7 1.4 .7-1.1 .7 1 .7-1 .7 .6 .7 .1 .7 .7 .7-1.1 .7-.1 .7 .8 .7 .5 .7-.1 .7-.3 .7-1.5 .7 .5 .7-.3 .7 .3 .7 1.2 .7-.5 .7-1.1 .7 .2 .7-.3 .7 .4 .7 .2 .7-.1 .7-.3 .7 .9 .7 .8 .7-.5 .7 .6 .7-.5 .7-.7 .7 .6 .7 .1 .7 .3 .7-.5 .7-.3 .7-.2 .7-.7 .7 1.8 .7-.4 .7 .3 .7-1.7 .7 .6 .7 0 .7-.3 .7 1.6 .7-1.8 .7 1.1 .7-.6 .7 .5 .7-.7 .7 .9 .7 0 .7 .1 .7-.9 .7 .5 .7 .6 .7-.4 .7-.4 .7 .4 .7-.5 .7-.5 .7 .4 .7-.3 .7 1 .7-1.1 .7-.2 .7 .8 .7 1.1 .7-.2 .7-1.3 .7-.2 .7 .3 .7 .4 .7-.1 .7 .9 .7-1 .7-.8 .7 1.6 .7-.8 .7-.5 .7 .4 .7 .6 .7 .2 .7-1 .7-.4 .7 .1 .7 1 .7-.7 .7-.1 .7 .8 .7-.7 .7 .7 .7 .4 .7 .4 .7-1.4 .7-.1 .7 1.4 .7 0 .7-.5 .7 .2 .7-1.1 .7 1.1 .7-.8 .7 .1 .7 .4 .7-1 .7 .8 .7-.1 .7-.3 .4 .5 .3 .4 .7-1.5 .7 .4 .7 .4 .7 .1 .7-.2 .7 .6 .7 .5 .7-1 .7-.7 .7 1.6 .7-1.8 .7 1.3 .7-1.3 .7 .5 .7 1 .7 .1 .7-1.4 .7-.2 .7 .4 .7 .4 .7 .1 .7-.5 .7 0 .7-.1 .7 1.1 .7-1.1 .7-.2 .7 .8 .7 1.1 .7-.4 .7-.9 .7 .4 .7-.9 .7 .5 .7-.1 .7 1.1 .7-.7 .7-.4 .7-.4 .7 0 .7 1.3 .7-.5 .7-1 .7 1.8 .7 .1 .7-.3 .7-1.1 .7 .8 .7-.7 .7-.3 .7 .1 .7 1.5 .7-1.3 .7-.2 .7 .2 .7-.3 .7 .1 .7 .4 .7-.5 .7 .6 .7 .9 .7-.4 .7-1.3 .7 1.2 .7-.2 .7-.8 .7 .3 .7-.2 .7 .7 .7-.1 .7 .8 .7-.2 .7 .1 .7-.8 .7 0 .7 1 .7-1.2 .7 1.1 .5-.6 .2 .7 .7-.9 .7 .7 .2-1.6 .3 1.2 .2-1 .7 .8 .7 .2 .7-1 .7 1.2 .7-.5 .7-.3 .7-.7 .7 .6 .7 1.3 .7-.8 .7-1 .3 .2 .4 1 .7 .4 .7-.2 .7-1 .7 1.1 .7-1.4 .7 1.3 .7-.9 .2 0 .5 .9 .7-.5 .7-.3 .7 .8 .7-.6 .7-.2 .7-.6 .7 1.3 .7 .3 .7-.7 .7-.2 .7 .2 .7-.8 .7 1.4 .7-.6 .7 .1 .7 .5 .7-.5 .7 0 .7 .1 .7-.7 .7-.5 .7 .1 .7 1.5 .7-.3 .7-1.2 .7 1.7 .7 0 .7 .1 .7-1.8 .7 .9 .7 .1 .7 .7 .7-1.6 .7-.2 .7 .6 .7-.4 .7 .7 .7 .5 .7 .2 .7-.2 .4 .3 .3-.4 .7 .6 .7 0 .7-1.7 .7 .1 .7 .1 .7 .9 .7-.2 .7-.2 .7-.5 .7 1 .7-.4 .7-.1 .6-.6 .1 1 .7 .7 .7-.8 .7-1 .7 1.5 .7-1 .7 1 .7-.2 .7-.7 .7 1 .7-.7 .7-.3 .7 .4 .7-.7 .7-.2 .7 1.1 .7-.9 .7 0 .7 .3 .4 0 .3 .1 .7-.4 .7 .1 .7 .9 .7-.8 .7-.1 .3 .5 .4-.9 .7 1.2 .7-.5 .7 0 .7-.1 .7 .8 .7-.9 .7 1.1 .7-.9 .7 .2 .7-.5 .7-.3 .7-.3 .7 1.5 .7-1.3 .7 .9 .7-.1 .7 .9 .7-1.6 .7 1.2 .7-.1 .7 0 .7 .1 .7-.1 .7 0 .7-.5 .7 .4 .7-.8 .7-.4 .7 0 .7 1.1 .7-.6 .7-.1 .7 .1 .7 .6 .7 .4 .7-1.1 .7 .2 .7 .6 .7-.6 .7 1.2 .7-1.5 .7-.2 .7-.1 .7 1.7 .7-1.2 .7-.2 .7 1.3 .7-.9 .7 .8 .7 0 .7 .3 .7-.5 .7-1.1 .7 .5 .7-.4 .7-.3 .7 1.6 .7-1.4 .7-.1 .7 .5 .7 .6 .7 .3 .7-.5 .7 .2 .7 .2 .7-.8 .7 0 .7 .8 .7 .2 .7-.7 .6-.4 .1 .1 .7 0 .7-.5 .7 .3 .7 .6 .7-.6 .7 .2 .7 .6 .7 .4 .7-.5 .7-.6 .7-.1 .7 .9 .7-.5 .7 1 .7-1.1 .7 .3 .7-.6 .7-.2 .7 1.6 .7-1.8 .7 1.6 .7-1.6 .7-.1 .7 1.6 .7-.2 .7 .3 .7-1.5 .7 .3 .7-.4 .7 .3 .7 .9 .7-.8 .7 .8 .7 0 .7-.2 .7-.5 .7 .8 .7-.5 .7 0 .7-.5 .7 .7 .2 .1 .5-.3 .7 .2 .7-.6 .7 1.3 .7-.2 .7 .3 .7-.7 .7-.9 .7 .5 .7-.1 .7-.6 .7 .3 .7 1 .7 .2 .7-.7 .7 .6 .7-.7 .7 1 .7-.6 .7-.6 .7 .9 .7 .2 .7-1.2 .7 1.1 .7-1.4 .7 .6 .7-.6 .7 .7 .7 .1 .7 .5 .7 .4 .7-1.8 .7 1.5 .7 .2 .7-1.7 .7 .8 .7-.1 .7-.6 .7 .3 .7 1 .7-.1 .7-.7 .7-.1 .7 .9 .7 0 .7-.5 .7 .9 .7-1.5 .4 .3 .3 1 .7-.9 .7 0 .7 1 .7-.7 .7-.7 .7 .7 .7-.6 .7 1 .7-1.5 .6 .7 .1 .2 .7 1.1 .7-.7 .7 .7 .7-.9 .7 .5 .7-.1 .7-.1 .7 .3 .7-.3 .7-.4 .7 .7 .7-.8 .7-.8 .7 .5 .7-.5 .7 1.7 .7-1.1 .7 .8 .7-1.4 .7 .9 .7-.4 .7-.2 .7 1.3 .7 .1 .7-1.4 .7 0 .7 .7 .7 .9 .7 0 .7-1.6 .7 .2 .7 .7 .7-.7 .7-.2 .7 1.6 .7-1.5 .7-.5 .7 .3 .7-.1 .7 .9 .7-.3 .7 1 .7-1.4 .7 .3 .7 .5 .7 .7 .7-.3 .7-.4 .7-1 .7 .9 .7-.8 .7 1.3 .7-.1 .7 0 .7-.1 .7-1 .7 .9 .7 .1 .7-.8 .7 .5 .7-.9 .7 .4 .7-.3 .7 .8 .7 .1 .7-.1 .7-1.1 .7 .1 .7 .8 .7 .1 .7 .9 .7-1.6 .7 .5 .7 .4 .7 .5 .7-.6 .7-.5 .7 .9 .7 0 .7-.5 .7 0 .7 1 .7-.1 .7-.6 .7-.7 .7 .6 .7 .8 .7-.5 .7 .1 .7-1.1 .7 1 .7-1.5 .7 1.4 .7 .2 .7 .4 .7-1 .7 0 .7-.6 .7 .3 .7 .2 .7 1 .7-1.8 .7 1.4 .7 0 .7 .2 .7-.9 .7-.1 .7 .7 .7 .1 .7 .5 .7-1.2 .7-.2 .7 1.2 .7-.3 .7-1 .7 .1 .7 1.1 .6-1.7 .1 .6 .7 0 .7 .8 .7-1.3 .7 1 .7-.4 .7-.7 .7 .3 .7 1.3 .7 .1 .7-.1 .7 .2 .7-1.6 .7 .7 .7 .1 .7 .3 .7-.3 .7 .1 .7-.6 .7 .7 .7-.9 .7 0 .7 0 .7 .2 .7 1.2 .7-.5 .7-.9 .7 1 .7-.4 .7 .7 .7-1.2 .7 .9 .7 0 .7-.9 .7 1.4 .7 .2 .7-.8 .7-.1 .7 .7 .7-.6 .7-.7 .7-.3 .7 0 .7 .2 .7 1.5 .7-.6 .7-.2 .7 .8 .7-1.5 .7 1 .7-1 .7 .2 .7 .9 .7-.2 .7-.2 .7 .5 .7 .4 .7-.8 .7 .3 .7 0 .7-1.1 .7 .1 .7 .7 .7 .8 .7-1.5 .7 1 .7 .3 .7-1.3 .7-.3 .7 1.3 .7-.6 .7-.7 .7 .8 .7 .3 .7 .4 .7 .2 .7-1.7 .7 .2 .7 1.2 .7-.9 .7 .9 .7-1.1 .7 .7 .7-.6 .7 .3 .7 .9 .7-.9 .7-.2 .7 1.2 .7 0 .7-.4 .7-.9 .7-.6 .7 1.1 .7-.8 .7 .3 .7 .9 .7-.4 .7-.8 .7 .7 .7 0 .3-.4 .4 1.1 .7-.6 .7-.1 .7-.1 .7-.3 .7 .9 .7-.4 .7 0 .5 .7 .2-1.4 .7-.3 .7 .8 .7 .3 .7 .1 .7-.2 .7 .2 .7 .2 .7-1.4 .7 1.2 .7 .3 .7-.9 .7 1.3 .7-.7" fill="none" stroke="#e0401c" stroke-width="1.1" stroke-linejoin="round"/><line x1="0" y1="104.6" x2="644.1" y2="104.6" stroke="#f3efe6" stroke-width="1.3"/><line x1="0" y1="106.0" x2="644.1" y2="106.0" stroke="#3d3f9a" stroke-width="0.9"/><circle cx="355.9" cy="112.0" r="2.3" fill="#8b1c1c"/><circle cx="355.9" cy="119.2" r="2.5" fill="#f4dcd0"/></svg>
<span class="t" style="left:27.65px;top:611.10px;font-size:12.00px;line-height:12.00px;color:rgba(204,204,220,0.85);letter-spacing:0.569px">40 Mb/s</span>
<span class="t" style="left:27.65px;top:655.60px;font-size:12.00px;line-height:12.00px;color:rgba(204,204,220,0.85);letter-spacing:0.569px">20 Mb/s</span>
<span class="t" style="left:45.65px;top:700.10px;font-size:12.00px;line-height:12.00px;color:rgba(204,204,220,0.85);letter-spacing:0.520px">0 b/s</span>
<span class="t" style="left:23.34px;top:744.60px;font-size:12.00px;line-height:12.00px;color:rgba(204,204,220,0.85);letter-spacing:0.533px">-20 Mb/s</span>
<span class="t" style="left:113.50px;top:788.55px;font-size:12.00px;line-height:12.00px;color:rgba(204,204,220,0.85);letter-spacing:0.894px">04:00</span>
<span class="t" style="left:167.23px;top:788.55px;font-size:12.00px;line-height:12.00px;color:rgba(204,204,220,0.85);letter-spacing:0.894px">06:00</span>
<span class="t" style="left:220.96px;top:788.55px;font-size:12.00px;line-height:12.00px;color:rgba(204,204,220,0.85);letter-spacing:0.894px">08:00</span>
<span class="t" style="left:274.69px;top:788.55px;font-size:12.00px;line-height:12.00px;color:rgba(204,204,220,0.85);letter-spacing:0.894px">10:00</span>
<span class="t" style="left:328.42px;top:788.55px;font-size:12.00px;line-height:12.00px;color:rgba(204,204,220,0.85);letter-spacing:0.894px">12:00</span>
<span class="t" style="left:382.15px;top:788.55px;font-size:12.00px;line-height:12.00px;color:rgba(204,204,220,0.85);letter-spacing:0.894px">14:00</span>
<span class="t" style="left:435.88px;top:788.55px;font-size:12.00px;line-height:12.00px;color:rgba(204,204,220,0.85);letter-spacing:0.894px">16:00</span>
<span class="t" style="left:489.61px;top:788.55px;font-size:12.00px;line-height:12.00px;color:rgba(204,204,220,0.85);letter-spacing:0.894px">18:00</span>
<span class="t" style="left:543.34px;top:788.55px;font-size:12.00px;line-height:12.00px;color:rgba(204,204,220,0.85);letter-spacing:0.894px">20:00</span>
<span class="t" style="left:597.07px;top:788.55px;font-size:12.00px;line-height:12.00px;color:rgba(204,204,220,0.85);letter-spacing:0.894px">22:00</span>
<span class="t" style="left:650.80px;top:788.55px;font-size:12.00px;line-height:12.00px;color:rgba(204,204,220,0.85);letter-spacing:0.894px">00:00</span>
<span class="t" style="left:704.70px;top:788.55px;font-size:12.00px;line-height:12.00px;color:rgba(204,204,220,0.85);letter-spacing:0.483px">02:0</span>
<span class="t" style="left:761.40px;top:598.58px;font-size:12.50px;line-height:12.50px;color:#6e9fff;letter-spacing:0.217px;-webkit-text-stroke:0.35px #6e9fff">Name</span>
<div class="b" style="left:732.00px;top:616.50px;width:154.00px;height:1.00px;background:rgba(204,204,220,0.12)"></div>
<div class="b" style="left:732.00px;top:640.10px;width:154.00px;height:1.00px;background:rgba(204,204,220,0.12)"></div>
<div class="b" style="left:732.00px;top:664.30px;width:154.00px;height:1.00px;background:rgba(204,204,220,0.12)"></div>
<div class="b" style="left:732.00px;top:687.40px;width:154.00px;height:1.00px;background:rgba(204,204,220,0.12)"></div>
<div class="b" style="left:732.00px;top:711.60px;width:154.00px;height:1.00px;background:rgba(204,204,220,0.12)"></div>
<div class="b" style="left:732.00px;top:735.20px;width:154.00px;height:1.00px;background:rgba(204,204,220,0.12)"></div>
<div class="b" style="left:732.00px;top:759.20px;width:154.00px;height:1.00px;background:rgba(204,204,220,0.12)"></div>
<div class="b" style="left:732.00px;top:783.40px;width:154.00px;height:1.00px;background:rgba(204,204,220,0.12)"></div>
<div class="b" style="left:740.00px;top:627.30px;width:13.50px;height:3.50px;background:#73bf69;border-radius:1.5px"></div>
<span class="t" style="left:761.40px;top:622.98px;font-size:12.50px;line-height:12.50px;color:#ccccdc;letter-spacing:0.168px">Rx br-166241562b36</span>
<div class="b" style="left:740.00px;top:651.15px;width:13.50px;height:3.50px;background:#f2cc0c;border-radius:1.5px"></div>
<span class="t" style="left:761.40px;top:646.83px;font-size:12.50px;line-height:12.50px;color:#ccccdc;letter-spacing:0.237px">Rx br-7ce42df8ee21</span>
<div class="b" style="left:740.00px;top:675.00px;width:13.50px;height:3.50px;background:#8ab8ff;border-radius:1.5px"></div>
<span class="t" style="left:761.40px;top:670.68px;font-size:12.50px;line-height:12.50px;color:#ccccdc;letter-spacing:0.285px">Rx br-80d6873013d8</span>
<div class="b" style="left:740.00px;top:698.85px;width:13.50px;height:3.50px;background:#ff780a;border-radius:1.5px"></div>
<span class="t" style="left:761.40px;top:694.53px;font-size:12.50px;line-height:12.50px;color:#ccccdc;letter-spacing:0.421px">Rx br-97c565000ec4</span>
<div class="b" style="left:740.00px;top:722.70px;width:13.50px;height:3.50px;background:#f2495c;border-radius:1.5px"></div>
<span class="t" style="left:761.40px;top:718.38px;font-size:12.50px;line-height:12.50px;color:#ccccdc;letter-spacing:0.467px">Rx br-bbee802dff26</span>
<div class="b" style="left:740.00px;top:746.55px;width:13.50px;height:3.50px;background:#5794f2;border-radius:1.5px"></div>
<span class="t" style="left:761.40px;top:742.23px;font-size:12.50px;line-height:12.50px;color:#ccccdc;letter-spacing:0.432px">Rx br-dd2729446dc7</span>
<div class="b" style="left:740.00px;top:770.40px;width:13.50px;height:3.50px;background:#b877d9;border-radius:1.5px"></div>
<span class="t" style="left:761.40px;top:766.08px;font-size:12.50px;line-height:12.50px;color:#ccccdc;letter-spacing:0.538px">Rx br-f0b0c86cdb33</span>
<div class="b" style="left:732px;top:786px;width:154px;height:6px;overflow:hidden"><span class="t" style="left:29px;top:3px;font-size:12.5px;line-height:12.5px;color:#ccccdc">Rx br-f79e5e5729a1</span></div>
<div class="b" style="left:732.00px;top:792.00px;width:145.50px;height:9.00px;background:#6b6b6f"></div>
<div class="b" style="left:886.00px;top:593.00px;width:8.00px;height:13.50px;background:#7b7b80"></div>
<div class="b" style="left:911.00px;top:552.00px;width:893.00px;height:256.00px;background:#181b1f;border:1px solid rgba(204,204,220,0.12);border-radius:2px"></div>
<span class="t" style="left:920.10px;top:563.20px;font-size:14.00px;line-height:14.00px;color:#ccccdc;letter-spacing:0.540px;-webkit-text-stroke:0.35px #ccccdc">Disk Space Used Basic</span>
<svg class="s" style="left:1092.90px;top:561.20px;" width="16.00" height="16.00" viewBox="0 0 16.00 16.00"><circle cx="8" cy="8" r="6.20" fill="none" stroke="#a0a1aa" stroke-width="1.4"/><rect x="7.25" y="7.2" width="1.5" height="4" fill="#a0a1aa"/><circle cx="8" cy="5.3" r="0.85" fill="#a0a1aa"/></svg>
<svg class="s" style="left:961.20px;top:601.10px;" width="828.10" height="147.20" viewBox="0 0 828.10 147.20"><line x1="0" y1="146.2" x2="828.1" y2="146.2" stroke="rgba(204,204,220,0.10)"/><line x1="0" y1="117.0" x2="828.1" y2="117.0" stroke="rgba(204,204,220,0.10)"/><line x1="0" y1="87.7" x2="828.1" y2="87.7" stroke="rgba(204,204,220,0.10)"/><line x1="0" y1="58.5" x2="828.1" y2="58.5" stroke="rgba(204,204,220,0.10)"/><line x1="0" y1="29.2" x2="828.1" y2="29.2" stroke="rgba(204,204,220,0.10)"/><line x1="0" y1="0.5" x2="828.1" y2="0.5" stroke="rgba(204,204,220,0.10)"/><line x1="66.1" y1="0" x2="66.1" y2="146.2" stroke="rgba(204,204,220,0.10)"/><line x1="135.1" y1="0" x2="135.1" y2="146.2" stroke="rgba(204,204,220,0.10)"/><line x1="204.2" y1="0" x2="204.2" y2="146.2" stroke="rgba(204,204,220,0.10)"/><line x1="273.2" y1="0" x2="273.2" y2="146.2" stroke="rgba(204,204,220,0.10)"/><line x1="342.2" y1="0" x2="342.2" y2="146.2" stroke="rgba(204,204,220,0.10)"/><line x1="411.2" y1="0" x2="411.2" y2="146.2" stroke="rgba(204,204,220,0.10)"/><line x1="480.3" y1="0" x2="480.3" y2="146.2" stroke="rgba(204,204,220,0.10)"/><line x1="549.3" y1="0" x2="549.3" y2="146.2" stroke="rgba(204,204,220,0.10)"/><line x1="618.3" y1="0" x2="618.3" y2="146.2" stroke="rgba(204,204,220,0.10)"/><line x1="687.4" y1="0" x2="687.4" y2="146.2" stroke="rgba(204,204,220,0.10)"/><line x1="756.4" y1="0" x2="756.4" y2="146.2" stroke="rgba(204,204,220,0.10)"/><line x1="825.4" y1="0" x2="825.4" y2="146.2" stroke="rgba(204,204,220,0.10)"/><path d="M0 93.1 L454.8 93.1 L457.8 89.2 L828.1 89.2 L828.1 146.2 L0.0 146.2 Z" fill="#6f6217"/><path d="M0 93.1 L454.8 93.1 L457.8 89.2 L828.1 89.2" fill="none" stroke="#f2cc0c" stroke-width="1.3"/><line x1="0" y1="117.0" x2="828.1" y2="117.0" stroke="rgba(204,204,220,0.08)"/><line x1="0" y1="87.7" x2="828.1" y2="87.7" stroke="rgba(204,204,220,0.08)"/><line x1="0" y1="58.5" x2="828.1" y2="58.5" stroke="rgba(204,204,220,0.08)"/><line x1="0" y1="29.2" x2="828.1" y2="29.2" stroke="rgba(204,204,220,0.08)"/><line x1="0" y1="0.5" x2="828.1" y2="0.5" stroke="rgba(204,204,220,0.08)"/><line x1="66.1" y1="88.9" x2="66.1" y2="146.2" stroke="rgba(204,204,220,0.08)"/><line x1="135.1" y1="88.9" x2="135.1" y2="146.2" stroke="rgba(204,204,220,0.08)"/><line x1="204.2" y1="88.9" x2="204.2" y2="146.2" stroke="rgba(204,204,220,0.08)"/><line x1="273.2" y1="88.9" x2="273.2" y2="146.2" stroke="rgba(204,204,220,0.08)"/><line x1="342.2" y1="88.9" x2="342.2" y2="146.2" stroke="rgba(204,204,220,0.08)"/><line x1="411.2" y1="88.9" x2="411.2" y2="146.2" stroke="rgba(204,204,220,0.08)"/><line x1="480.3" y1="88.9" x2="480.3" y2="146.2" stroke="rgba(204,204,220,0.08)"/><line x1="549.3" y1="88.9" x2="549.3" y2="146.2" stroke="rgba(204,204,220,0.08)"/><line x1="618.3" y1="88.9" x2="618.3" y2="146.2" stroke="rgba(204,204,220,0.08)"/><line x1="687.4" y1="88.9" x2="687.4" y2="146.2" stroke="rgba(204,204,220,0.08)"/><line x1="756.4" y1="88.9" x2="756.4" y2="146.2" stroke="rgba(204,204,220,0.08)"/><line x1="825.4" y1="88.9" x2="825.4" y2="146.2" stroke="rgba(204,204,220,0.08)"/><line x1="0" y1="146.1" x2="828.1" y2="146.1" stroke="#a3c35a" stroke-width="1.4"/></svg>
<span class="t" style="left:937.86px;top:741.40px;font-size:12.00px;line-height:12.00px;color:rgba(204,204,220,0.85)">0%</span>
<span class="t" style="left:931.19px;top:712.16px;font-size:12.00px;line-height:12.00px;color:rgba(204,204,220,0.85)">20%</span>
<span class="t" style="left:931.19px;top:682.92px;font-size:12.00px;line-height:12.00px;color:rgba(204,204,220,0.85)">40%</span>
<span class="t" style="left:931.19px;top:653.68px;font-size:12.00px;line-height:12.00px;color:rgba(204,204,220,0.85)">60%</span>
<span class="t" style="left:931.19px;top:624.44px;font-size:12.00px;line-height:12.00px;color:rgba(204,204,220,0.85)">80%</span>
<span class="t" style="left:924.50px;top:595.20px;font-size:12.00px;line-height:12.00px;color:rgba(204,204,220,0.85)">100%</span>
<span class="t" style="left:1010.50px;top:756.90px;font-size:12.00px;line-height:12.00px;color:rgba(204,204,220,0.85);letter-spacing:0.894px">04:00</span>
<span class="t" style="left:1079.53px;top:756.90px;font-size:12.00px;line-height:12.00px;color:rgba(204,204,220,0.85);letter-spacing:0.894px">06:00</span>
<span class="t" style="left:1148.56px;top:756.90px;font-size:12.00px;line-height:12.00px;color:rgba(204,204,220,0.85);letter-spacing:0.894px">08:00</span>
<span class="t" style="left:1217.59px;top:756.90px;font-size:12.00px;line-height:12.00px;color:rgba(204,204,220,0.85);letter-spacing:0.894px">10:00</span>
<span class="t" style="left:1286.62px;top:756.90px;font-size:12.00px;line-height:12.00px;color:rgba(204,204,220,0.85);letter-spacing:0.894px">12:00</span>
<span class="t" style="left:1355.65px;top:756.90px;font-size:12.00px;line-height:12.00px;color:rgba(204,204,220,0.85);letter-spacing:0.894px">14:00</span>
<span class="t" style="left:1424.68px;top:756.90px;font-size:12.00px;line-height:12.00px;color:rgba(204,204,220,0.85);letter-spacing:0.894px">16:00</span>
<span class="t" style="left:1493.71px;top:756.90px;font-size:12.00px;line-height:12.00px;color:rgba(204,204,220,0.85);letter-spacing:0.894px">18:00</span>
<span class="t" style="left:1562.74px;top:756.90px;font-size:12.00px;line-height:12.00px;color:rgba(204,204,220,0.85);letter-spacing:0.894px">20:00</span>
<span class="t" style="left:1631.77px;top:756.90px;font-size:12.00px;line-height:12.00px;color:rgba(204,204,220,0.85);letter-spacing:0.894px">22:00</span>
<span class="t" style="left:1700.80px;top:756.90px;font-size:12.00px;line-height:12.00px;color:rgba(204,204,220,0.85);letter-spacing:0.894px">00:00</span>
<span class="t" style="left:1769.83px;top:756.90px;font-size:12.00px;line-height:12.00px;color:rgba(204,204,220,0.85);letter-spacing:0.894px">02:00</span>
<div class="b" style="left:1797.50px;top:754.00px;width:7.00px;height:16.00px;background:#181b1f"></div>
<div class="b" style="left:924.20px;top:787.50px;width:13.50px;height:3.50px;background:#73bf69;border-radius:1.5px"></div>
<span class="t" style="left:946.40px;top:782.38px;font-size:12.50px;line-height:12.50px;color:#ccccdc;letter-spacing:0.566px">/boot/efi</span>
<div class="b" style="left:1005.80px;top:787.50px;width:13.50px;height:3.50px;background:#f2cc0c;border-radius:1.5px"></div>
<span class="t" style="left:1027.90px;top:782.38px;font-size:12.50px;line-height:12.50px;color:#ccccdc">/</span>
</body></html>
